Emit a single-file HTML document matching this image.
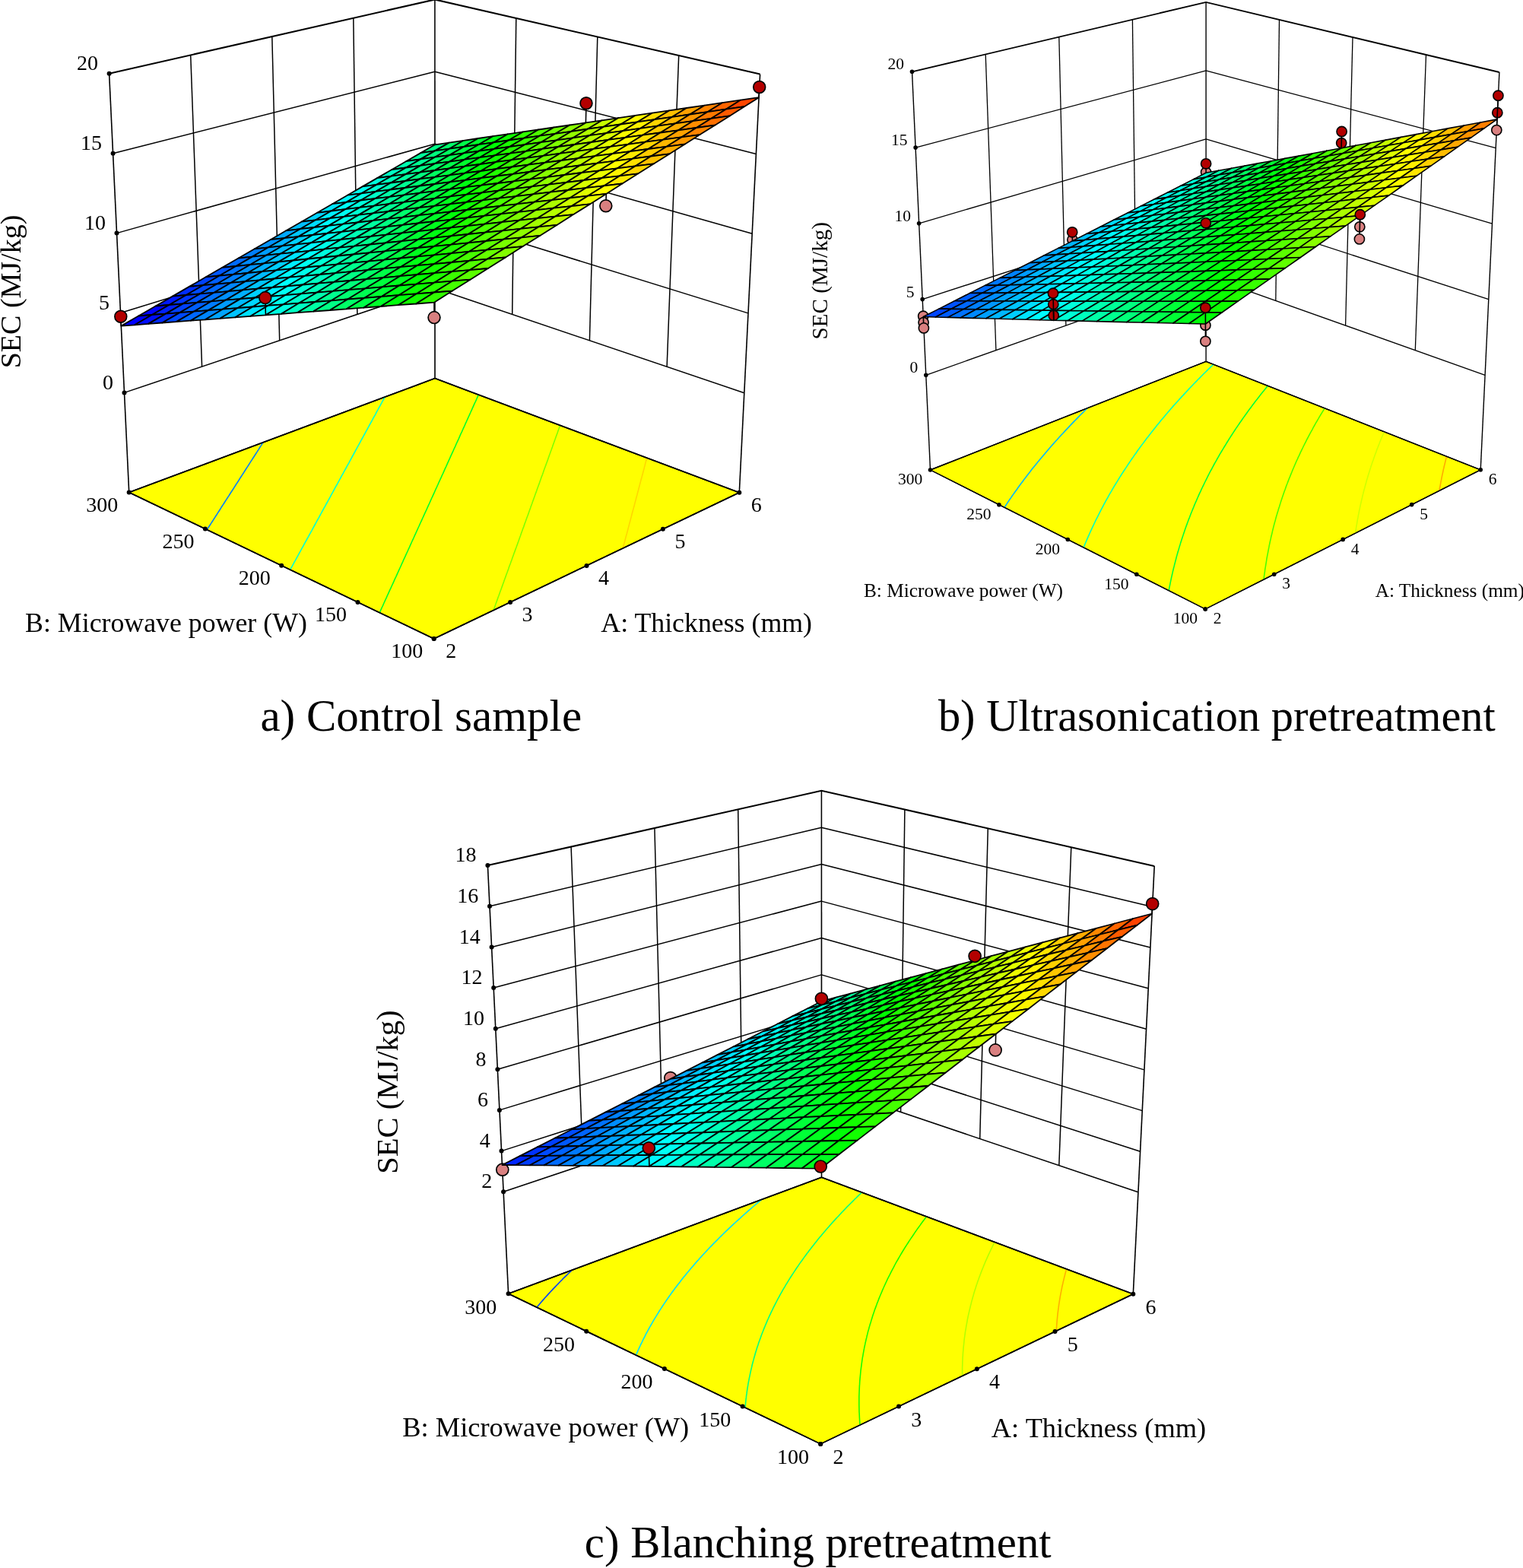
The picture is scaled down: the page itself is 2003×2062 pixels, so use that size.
<!DOCTYPE html>
<html><head><meta charset="utf-8"><style>
html,body{margin:0;padding:0;background:#fff;}
svg{display:block;}
text{font-family:'Liberation Serif','Times New Roman',serif;fill:#000;}
</style></head><body>
<svg width="2003" height="2062" viewBox="0 0 2003 2062">
<rect width="2003" height="2062" fill="#fff"/>
<line x1="163.5" y1="516.4" x2="572" y2="379" stroke="#000" stroke-width="1.5"/>
<line x1="572" y1="379" x2="978.8" y2="516.7" stroke="#000" stroke-width="1.5"/>
<line x1="158.5" y1="411.5" x2="572" y2="284.1" stroke="#000" stroke-width="1.5"/>
<line x1="572" y1="284.1" x2="984" y2="411.9" stroke="#000" stroke-width="1.5"/>
<line x1="153.5" y1="306.6" x2="571.9" y2="189.2" stroke="#000" stroke-width="1.5"/>
<line x1="571.9" y1="189.2" x2="989.2" y2="307.2" stroke="#000" stroke-width="1.5"/>
<line x1="148.6" y1="201.7" x2="571.9" y2="94.3" stroke="#000" stroke-width="1.5"/>
<line x1="571.9" y1="94.3" x2="994.4" y2="202.4" stroke="#000" stroke-width="1.5"/>
<line x1="265.6" y1="482" x2="250.7" y2="72.4" stroke="#000" stroke-width="1.5"/>
<line x1="673.7" y1="413.4" x2="678.8" y2="23.9" stroke="#000" stroke-width="1.5"/>
<line x1="367.7" y1="447.7" x2="357.8" y2="48.1" stroke="#000" stroke-width="1.5"/>
<line x1="775.4" y1="447.9" x2="785.8" y2="48.5" stroke="#000" stroke-width="1.5"/>
<line x1="469.9" y1="413.3" x2="464.8" y2="23.7" stroke="#000" stroke-width="1.5"/>
<line x1="877.1" y1="482.3" x2="892.7" y2="73.1" stroke="#000" stroke-width="1.5"/>
<line x1="169.7" y1="647.5" x2="143.6" y2="96.8" stroke="#000" stroke-width="1.6"/>
<line x1="572" y1="497.6" x2="571.9" y2="-0.6" stroke="#000" stroke-width="1.6"/>
<line x1="972.3" y1="647.7" x2="999.6" y2="97.6" stroke="#000" stroke-width="1.6"/>
<polyline points="143.6,96.8 571.9,-0.6 999.6,97.6" fill="none" stroke="#000" stroke-width="2.1" stroke-linejoin="miter"/>
<polygon points="169.7,647.5 570.7,840 972.3,647.7 572,497.6" fill="#ffff00" stroke="#000" stroke-width="1.6" stroke-linejoin="round"/>
<polyline points="346,581.8 344.2,584.6 342.9,586.6 342.1,587.8 340.1,591.1 339.9,591.4 338,594.4 336.8,596.2 335.8,597.7 333.7,601 333.7,601 331.6,604.3 330.5,605.9 329.4,607.6 327.4,610.8 327.3,611 325.1,614.4 324.2,615.8 322.9,617.8 321,620.8 320.7,621.2 318.5,624.6 317.8,625.8 316.3,628 314.5,630.8 314.1,631.5 311.9,635 311.2,635.9 309.6,638.5 307.9,641.1 307.4,642 305.1,645.5 304.6,646.3 302.8,649 301.3,651.5 300.5,652.6 298.2,656.2 297.9,656.7 295.9,659.8 294.5,662 293.6,663.4 291.2,667 291,667.4 288.9,670.7 287.6,672.7 286.5,674.4 284.2,678.1 284.1,678.1 281.8,681.8 280.6,683.6 279.4,685.5 277.1,689.1 277,689.2 274.5,693 273.5,694.6 272.1,696.8" fill="none" stroke="#007fff" stroke-width="1.6"/>
<polyline points="506.4,521.7 505.2,523.8 504,526 503.6,526.7 502,529.7 501.6,530.4 500.4,532.7 499.2,534.8 498.7,535.7 497.1,538.7 496.8,539.2 495.4,541.7 494.4,543.6 493.8,544.8 492.1,547.8 491.9,548.1 490.4,550.9 489.5,552.6 488.7,554 487,557.1 487,557.2 485.3,560.2 484.5,561.7 483.6,563.3 482,566.3 481.9,566.5 480.2,569.6 479.4,571 478.4,572.8 476.9,575.6 476.7,576 474.9,579.2 474.3,580.3 473.2,582.4 471.7,585.1 471.4,585.7 469.6,588.9 469.1,589.8 467.8,592.2 466.5,594.6 466,595.5 464.2,598.8 463.8,599.5 462.4,602.1 461.2,604.3 460.6,605.4 458.8,608.8 458.5,609.3 456.9,612.1 455.8,614.2 455.1,615.5 453.2,618.9 453,619.2 451.3,622.3 450.3,624.2 449.4,625.7 447.6,629.2 447.5,629.2 445.7,632.6 444.7,634.3 443.8,636.1 441.9,639.5 441.8,639.6 439.9,643.1 439.1,644.6 438,646.7 436.2,649.8 436,650.2 434.1,653.8 433.4,655.1 432.1,657.4 430.5,660.3 430.1,661 428.1,664.6 427.6,665.7 426.1,668.2 424.6,671 424.1,671.9 422.1,675.6 421.6,676.4 420.1,679.3 418.7,681.9 418,683 416,686.7 415.6,687.3 413.9,690.5 412.6,692.9 411.8,694.3 409.8,698.1 409.6,698.4 407.7,701.9 406.5,704 405.6,705.7 403.4,709.5 403.4,709.7 401.3,713.4 400.2,715.4 399.2,717.3 397.1,721.1 397,721.2 394.9,725.2 393.9,726.9 392.7,729.1 390.7,732.8 390.5,733.1 388.3,737.1 387.4,738.6 386.1,741.1 384.2,744.6 383.9,745.1 381.6,749.2" fill="none" stroke="#00ffd6" stroke-width="1.6"/>
<polyline points="629.5,518.9 628.8,520.3 628.1,521.8 626.9,524.6 626.8,524.8 625.5,527.8 624.9,529 624.1,530.7 622.9,533.4 622.8,533.7 621.4,536.7 620.9,537.8 620,539.8 618.9,542.2 618.7,542.8 617.3,545.8 616.9,546.7 615.9,548.9 614.9,551.2 614.5,552 613.1,555.1 612.8,555.7 611.7,558.2 610.8,560.3 610.3,561.3 608.9,564.4 608.7,564.8 607.5,567.6 606.6,569.5 606,570.7 604.6,573.9 604.5,574.1 603.2,577.1 602.4,578.8 601.7,580.3 600.2,583.5 600.2,583.5 598.8,586.8 598.1,588.3 597.3,590 595.9,593.1 595.8,593.3 594.3,596.6 593.7,597.9 592.8,599.9 591.5,602.8 591.3,603.2 589.8,606.6 589.3,607.7 588.3,609.9 587.1,612.6 586.8,613.3 585.2,616.7 584.8,617.6 583.7,620.1 582.6,622.6 582.1,623.5 580.6,626.9 580.3,627.6 579,630.4 578,632.7 577.4,633.8 575.9,637.3 575.6,637.8 574.3,640.8 573.3,642.9 572.7,644.3 571.1,647.9 571,648.1 569.5,651.4 568.6,653.4 567.8,655 566.2,658.6 566.2,658.6 564.6,662.2 563.8,663.9 562.9,665.8 561.3,669.3 561.3,669.5 559.6,673.1 558.9,674.7 557.9,676.8 556.4,680.1 556.2,680.5 554.5,684.3 553.9,685.6 552.8,688 551.4,691.1 551.1,691.8 549.4,695.5 548.9,696.6 547.7,699.3 546.4,702.2 545.9,703.2 544.2,707 543.8,707.9 542.4,710.8 541.2,713.5 540.7,714.7 538.9,718.6 538.6,719.3 537.1,722.5 536,725 535.3,726.5 533.5,730.4 533.3,730.9 531.7,734.4 530.6,736.7 529.9,738.4 528,742.5 528,742.6 526.2,746.5 525.2,748.6 524.3,750.6 522.5,754.6 522.5,754.7 520.6,758.8 519.7,760.6 518.7,762.9 517,766.8 516.8,767.1 514.9,771.2 514.2,772.9 513,775.4 511.3,779.1 511.1,779.7 509.1,783.9 508.5,785.4 507.2,788.2 505.6,791.7 505.2,792.5 503.3,796.8 502.7,798 501.3,801.1 499.8,804.4 499.3,805.5" fill="none" stroke="#00ff2c" stroke-width="1.6"/>
<polyline points="649.1,802.3 650.6,798.3 651.4,795.9 652.1,793.9 653.7,789.6 653.7,789.6 655.2,785.3 656,783.3 656.8,781.1 658.2,777 658.3,776.9 659.8,772.7 660.5,770.9 661.3,768.5 662.7,764.7 662.8,764.3 664.3,760.2 664.9,758.6 665.8,756.1 667.1,752.6 667.3,752 668.8,747.9 669.2,746.6 670.2,743.8 671.4,740.7 671.7,739.8 673.2,735.8 673.5,734.8 674.6,731.8 675.6,728.9 676,727.8 677.5,723.9 677.7,723.1 678.9,720 679.8,717.4 680.3,716.1 681.7,712.2 681.9,711.7 683.1,708.3 683.9,706 684.5,704.5 685.8,700.6 685.9,700.4 687.2,696.8 687.9,694.8 688.6,693.1 689.9,689.3 689.9,689.2 691.3,685.5 691.9,683.8 692.6,681.8 693.9,678.3 694,678.1 695.3,674.4 695.8,672.9 696.6,670.7 697.8,667.5 697.9,667.1 699.2,663.5 699.7,662.2 700.5,659.8 701.6,656.9 701.8,656.3 703.1,652.7 703.5,651.6 704.4,649.1 705.4,646.4 705.7,645.6 706.9,642 707.2,641.2 708.2,638.5 709.1,636.1 709.5,635 710.7,631.6 710.9,631 711.9,628.1 712.7,625.9 713.2,624.7 714.4,621.3 714.5,620.9 715.6,617.8 716.3,615.9 716.8,614.5 718.1,611.1 718.1,611 719.3,607.7 719.9,606.1 720.5,604.4 721.6,601.2 721.7,601.1 722.8,597.8 723.4,596.3 724,594.5 725.1,591.5 725.2,591.2 726.4,587.9 726.8,586.7 727.5,584.7 728.5,582 728.7,581.5 729.8,578.2 730.2,577.3 731,575 731.9,572.6 732.1,571.9 733.3,568.7 733.5,567.9 734.4,565.5 735.2,563.3 735.5,562.4 736.6,559.3" fill="none" stroke="#7eff00" stroke-width="1.6"/>
<polyline points="819.1,721.2 820.1,717.4 820.7,715.4 821.2,713.5 822.2,709.7 822.2,709.7 823.2,705.8 823.7,704.1 824.3,702 825.2,698.5 825.3,698.2 826.3,694.4 826.7,692.9 827.3,690.6 828.1,687.4 828.3,686.9 829.3,683.1 829.6,681.9 830.3,679.4 831,676.5 831.2,675.7 832.2,672 832.5,671.1 833.2,668.4 833.9,665.7 834.2,664.7 835.1,661.1 835.3,660.4 836.1,657.5 836.7,655.1 837,653.9 838,650.4 838.1,649.9 838.9,646.8 839.5,644.7 839.8,643.3 840.8,639.8 840.8,639.5 841.7,636.3 842.2,634.4 842.6,632.8 843.5,629.3 843.6,629.3 844.5,625.9 844.9,624.3 845.4,622.5 846.2,619.2 846.3,619.1 847.2,615.7 847.5,614.3 848.1,612.3 848.8,609.3 848.9,608.9 849.8,605.6 850.1,604.4 850.7,602.2" fill="none" stroke="#ffd600" stroke-width="1.6"/>
<polygon points="169.7,647.5 570.7,840 972.3,647.7 572,497.6" fill="none" stroke="#000" stroke-width="1.6" stroke-linejoin="round"/>
<circle cx="163.5" cy="516.4" r="3" fill="#000"/>
<circle cx="158.5" cy="411.5" r="3" fill="#000"/>
<circle cx="153.5" cy="306.6" r="3" fill="#000"/>
<circle cx="148.6" cy="201.7" r="3" fill="#000"/>
<circle cx="143.6" cy="96.8" r="3" fill="#000"/>
<circle cx="169.7" cy="647.5" r="3" fill="#000"/>
<circle cx="570.7" cy="840" r="3" fill="#000"/>
<circle cx="269.9" cy="695.6" r="3" fill="#000"/>
<circle cx="671.1" cy="791.9" r="3" fill="#000"/>
<circle cx="370.2" cy="743.8" r="3" fill="#000"/>
<circle cx="771.5" cy="743.9" r="3" fill="#000"/>
<circle cx="470.5" cy="791.9" r="3" fill="#000"/>
<circle cx="871.9" cy="695.8" r="3" fill="#000"/>
<circle cx="570.7" cy="840" r="3" fill="#000"/>
<circle cx="972.3" cy="647.7" r="3" fill="#000"/>
<line x1="796.8" y1="270.7" x2="797.3" y2="254.9" stroke="#000" stroke-width="1.6"/>
<circle cx="796.8" cy="270.7" r="7.9" fill="#d98080" stroke="#000" stroke-width="1.7"/>
<line x1="571" y1="417.6" x2="571" y2="397.7" stroke="#000" stroke-width="1.6"/>
<circle cx="571" cy="417.6" r="7.9" fill="#d98080" stroke="#000" stroke-width="1.7"/>
<polygon points="572,198.4 590.7,187.6 572,190.3 553.3,201.1" fill="#00ff87" stroke="#000" stroke-width="1.8" stroke-linejoin="round"/>
<polygon points="553.1,209.4 572,198.4 553.3,201.1 534.4,212" fill="#00ff9c" stroke="#000" stroke-width="1.8" stroke-linejoin="round"/>
<polygon points="590.9,195.7 609.6,184.8 590.7,187.6 572,198.4" fill="#00ff69" stroke="#000" stroke-width="1.8" stroke-linejoin="round"/>
<polygon points="533.9,220.5 553.1,209.4 534.4,212 515.4,223" fill="#00ffb0" stroke="#000" stroke-width="1.8" stroke-linejoin="round"/>
<polygon points="571.9,206.7 590.9,195.7 572,198.4 553.1,209.4" fill="#00ff7d" stroke="#000" stroke-width="1.8" stroke-linejoin="round"/>
<polygon points="610,193 628.8,182 609.6,184.8 590.9,195.7" fill="#00ff4a" stroke="#000" stroke-width="1.8" stroke-linejoin="round"/>
<polygon points="514.7,231.6 533.9,220.5 515.4,223 496.1,234.1" fill="#00ffc5" stroke="#000" stroke-width="1.8" stroke-linejoin="round"/>
<polygon points="552.8,217.9 571.9,206.7 553.1,209.4 533.9,220.5" fill="#00ff92" stroke="#000" stroke-width="1.8" stroke-linejoin="round"/>
<polygon points="591,204.1 610,193 590.9,195.7 571.9,206.7" fill="#00ff5f" stroke="#000" stroke-width="1.8" stroke-linejoin="round"/>
<polygon points="629.4,190.2 648.2,179.2 628.8,182 610,193" fill="#00ff2c" stroke="#000" stroke-width="1.8" stroke-linejoin="round"/>
<polygon points="495.2,242.9 514.7,231.6 496.1,234.1 476.6,245.4" fill="#00ffda" stroke="#000" stroke-width="1.8" stroke-linejoin="round"/>
<polygon points="533.5,229.1 552.8,217.9 533.9,220.5 514.7,231.6" fill="#00ffa7" stroke="#000" stroke-width="1.8" stroke-linejoin="round"/>
<polygon points="571.9,215.2 591,204.1 571.9,206.7 552.8,217.9" fill="#00ff74" stroke="#000" stroke-width="1.8" stroke-linejoin="round"/>
<polygon points="610.4,201.3 629.4,190.2 610,193 591,204.1" fill="#00ff41" stroke="#000" stroke-width="1.8" stroke-linejoin="round"/>
<polygon points="475.5,254.3 495.2,242.9 476.6,245.4 457,256.7" fill="#00ffee" stroke="#000" stroke-width="1.8" stroke-linejoin="round"/>
<polygon points="649.1,187.4 667.9,176.3 648.2,179.2 629.4,190.2" fill="#00ff0e" stroke="#000" stroke-width="1.8" stroke-linejoin="round"/>
<polygon points="513.9,240.5 533.5,229.1 514.7,231.6 495.2,242.9" fill="#00ffbb" stroke="#000" stroke-width="1.8" stroke-linejoin="round"/>
<polygon points="552.5,226.6 571.9,215.2 552.8,217.9 533.5,229.1" fill="#00ff88" stroke="#000" stroke-width="1.8" stroke-linejoin="round"/>
<polygon points="591.2,212.6 610.4,201.3 591,204.1 571.9,215.2" fill="#00ff55" stroke="#000" stroke-width="1.8" stroke-linejoin="round"/>
<polygon points="455.6,265.9 475.5,254.3 457,256.7 437.1,268.2" fill="#00fbff" stroke="#000" stroke-width="1.8" stroke-linejoin="round"/>
<polygon points="630,198.6 649.1,187.4 629.4,190.2 610.4,201.3" fill="#00ff23" stroke="#000" stroke-width="1.8" stroke-linejoin="round"/>
<polygon points="494.2,251.9 513.9,240.5 495.2,242.9 475.5,254.3" fill="#00ffd0" stroke="#000" stroke-width="1.8" stroke-linejoin="round"/>
<polygon points="669,184.5 687.8,173.4 667.9,176.3 649.1,187.4" fill="#10ff00" stroke="#000" stroke-width="1.8" stroke-linejoin="round"/>
<polygon points="533,238 552.5,226.6 533.5,229.1 513.9,240.5" fill="#00ff9d" stroke="#000" stroke-width="1.8" stroke-linejoin="round"/>
<polygon points="571.8,224 591.2,212.6 571.9,215.2 552.5,226.6" fill="#00ff6a" stroke="#000" stroke-width="1.8" stroke-linejoin="round"/>
<polygon points="435.5,277.5 455.6,265.9 437.1,268.2 417.1,279.8" fill="#00e6ff" stroke="#000" stroke-width="1.8" stroke-linejoin="round"/>
<polygon points="610.8,209.9 630,198.6 610.4,201.3 591.2,212.6" fill="#00ff37" stroke="#000" stroke-width="1.8" stroke-linejoin="round"/>
<polygon points="474.3,263.5 494.2,251.9 475.5,254.3 455.6,265.9" fill="#00ffe5" stroke="#000" stroke-width="1.8" stroke-linejoin="round"/>
<polygon points="649.9,195.8 669,184.5 649.1,187.4 630,198.6" fill="#00ff04" stroke="#000" stroke-width="1.8" stroke-linejoin="round"/>
<polygon points="513.2,249.5 533,238 513.9,240.5 494.2,251.9" fill="#00ffb2" stroke="#000" stroke-width="1.8" stroke-linejoin="round"/>
<polygon points="689.2,181.7 708.1,170.5 687.8,173.4 669,184.5" fill="#2fff00" stroke="#000" stroke-width="1.8" stroke-linejoin="round"/>
<polygon points="552.2,235.4 571.8,224 552.5,226.6 533,238" fill="#00ff7f" stroke="#000" stroke-width="1.8" stroke-linejoin="round"/>
<polygon points="415.2,289.3 435.5,277.5 417.1,279.8 396.8,291.5" fill="#00d2ff" stroke="#000" stroke-width="1.8" stroke-linejoin="round"/>
<polygon points="591.4,221.3 610.8,209.9 591.2,212.6 571.8,224" fill="#00ff4c" stroke="#000" stroke-width="1.8" stroke-linejoin="round"/>
<polygon points="454.2,275.2 474.3,263.5 455.6,265.9 435.5,277.5" fill="#00fff9" stroke="#000" stroke-width="1.8" stroke-linejoin="round"/>
<polygon points="630.7,207.2 649.9,195.8 630,198.6 610.8,209.9" fill="#00ff19" stroke="#000" stroke-width="1.8" stroke-linejoin="round"/>
<polygon points="493.2,261.2 513.2,249.5 494.2,251.9 474.3,263.5" fill="#00ffc6" stroke="#000" stroke-width="1.8" stroke-linejoin="round"/>
<polygon points="670.1,193 689.2,181.7 669,184.5 649.9,195.8" fill="#1aff00" stroke="#000" stroke-width="1.8" stroke-linejoin="round"/>
<polygon points="532.5,247 552.2,235.4 533,238 513.2,249.5" fill="#00ff93" stroke="#000" stroke-width="1.8" stroke-linejoin="round"/>
<polygon points="394.7,301.2 415.2,289.3 396.8,291.5 376.3,303.3" fill="#00bdff" stroke="#000" stroke-width="1.8" stroke-linejoin="round"/>
<polygon points="709.7,178.7 728.5,167.5 708.1,170.5 689.2,181.7" fill="#4dff00" stroke="#000" stroke-width="1.8" stroke-linejoin="round"/>
<polygon points="571.8,232.9 591.4,221.3 571.8,224 552.2,235.4" fill="#00ff60" stroke="#000" stroke-width="1.8" stroke-linejoin="round"/>
<polygon points="433.8,287.1 454.2,275.2 435.5,277.5 415.2,289.3" fill="#00f0ff" stroke="#000" stroke-width="1.8" stroke-linejoin="round"/>
<polygon points="611.3,218.7 630.7,207.2 610.8,209.9 591.4,221.3" fill="#00ff2e" stroke="#000" stroke-width="1.8" stroke-linejoin="round"/>
<polygon points="473.1,272.9 493.2,261.2 474.3,263.5 454.2,275.2" fill="#00ffdb" stroke="#000" stroke-width="1.8" stroke-linejoin="round"/>
<polygon points="650.8,204.4 670.1,193 649.9,195.8 630.7,207.2" fill="#05ff00" stroke="#000" stroke-width="1.8" stroke-linejoin="round"/>
<polygon points="512.5,258.8 532.5,247 513.2,249.5 493.2,261.2" fill="#00ffa8" stroke="#000" stroke-width="1.8" stroke-linejoin="round"/>
<polygon points="373.9,313.2 394.7,301.2 376.3,303.3 355.7,315.2" fill="#00a8ff" stroke="#000" stroke-width="1.8" stroke-linejoin="round"/>
<polygon points="690.6,190.1 709.7,178.7 689.2,181.7 670.1,193" fill="#38ff00" stroke="#000" stroke-width="1.8" stroke-linejoin="round"/>
<polygon points="552,244.5 571.8,232.9 552.2,235.4 532.5,247" fill="#00ff75" stroke="#000" stroke-width="1.8" stroke-linejoin="round"/>
<polygon points="413.3,299 433.8,287.1 415.2,289.3 394.7,301.2" fill="#00dbff" stroke="#000" stroke-width="1.8" stroke-linejoin="round"/>
<polygon points="730.4,175.8 749.3,164.5 728.5,167.5 709.7,178.7" fill="#6bff00" stroke="#000" stroke-width="1.8" stroke-linejoin="round"/>
<polygon points="591.6,230.3 611.3,218.7 591.4,221.3 571.8,232.9" fill="#00ff42" stroke="#000" stroke-width="1.8" stroke-linejoin="round"/>
<polygon points="452.7,284.8 473.1,272.9 454.2,275.2 433.8,287.1" fill="#00fff0" stroke="#000" stroke-width="1.8" stroke-linejoin="round"/>
<polygon points="631.4,216 650.8,204.4 630.7,207.2 611.3,218.7" fill="#00ff0f" stroke="#000" stroke-width="1.8" stroke-linejoin="round"/>
<polygon points="492.2,270.6 512.5,258.8 493.2,261.2 473.1,272.9" fill="#00ffbd" stroke="#000" stroke-width="1.8" stroke-linejoin="round"/>
<polygon points="353,325.3 373.9,313.2 355.7,315.2 334.8,327.3" fill="#0094ff" stroke="#000" stroke-width="1.8" stroke-linejoin="round"/>
<polygon points="671.3,201.6 690.6,190.1 670.1,193 650.8,204.4" fill="#24ff00" stroke="#000" stroke-width="1.8" stroke-linejoin="round"/>
<polygon points="531.9,256.3 552,244.5 532.5,247 512.5,258.8" fill="#00ff8a" stroke="#000" stroke-width="1.8" stroke-linejoin="round"/>
<polygon points="392.5,311.1 413.3,299 394.7,301.2 373.9,313.2" fill="#00c7ff" stroke="#000" stroke-width="1.8" stroke-linejoin="round"/>
<polygon points="711.3,187.2 730.4,175.8 709.7,178.7 690.6,190.1" fill="#56ff00" stroke="#000" stroke-width="1.8" stroke-linejoin="round"/>
<polygon points="571.7,242 591.6,230.3 571.8,232.9 552,244.5" fill="#00ff57" stroke="#000" stroke-width="1.8" stroke-linejoin="round"/>
<polygon points="432.1,296.9 452.7,284.8 433.8,287.1 413.3,299" fill="#00faff" stroke="#000" stroke-width="1.8" stroke-linejoin="round"/>
<polygon points="751.4,172.8 770.4,161.4 749.3,164.5 730.4,175.8" fill="#89ff00" stroke="#000" stroke-width="1.8" stroke-linejoin="round"/>
<polygon points="611.7,227.6 631.4,216 611.3,218.7 591.6,230.3" fill="#00ff24" stroke="#000" stroke-width="1.8" stroke-linejoin="round"/>
<polygon points="471.8,282.6 492.2,270.6 473.1,272.9 452.7,284.8" fill="#00ffd1" stroke="#000" stroke-width="1.8" stroke-linejoin="round"/>
<polygon points="331.8,337.6 353,325.3 334.8,327.3 313.6,339.5" fill="#007fff" stroke="#000" stroke-width="1.8" stroke-linejoin="round"/>
<polygon points="651.8,213.2 671.3,201.6 650.8,204.4 631.4,216" fill="#0fff00" stroke="#000" stroke-width="1.8" stroke-linejoin="round"/>
<polygon points="511.7,268.2 531.9,256.3 512.5,258.8 492.2,270.6" fill="#00ff9e" stroke="#000" stroke-width="1.8" stroke-linejoin="round"/>
<polygon points="371.5,323.3 392.5,311.1 373.9,313.2 353,325.3" fill="#00b2ff" stroke="#000" stroke-width="1.8" stroke-linejoin="round"/>
<polygon points="692,198.8 711.3,187.2 690.6,190.1 671.3,201.6" fill="#42ff00" stroke="#000" stroke-width="1.8" stroke-linejoin="round"/>
<polygon points="551.7,253.9 571.7,242 552,244.5 531.9,256.3" fill="#00ff6c" stroke="#000" stroke-width="1.8" stroke-linejoin="round"/>
<polygon points="411.3,309 432.1,296.9 413.3,299 392.5,311.1" fill="#00e5ff" stroke="#000" stroke-width="1.8" stroke-linejoin="round"/>
<polygon points="732.3,184.3 751.4,172.8 730.4,175.8 711.3,187.2" fill="#75ff00" stroke="#000" stroke-width="1.8" stroke-linejoin="round"/>
<polygon points="591.8,239.4 611.7,227.6 591.6,230.3 571.7,242" fill="#00ff39" stroke="#000" stroke-width="1.8" stroke-linejoin="round"/>
<polygon points="451.2,294.7 471.8,282.6 452.7,284.8 432.1,296.9" fill="#00ffe6" stroke="#000" stroke-width="1.8" stroke-linejoin="round"/>
<polygon points="310.4,350 331.8,337.6 313.6,339.5 292.3,351.8" fill="#006aff" stroke="#000" stroke-width="1.8" stroke-linejoin="round"/>
<polygon points="772.8,169.7 791.7,158.3 770.4,161.4 751.4,172.8" fill="#a8ff00" stroke="#000" stroke-width="1.8" stroke-linejoin="round"/>
<polygon points="632.1,225 651.8,213.2 631.4,216 611.7,227.6" fill="#00ff06" stroke="#000" stroke-width="1.8" stroke-linejoin="round"/>
<polygon points="491.2,280.3 511.7,268.2 492.2,270.6 471.8,282.6" fill="#00ffb3" stroke="#000" stroke-width="1.8" stroke-linejoin="round"/>
<polygon points="350.3,335.7 371.5,323.3 353,325.3 331.8,337.6" fill="#009dff" stroke="#000" stroke-width="1.8" stroke-linejoin="round"/>
<polygon points="672.4,210.4 692,198.8 671.3,201.6 651.8,213.2" fill="#2dff00" stroke="#000" stroke-width="1.8" stroke-linejoin="round"/>
<polygon points="531.4,265.8 551.7,253.9 531.9,256.3 511.7,268.2" fill="#00ff80" stroke="#000" stroke-width="1.8" stroke-linejoin="round"/>
<polygon points="390.2,321.3 411.3,309 392.5,311.1 371.5,323.3" fill="#00d0ff" stroke="#000" stroke-width="1.8" stroke-linejoin="round"/>
<polygon points="713,195.9 732.3,184.3 711.3,187.2 692,198.8" fill="#60ff00" stroke="#000" stroke-width="1.8" stroke-linejoin="round"/>
<polygon points="571.7,251.4 591.8,239.4 571.7,242 551.7,253.9" fill="#00ff4d" stroke="#000" stroke-width="1.8" stroke-linejoin="round"/>
<polygon points="430.3,306.9 451.2,294.7 432.1,296.9 411.3,309" fill="#00fffb" stroke="#000" stroke-width="1.8" stroke-linejoin="round"/>
<polygon points="288.8,362.5 310.4,350 292.3,351.8 270.7,364.3" fill="#0056ff" stroke="#000" stroke-width="1.8" stroke-linejoin="round"/>
<polygon points="753.6,181.3 772.8,169.7 751.4,172.8 732.3,184.3" fill="#93ff00" stroke="#000" stroke-width="1.8" stroke-linejoin="round"/>
<polygon points="612.1,236.8 632.1,225 611.7,227.6 591.8,239.4" fill="#00ff1a" stroke="#000" stroke-width="1.8" stroke-linejoin="round"/>
<polygon points="470.5,292.5 491.2,280.3 471.8,282.6 451.2,294.7" fill="#00ffc8" stroke="#000" stroke-width="1.8" stroke-linejoin="round"/>
<polygon points="328.8,348.2 350.3,335.7 331.8,337.6 310.4,350" fill="#0089ff" stroke="#000" stroke-width="1.8" stroke-linejoin="round"/>
<polygon points="794.4,166.6 813.4,155.1 791.7,158.3 772.8,169.7" fill="#c6ff00" stroke="#000" stroke-width="1.8" stroke-linejoin="round"/>
<polygon points="652.7,222.2 672.4,210.4 651.8,213.2 632.1,225" fill="#19ff00" stroke="#000" stroke-width="1.8" stroke-linejoin="round"/>
<polygon points="510.9,278 531.4,265.8 511.7,268.2 491.2,280.3" fill="#00ff95" stroke="#000" stroke-width="1.8" stroke-linejoin="round"/>
<polygon points="369,333.7 390.2,321.3 371.5,323.3 350.3,335.7" fill="#00bcff" stroke="#000" stroke-width="1.8" stroke-linejoin="round"/>
<polygon points="693.4,207.6 713,195.9 692,198.8 672.4,210.4" fill="#4bff00" stroke="#000" stroke-width="1.8" stroke-linejoin="round"/>
<polygon points="551.4,263.4 571.7,251.4 551.7,253.9 531.4,265.8" fill="#00ff62" stroke="#000" stroke-width="1.8" stroke-linejoin="round"/>
<polygon points="409.2,319.3 430.3,306.9 411.3,309 390.2,321.3" fill="#00efff" stroke="#000" stroke-width="1.8" stroke-linejoin="round"/>
<polygon points="266.9,375.2 288.8,362.5 270.7,364.3 248.9,376.9" fill="#0041ff" stroke="#000" stroke-width="1.8" stroke-linejoin="round"/>
<polygon points="734.2,193 753.6,181.3 732.3,184.3 713,195.9" fill="#7eff00" stroke="#000" stroke-width="1.8" stroke-linejoin="round"/>
<polygon points="592,248.8 612.1,236.8 591.8,239.4 571.7,251.4" fill="#00ff2f" stroke="#000" stroke-width="1.8" stroke-linejoin="round"/>
<polygon points="449.6,304.8 470.5,292.5 451.2,294.7 430.3,306.9" fill="#00ffdc" stroke="#000" stroke-width="1.8" stroke-linejoin="round"/>
<polygon points="307.1,360.8 328.8,348.2 310.4,350 288.8,362.5" fill="#0074ff" stroke="#000" stroke-width="1.8" stroke-linejoin="round"/>
<polygon points="775.2,178.2 794.4,166.6 772.8,169.7 753.6,181.3" fill="#b1ff00" stroke="#000" stroke-width="1.8" stroke-linejoin="round"/>
<polygon points="632.8,234.2 652.7,222.2 632.1,225 612.1,236.8" fill="#04ff00" stroke="#000" stroke-width="1.8" stroke-linejoin="round"/>
<polygon points="490.2,290.2 510.9,278 491.2,280.3 470.5,292.5" fill="#00ffa9" stroke="#000" stroke-width="1.8" stroke-linejoin="round"/>
<polygon points="347.5,346.3 369,333.7 350.3,335.7 328.8,348.2" fill="#00a7ff" stroke="#000" stroke-width="1.8" stroke-linejoin="round"/>
<polygon points="816.3,163.5 835.3,151.9 813.4,155.1 794.4,166.6" fill="#e4ff00" stroke="#000" stroke-width="1.8" stroke-linejoin="round"/>
<polygon points="673.6,219.5 693.4,207.6 672.4,210.4 652.7,222.2" fill="#37ff00" stroke="#000" stroke-width="1.8" stroke-linejoin="round"/>
<polygon points="530.8,275.6 551.4,263.4 531.4,265.8 510.9,278" fill="#00ff77" stroke="#000" stroke-width="1.8" stroke-linejoin="round"/>
<polygon points="387.9,331.8 409.2,319.3 390.2,321.3 369,333.7" fill="#00daff" stroke="#000" stroke-width="1.8" stroke-linejoin="round"/>
<polygon points="244.9,388 266.9,375.2 248.9,376.9 226.9,389.6" fill="#002cff" stroke="#000" stroke-width="1.8" stroke-linejoin="round"/>
<polygon points="714.7,204.8 734.2,193 713,195.9 693.4,207.6" fill="#6aff00" stroke="#000" stroke-width="1.8" stroke-linejoin="round"/>
<polygon points="571.7,260.9 592,248.8 571.7,251.4 551.4,263.4" fill="#00ff44" stroke="#000" stroke-width="1.8" stroke-linejoin="round"/>
<polygon points="428.5,317.2 449.6,304.8 430.3,306.9 409.2,319.3" fill="#00fff1" stroke="#000" stroke-width="1.8" stroke-linejoin="round"/>
<polygon points="285.2,373.5 307.1,360.8 288.8,362.5 266.9,375.2" fill="#005fff" stroke="#000" stroke-width="1.8" stroke-linejoin="round"/>
<polygon points="755.8,190 775.2,178.2 753.6,181.3 734.2,193" fill="#9dff00" stroke="#000" stroke-width="1.8" stroke-linejoin="round"/>
<polygon points="612.6,246.2 632.8,234.2 612.1,236.8 592,248.8" fill="#00ff11" stroke="#000" stroke-width="1.8" stroke-linejoin="round"/>
<polygon points="469.2,302.6 490.2,290.2 470.5,292.5 449.6,304.8" fill="#00ffbe" stroke="#000" stroke-width="1.8" stroke-linejoin="round"/>
<polygon points="325.7,359 347.5,346.3 328.8,348.2 307.1,360.8" fill="#0092ff" stroke="#000" stroke-width="1.8" stroke-linejoin="round"/>
<polygon points="797.1,175.2 816.3,163.5 794.4,166.6 775.2,178.2" fill="#cfff00" stroke="#000" stroke-width="1.8" stroke-linejoin="round"/>
<polygon points="653.7,231.5 673.6,219.5 652.7,222.2 632.8,234.2" fill="#22ff00" stroke="#000" stroke-width="1.8" stroke-linejoin="round"/>
<polygon points="510.1,287.9 530.8,275.6 510.9,278 490.2,290.2" fill="#00ff8b" stroke="#000" stroke-width="1.8" stroke-linejoin="round"/>
<polygon points="366.4,344.4 387.9,331.8 369,333.7 347.5,346.3" fill="#00c5ff" stroke="#000" stroke-width="1.8" stroke-linejoin="round"/>
<polygon points="838.6,160.3 857.6,148.7 835.3,151.9 816.3,163.5" fill="#fffc00" stroke="#000" stroke-width="1.8" stroke-linejoin="round"/>
<polygon points="222.5,401 244.9,388 226.9,389.6 204.6,402.5" fill="#0018ff" stroke="#000" stroke-width="1.8" stroke-linejoin="round"/>
<polygon points="694.9,216.7 714.7,204.8 693.4,207.6 673.6,219.5" fill="#55ff00" stroke="#000" stroke-width="1.8" stroke-linejoin="round"/>
<polygon points="551.1,273.2 571.7,260.9 551.4,263.4 530.8,275.6" fill="#00ff58" stroke="#000" stroke-width="1.8" stroke-linejoin="round"/>
<polygon points="407.1,329.8 428.5,317.2 409.2,319.3 387.9,331.8" fill="#00f8ff" stroke="#000" stroke-width="1.8" stroke-linejoin="round"/>
<polygon points="263.1,386.4 285.2,373.5 266.9,375.2 244.9,388" fill="#004bff" stroke="#000" stroke-width="1.8" stroke-linejoin="round"/>
<polygon points="736.2,201.9 755.8,190 734.2,193 714.7,204.8" fill="#88ff00" stroke="#000" stroke-width="1.8" stroke-linejoin="round"/>
<polygon points="592.2,258.4 612.6,246.2 592,248.8 571.7,260.9" fill="#00ff25" stroke="#000" stroke-width="1.8" stroke-linejoin="round"/>
<polygon points="448.1,315.1 469.2,302.6 449.6,304.8 428.5,317.2" fill="#00ffd3" stroke="#000" stroke-width="1.8" stroke-linejoin="round"/>
<polygon points="303.8,371.8 325.7,359 307.1,360.8 285.2,373.5" fill="#007eff" stroke="#000" stroke-width="1.8" stroke-linejoin="round"/>
<polygon points="777.7,187 797.1,175.2 775.2,178.2 755.8,190" fill="#bbff00" stroke="#000" stroke-width="1.8" stroke-linejoin="round"/>
<polygon points="633.5,243.6 653.7,231.5 632.8,234.2 612.6,246.2" fill="#0eff00" stroke="#000" stroke-width="1.8" stroke-linejoin="round"/>
<polygon points="489.1,300.4 510.1,287.9 490.2,290.2 469.2,302.6" fill="#00ffa0" stroke="#000" stroke-width="1.8" stroke-linejoin="round"/>
<polygon points="344.6,357.2 366.4,344.4 347.5,346.3 325.7,359" fill="#00b1ff" stroke="#000" stroke-width="1.8" stroke-linejoin="round"/>
<polygon points="819.4,172.1 838.6,160.3 816.3,163.5 797.1,175.2" fill="#eeff00" stroke="#000" stroke-width="1.8" stroke-linejoin="round"/>
<polygon points="199.9,414 222.5,401 204.6,402.5 182.1,415.5" fill="#0003ff" stroke="#000" stroke-width="1.8" stroke-linejoin="round"/>
<polygon points="674.9,228.8 694.9,216.7 673.6,219.5 653.7,231.5" fill="#40ff00" stroke="#000" stroke-width="1.8" stroke-linejoin="round"/>
<polygon points="530.3,285.6 551.1,273.2 530.8,275.6 510.1,287.9" fill="#00ff6d" stroke="#000" stroke-width="1.8" stroke-linejoin="round"/>
<polygon points="385.5,342.5 407.1,329.8 387.9,331.8 366.4,344.4" fill="#00e4ff" stroke="#000" stroke-width="1.8" stroke-linejoin="round"/>
<polygon points="861.1,157.1 880.1,145.4 857.6,148.7 838.6,160.3" fill="#ffdd00" stroke="#000" stroke-width="1.8" stroke-linejoin="round"/>
<polygon points="240.7,399.4 263.1,386.4 244.9,388 222.5,401" fill="#0036ff" stroke="#000" stroke-width="1.8" stroke-linejoin="round"/>
<polygon points="716.4,213.9 736.2,201.9 714.7,204.8 694.9,216.7" fill="#73ff00" stroke="#000" stroke-width="1.8" stroke-linejoin="round"/>
<polygon points="571.6,270.8 592.2,258.4 571.7,260.9 551.1,273.2" fill="#00ff3a" stroke="#000" stroke-width="1.8" stroke-linejoin="round"/>
<polygon points="426.6,327.7 448.1,315.1 428.5,317.2 407.1,329.8" fill="#00ffe7" stroke="#000" stroke-width="1.8" stroke-linejoin="round"/>
<polygon points="281.6,384.8 303.8,371.8 285.2,373.5 263.1,386.4" fill="#0069ff" stroke="#000" stroke-width="1.8" stroke-linejoin="round"/>
<polygon points="758.1,198.9 777.7,187 755.8,190 736.2,201.9" fill="#a6ff00" stroke="#000" stroke-width="1.8" stroke-linejoin="round"/>
<polygon points="613.1,255.9 633.5,243.6 612.6,246.2 592.2,258.4" fill="#00ff07" stroke="#000" stroke-width="1.8" stroke-linejoin="round"/>
<polygon points="467.9,312.9 489.1,300.4 469.2,302.6 448.1,315.1" fill="#00ffb4" stroke="#000" stroke-width="1.8" stroke-linejoin="round"/>
<polygon points="322.6,370.1 344.6,357.2 325.7,359 303.8,371.8" fill="#009cff" stroke="#000" stroke-width="1.8" stroke-linejoin="round"/>
<polygon points="799.9,183.9 819.4,172.1 797.1,175.2 777.7,187" fill="#d9ff00" stroke="#000" stroke-width="1.8" stroke-linejoin="round"/>
<polygon points="177.1,427.3 199.9,414 182.1,415.5 159.3,428.6" fill="#0000ff" stroke="#000" stroke-width="1.8" stroke-linejoin="round"/>
<polygon points="654.7,241 674.9,228.8 653.7,231.5 633.5,243.6" fill="#2cff00" stroke="#000" stroke-width="1.8" stroke-linejoin="round"/>
<polygon points="509.3,298.1 530.3,285.6 510.1,287.9 489.1,300.4" fill="#00ff82" stroke="#000" stroke-width="1.8" stroke-linejoin="round"/>
<polygon points="363.7,355.3 385.5,342.5 366.4,344.4 344.6,357.2" fill="#00cfff" stroke="#000" stroke-width="1.8" stroke-linejoin="round"/>
<polygon points="841.9,168.9 861.1,157.1 838.6,160.3 819.4,172.1" fill="#fff200" stroke="#000" stroke-width="1.8" stroke-linejoin="round"/>
<polygon points="218,412.6 240.7,399.4 222.5,401 199.9,414" fill="#0021ff" stroke="#000" stroke-width="1.8" stroke-linejoin="round"/>
<polygon points="696.4,226 716.4,213.9 694.9,216.7 674.9,228.8" fill="#5fff00" stroke="#000" stroke-width="1.8" stroke-linejoin="round"/>
<polygon points="550.8,283.2 571.6,270.8 551.1,273.2 530.3,285.6" fill="#00ff4f" stroke="#000" stroke-width="1.8" stroke-linejoin="round"/>
<polygon points="405,340.5 426.6,327.7 407.1,329.8 385.5,342.5" fill="#00fffc" stroke="#000" stroke-width="1.8" stroke-linejoin="round"/>
<polygon points="884,153.8 903,142 880.1,145.4 861.1,157.1" fill="#ffbf00" stroke="#000" stroke-width="1.8" stroke-linejoin="round"/>
<polygon points="259.1,397.9 281.6,384.8 263.1,386.4 240.7,399.4" fill="#0054ff" stroke="#000" stroke-width="1.8" stroke-linejoin="round"/>
<polygon points="738.3,211 758.1,198.9 736.2,201.9 716.4,213.9" fill="#92ff00" stroke="#000" stroke-width="1.8" stroke-linejoin="round"/>
<polygon points="592.4,268.3 613.1,255.9 592.2,258.4 571.6,270.8" fill="#00ff1c" stroke="#000" stroke-width="1.8" stroke-linejoin="round"/>
<polygon points="446.4,325.7 467.9,312.9 448.1,315.1 426.6,327.7" fill="#00ffc9" stroke="#000" stroke-width="1.8" stroke-linejoin="round"/>
<polygon points="300.3,383.1 322.6,370.1 303.8,371.8 281.6,384.8" fill="#0087ff" stroke="#000" stroke-width="1.8" stroke-linejoin="round"/>
<polygon points="780.3,195.9 799.9,183.9 777.7,187 758.1,198.9" fill="#c5ff00" stroke="#000" stroke-width="1.8" stroke-linejoin="round"/>
<polygon points="634.2,253.3 654.7,241 633.5,243.6 613.1,255.9" fill="#17ff00" stroke="#000" stroke-width="1.8" stroke-linejoin="round"/>
<polygon points="488,310.8 509.3,298.1 489.1,300.4 467.9,312.9" fill="#00ff96" stroke="#000" stroke-width="1.8" stroke-linejoin="round"/>
<polygon points="341.6,368.3 363.7,355.3 344.6,357.2 322.6,370.1" fill="#00baff" stroke="#000" stroke-width="1.8" stroke-linejoin="round"/>
<polygon points="822.5,180.8 841.9,168.9 819.4,172.1 799.9,183.9" fill="#f7ff00" stroke="#000" stroke-width="1.8" stroke-linejoin="round"/>
<polygon points="195.1,425.9 218,412.6 199.9,414 177.1,427.3" fill="#000dff" stroke="#000" stroke-width="1.8" stroke-linejoin="round"/>
<polygon points="676.2,238.3 696.4,226 674.9,228.8 654.7,241" fill="#4aff00" stroke="#000" stroke-width="1.8" stroke-linejoin="round"/>
<polygon points="529.7,295.8 550.8,283.2 530.3,285.6 509.3,298.1" fill="#00ff63" stroke="#000" stroke-width="1.8" stroke-linejoin="round"/>
<polygon points="383.1,353.4 405,340.5 385.5,342.5 363.7,355.3" fill="#00edff" stroke="#000" stroke-width="1.8" stroke-linejoin="round"/>
<polygon points="864.8,165.7 884,153.8 861.1,157.1 841.9,168.9" fill="#ffd400" stroke="#000" stroke-width="1.8" stroke-linejoin="round"/>
<polygon points="236.4,411.1 259.1,397.9 240.7,399.4 218,412.6" fill="#0040ff" stroke="#000" stroke-width="1.8" stroke-linejoin="round"/>
<polygon points="718.2,223.2 738.3,211 716.4,213.9 696.4,226" fill="#7dff00" stroke="#000" stroke-width="1.8" stroke-linejoin="round"/>
<polygon points="571.6,280.8 592.4,268.3 571.6,270.8 550.8,283.2" fill="#00ff30" stroke="#000" stroke-width="1.8" stroke-linejoin="round"/>
<polygon points="424.7,338.5 446.4,325.7 426.6,327.7 405,340.5" fill="#00ffde" stroke="#000" stroke-width="1.8" stroke-linejoin="round"/>
<polygon points="907.2,150.5 926.3,138.7 903,142 884,153.8" fill="#ffa100" stroke="#000" stroke-width="1.8" stroke-linejoin="round"/>
<polygon points="277.8,396.3 300.3,383.1 281.6,384.8 259.1,397.9" fill="#0073ff" stroke="#000" stroke-width="1.8" stroke-linejoin="round"/>
<polygon points="760.5,208.1 780.3,195.9 758.1,198.9 738.3,211" fill="#b0ff00" stroke="#000" stroke-width="1.8" stroke-linejoin="round"/>
<polygon points="613.5,265.8 634.2,253.3 613.1,255.9 592.4,268.3" fill="#03ff00" stroke="#000" stroke-width="1.8" stroke-linejoin="round"/>
<polygon points="466.5,323.6 488,310.8 467.9,312.9 446.4,325.7" fill="#00ffab" stroke="#000" stroke-width="1.8" stroke-linejoin="round"/>
<polygon points="319.3,381.4 341.6,368.3 322.6,370.1 300.3,383.1" fill="#00a6ff" stroke="#000" stroke-width="1.8" stroke-linejoin="round"/>
<polygon points="802.8,192.9 822.5,180.8 799.9,183.9 780.3,195.9" fill="#e3ff00" stroke="#000" stroke-width="1.8" stroke-linejoin="round"/>
<polygon points="655.7,250.7 676.2,238.3 654.7,241 634.2,253.3" fill="#35ff00" stroke="#000" stroke-width="1.8" stroke-linejoin="round"/>
<polygon points="508.4,308.6 529.7,295.8 509.3,298.1 488,310.8" fill="#00ff78" stroke="#000" stroke-width="1.8" stroke-linejoin="round"/>
<polygon points="361,366.5 383.1,353.4 363.7,355.3 341.6,368.3" fill="#00d9ff" stroke="#000" stroke-width="1.8" stroke-linejoin="round"/>
<polygon points="845.3,177.7 864.8,165.7 841.9,168.9 822.5,180.8" fill="#ffe800" stroke="#000" stroke-width="1.8" stroke-linejoin="round"/>
<polygon points="213.4,424.5 236.4,411.1 218,412.6 195.1,425.9" fill="#002bff" stroke="#000" stroke-width="1.8" stroke-linejoin="round"/>
<polygon points="698,235.6 718.2,223.2 696.4,226 676.2,238.3" fill="#68ff00" stroke="#000" stroke-width="1.8" stroke-linejoin="round"/>
<polygon points="550.5,293.5 571.6,280.8 550.8,283.2 529.7,295.8" fill="#00ff45" stroke="#000" stroke-width="1.8" stroke-linejoin="round"/>
<polygon points="402.8,351.5 424.7,338.5 405,340.5 383.1,353.4" fill="#00fff2" stroke="#000" stroke-width="1.8" stroke-linejoin="round"/>
<polygon points="888,162.4 907.2,150.5 884,153.8 864.8,165.7" fill="#ffb500" stroke="#000" stroke-width="1.8" stroke-linejoin="round"/>
<polygon points="255,409.7 277.8,396.3 259.1,397.9 236.4,411.1" fill="#005eff" stroke="#000" stroke-width="1.8" stroke-linejoin="round"/>
<polygon points="740.4,220.4 760.5,208.1 738.3,211 718.2,223.2" fill="#9bff00" stroke="#000" stroke-width="1.8" stroke-linejoin="round"/>
<polygon points="592.6,278.4 613.5,265.8 592.4,268.3 571.6,280.8" fill="#00ff12" stroke="#000" stroke-width="1.8" stroke-linejoin="round"/>
<polygon points="444.8,336.5 466.5,323.6 446.4,325.7 424.7,338.5" fill="#00ffbf" stroke="#000" stroke-width="1.8" stroke-linejoin="round"/>
<polygon points="930.8,147.1 949.8,135.2 926.3,138.7 907.2,150.5" fill="#ff8300" stroke="#000" stroke-width="1.8" stroke-linejoin="round"/>
<polygon points="296.7,394.7 319.3,381.4 300.3,383.1 277.8,396.3" fill="#0091ff" stroke="#000" stroke-width="1.8" stroke-linejoin="round"/>
<polygon points="782.9,205.1 802.8,192.9 780.3,195.9 760.5,208.1" fill="#ceff00" stroke="#000" stroke-width="1.8" stroke-linejoin="round"/>
<polygon points="635,263.3 655.7,250.7 634.2,253.3 613.5,265.8" fill="#21ff00" stroke="#000" stroke-width="1.8" stroke-linejoin="round"/>
<polygon points="486.9,321.5 508.4,308.6 488,310.8 466.5,323.6" fill="#00ff8d" stroke="#000" stroke-width="1.8" stroke-linejoin="round"/>
<polygon points="338.6,379.7 361,366.5 341.6,368.3 319.3,381.4" fill="#00c4ff" stroke="#000" stroke-width="1.8" stroke-linejoin="round"/>
<polygon points="825.7,189.9 845.3,177.7 822.5,180.8 802.8,192.9" fill="#fffd00" stroke="#000" stroke-width="1.8" stroke-linejoin="round"/>
<polygon points="677.5,248.1 698,235.6 676.2,238.3 655.7,250.7" fill="#54ff00" stroke="#000" stroke-width="1.8" stroke-linejoin="round"/>
<polygon points="529.1,306.3 550.5,293.5 529.7,295.8 508.4,308.6" fill="#00ff5a" stroke="#000" stroke-width="1.8" stroke-linejoin="round"/>
<polygon points="380.6,364.7 402.8,351.5 383.1,353.4 361,366.5" fill="#00f7ff" stroke="#000" stroke-width="1.8" stroke-linejoin="round"/>
<polygon points="868.5,174.5 888,162.4 864.8,165.7 845.3,177.7" fill="#ffca00" stroke="#000" stroke-width="1.8" stroke-linejoin="round"/>
<polygon points="232,423.1 255,409.7 236.4,411.1 213.4,424.5" fill="#0049ff" stroke="#000" stroke-width="1.8" stroke-linejoin="round"/>
<polygon points="720.1,232.8 740.4,220.4 718.2,223.2 698,235.6" fill="#87ff00" stroke="#000" stroke-width="1.8" stroke-linejoin="round"/>
<polygon points="571.5,291.2 592.6,278.4 571.6,280.8 550.5,293.5" fill="#00ff27" stroke="#000" stroke-width="1.8" stroke-linejoin="round"/>
<polygon points="422.8,349.6 444.8,336.5 424.7,338.5 402.8,351.5" fill="#00ffd4" stroke="#000" stroke-width="1.8" stroke-linejoin="round"/>
<polygon points="911.5,159.1 930.8,147.1 907.2,150.5 888,162.4" fill="#ff9700" stroke="#000" stroke-width="1.8" stroke-linejoin="round"/>
<polygon points="273.9,408.1 296.7,394.7 277.8,396.3 255,409.7" fill="#007cff" stroke="#000" stroke-width="1.8" stroke-linejoin="round"/>
<polygon points="762.9,217.5 782.9,205.1 760.5,208.1 740.4,220.4" fill="#baff00" stroke="#000" stroke-width="1.8" stroke-linejoin="round"/>
<polygon points="614,276 635,263.3 613.5,265.8 592.6,278.4" fill="#0cff00" stroke="#000" stroke-width="1.8" stroke-linejoin="round"/>
<polygon points="465.1,334.5 486.9,321.5 466.5,323.6 444.8,336.5" fill="#00ffa1" stroke="#000" stroke-width="1.8" stroke-linejoin="round"/>
<polygon points="954.7,143.7 973.7,131.7 949.8,135.2 930.8,147.1" fill="#ff6400" stroke="#000" stroke-width="1.8" stroke-linejoin="round"/>
<polygon points="316,393.1 338.6,379.7 319.3,381.4 296.7,394.7" fill="#00afff" stroke="#000" stroke-width="1.8" stroke-linejoin="round"/>
<polygon points="805.8,202.1 825.7,189.9 802.8,192.9 782.9,205.1" fill="#ecff00" stroke="#000" stroke-width="1.8" stroke-linejoin="round"/>
<polygon points="656.7,260.7 677.5,248.1 655.7,250.7 635,263.3" fill="#3fff00" stroke="#000" stroke-width="1.8" stroke-linejoin="round"/>
<polygon points="507.5,319.3 529.1,306.3 508.4,308.6 486.9,321.5" fill="#00ff6e" stroke="#000" stroke-width="1.8" stroke-linejoin="round"/>
<polygon points="358.2,378 380.6,364.7 361,366.5 338.6,379.7" fill="#00e2ff" stroke="#000" stroke-width="1.8" stroke-linejoin="round"/>
<polygon points="848.8,186.7 868.5,174.5 845.3,177.7 825.7,189.9" fill="#ffdf00" stroke="#000" stroke-width="1.8" stroke-linejoin="round"/>
<polygon points="699.6,245.4 720.1,232.8 698,235.6 677.5,248.1" fill="#72ff00" stroke="#000" stroke-width="1.8" stroke-linejoin="round"/>
<polygon points="550.1,304.1 571.5,291.2 550.5,293.5 529.1,306.3" fill="#00ff3b" stroke="#000" stroke-width="1.8" stroke-linejoin="round"/>
<polygon points="400.6,362.9 422.8,349.6 402.8,351.5 380.6,364.7" fill="#00ffe9" stroke="#000" stroke-width="1.8" stroke-linejoin="round"/>
<polygon points="892.1,171.3 911.5,159.1 888,162.4 868.5,174.5" fill="#ffac00" stroke="#000" stroke-width="1.8" stroke-linejoin="round"/>
<polygon points="250.8,421.7 273.9,408.1 255,409.7 232,423.1" fill="#0068ff" stroke="#000" stroke-width="1.8" stroke-linejoin="round"/>
<polygon points="742.5,230 762.9,217.5 740.4,220.4 720.1,232.8" fill="#a5ff00" stroke="#000" stroke-width="1.8" stroke-linejoin="round"/>
<polygon points="592.9,288.8 614,276 592.6,278.4 571.5,291.2" fill="#00ff08" stroke="#000" stroke-width="1.8" stroke-linejoin="round"/>
<polygon points="443.1,347.7 465.1,334.5 444.8,336.5 422.8,349.6" fill="#00ffb6" stroke="#000" stroke-width="1.8" stroke-linejoin="round"/>
<polygon points="935.4,155.8 954.7,143.7 930.8,147.1 911.5,159.1" fill="#ff7900" stroke="#000" stroke-width="1.8" stroke-linejoin="round"/>
<polygon points="293.1,406.6 316,393.1 296.7,394.7 273.9,408.1" fill="#009bff" stroke="#000" stroke-width="1.8" stroke-linejoin="round"/>
<polygon points="785.7,214.6 805.8,202.1 782.9,205.1 762.9,217.5" fill="#d8ff00" stroke="#000" stroke-width="1.8" stroke-linejoin="round"/>
<polygon points="635.8,273.5 656.7,260.7 635,263.3 614,276" fill="#2bff00" stroke="#000" stroke-width="1.8" stroke-linejoin="round"/>
<polygon points="485.7,332.4 507.5,319.3 486.9,321.5 465.1,334.5" fill="#00ff83" stroke="#000" stroke-width="1.8" stroke-linejoin="round"/>
<polygon points="978.9,140.2 998,128.2 973.7,131.7 954.7,143.7" fill="#ff4600" stroke="#000" stroke-width="1.8" stroke-linejoin="round"/>
<polygon points="335.5,391.5 358.2,378 338.6,379.7 316,393.1" fill="#00ceff" stroke="#000" stroke-width="1.8" stroke-linejoin="round"/>
<polygon points="828.9,199.1 848.8,186.7 825.7,189.9 805.8,202.1" fill="#fff300" stroke="#000" stroke-width="1.8" stroke-linejoin="round"/>
<polygon points="678.8,258.1 699.6,245.4 677.5,248.1 656.7,260.7" fill="#5dff00" stroke="#000" stroke-width="1.8" stroke-linejoin="round"/>
<polygon points="528.5,317.1 550.1,304.1 529.1,306.3 507.5,319.3" fill="#00ff50" stroke="#000" stroke-width="1.8" stroke-linejoin="round"/>
<polygon points="378.1,376.3 400.6,362.9 380.6,364.7 358.2,378" fill="#00fffd" stroke="#000" stroke-width="1.8" stroke-linejoin="round"/>
<polygon points="872.4,183.6 892.1,171.3 868.5,174.5 848.8,186.7" fill="#ffc000" stroke="#000" stroke-width="1.8" stroke-linejoin="round"/>
<polygon points="722,242.6 742.5,230 720.1,232.8 699.6,245.4" fill="#90ff00" stroke="#000" stroke-width="1.8" stroke-linejoin="round"/>
<polygon points="571.5,301.8 592.9,288.8 571.5,291.2 550.1,304.1" fill="#00ff1d" stroke="#000" stroke-width="1.8" stroke-linejoin="round"/>
<polygon points="420.8,361 443.1,347.7 422.8,349.6 400.6,362.9" fill="#00ffca" stroke="#000" stroke-width="1.8" stroke-linejoin="round"/>
<polygon points="915.9,168 935.4,155.8 911.5,159.1 892.1,171.3" fill="#ff8e00" stroke="#000" stroke-width="1.8" stroke-linejoin="round"/>
<polygon points="270,420.3 293.1,406.6 273.9,408.1 250.8,421.7" fill="#0086ff" stroke="#000" stroke-width="1.8" stroke-linejoin="round"/>
<polygon points="765.3,227.1 785.7,214.6 762.9,217.5 742.5,230" fill="#c3ff00" stroke="#000" stroke-width="1.8" stroke-linejoin="round"/>
<polygon points="614.5,286.4 635.8,273.5 614,276 592.9,288.8" fill="#16ff00" stroke="#000" stroke-width="1.8" stroke-linejoin="round"/>
<polygon points="463.6,345.7 485.7,332.4 465.1,334.5 443.1,347.7" fill="#00ff97" stroke="#000" stroke-width="1.8" stroke-linejoin="round"/>
<polygon points="959.7,152.4 978.9,140.2 954.7,143.7 935.4,155.8" fill="#ff5b00" stroke="#000" stroke-width="1.8" stroke-linejoin="round"/>
<polygon points="312.6,405.1 335.5,391.5 316,393.1 293.1,406.6" fill="#00b9ff" stroke="#000" stroke-width="1.8" stroke-linejoin="round"/>
<polygon points="808.8,211.6 828.9,199.1 805.8,202.1 785.7,214.6" fill="#f6ff00" stroke="#000" stroke-width="1.8" stroke-linejoin="round"/>
<polygon points="657.8,270.9 678.8,258.1 656.7,260.7 635.8,273.5" fill="#49ff00" stroke="#000" stroke-width="1.8" stroke-linejoin="round"/>
<polygon points="506.6,330.3 528.5,317.1 507.5,319.3 485.7,332.4" fill="#00ff65" stroke="#000" stroke-width="1.8" stroke-linejoin="round"/>
<polygon points="355.3,389.8 378.1,376.3 358.2,378 335.5,391.5" fill="#00ecff" stroke="#000" stroke-width="1.8" stroke-linejoin="round"/>
<polygon points="852.4,196 872.4,183.6 848.8,186.7 828.9,199.1" fill="#ffd500" stroke="#000" stroke-width="1.8" stroke-linejoin="round"/>
<polygon points="701.2,255.4 722,242.6 699.6,245.4 678.8,258.1" fill="#7cff00" stroke="#000" stroke-width="1.8" stroke-linejoin="round"/>
<polygon points="549.8,314.9 571.5,301.8 550.1,304.1 528.5,317.1" fill="#00ff32" stroke="#000" stroke-width="1.8" stroke-linejoin="round"/>
<polygon points="398.2,374.5 420.8,361 400.6,362.9 378.1,376.3" fill="#00ffdf" stroke="#000" stroke-width="1.8" stroke-linejoin="round"/>
<polygon points="896.2,180.4 915.9,168 892.1,171.3 872.4,183.6" fill="#ffa200" stroke="#000" stroke-width="1.8" stroke-linejoin="round"/>
<polygon points="744.7,239.9 765.3,227.1 742.5,230 722,242.6" fill="#afff00" stroke="#000" stroke-width="1.8" stroke-linejoin="round"/>
<polygon points="593.1,299.4 614.5,286.4 592.9,288.8 571.5,301.8" fill="#01ff00" stroke="#000" stroke-width="1.8" stroke-linejoin="round"/>
<polygon points="441.3,359.1 463.6,345.7 443.1,347.7 420.8,361" fill="#00ffac" stroke="#000" stroke-width="1.8" stroke-linejoin="round"/>
<polygon points="940.2,164.7 959.7,152.4 935.4,155.8 915.9,168" fill="#ff6f00" stroke="#000" stroke-width="1.8" stroke-linejoin="round"/>
<polygon points="289.4,418.8 312.6,405.1 293.1,406.6 270,420.3" fill="#00a4ff" stroke="#000" stroke-width="1.8" stroke-linejoin="round"/>
<polygon points="788.4,224.3 808.8,211.6 785.7,214.6 765.3,227.1" fill="#e1ff00" stroke="#000" stroke-width="1.8" stroke-linejoin="round"/>
<polygon points="636.6,283.9 657.8,270.9 635.8,273.5 614.5,286.4" fill="#34ff00" stroke="#000" stroke-width="1.8" stroke-linejoin="round"/>
<polygon points="484.5,343.7 506.6,330.3 485.7,332.4 463.6,345.7" fill="#00ff79" stroke="#000" stroke-width="1.8" stroke-linejoin="round"/>
<polygon points="332.3,403.5 355.3,389.8 335.5,391.5 312.6,405.1" fill="#00d7ff" stroke="#000" stroke-width="1.8" stroke-linejoin="round"/>
<polygon points="832.3,208.6 852.4,196 828.9,199.1 808.8,211.6" fill="#ffea00" stroke="#000" stroke-width="1.8" stroke-linejoin="round"/>
<polygon points="680.2,268.3 701.2,255.4 678.8,258.1 657.8,270.9" fill="#67ff00" stroke="#000" stroke-width="1.8" stroke-linejoin="round"/>
<polygon points="527.9,328.2 549.8,314.9 528.5,317.1 506.6,330.3" fill="#00ff46" stroke="#000" stroke-width="1.8" stroke-linejoin="round"/>
<polygon points="375.4,388.1 398.2,374.5 378.1,376.3 355.3,389.8" fill="#00fff4" stroke="#000" stroke-width="1.8" stroke-linejoin="round"/>
<polygon points="876.3,192.9 896.2,180.4 872.4,183.6 852.4,196" fill="#ffb700" stroke="#000" stroke-width="1.8" stroke-linejoin="round"/>
<polygon points="723.9,252.7 744.7,239.9 722,242.6 701.2,255.4" fill="#9aff00" stroke="#000" stroke-width="1.8" stroke-linejoin="round"/>
<polygon points="571.4,312.7 593.1,299.4 571.5,301.8 549.8,314.9" fill="#00ff13" stroke="#000" stroke-width="1.8" stroke-linejoin="round"/>
<polygon points="418.7,372.7 441.3,359.1 420.8,361 398.2,374.5" fill="#00ffc1" stroke="#000" stroke-width="1.8" stroke-linejoin="round"/>
<polygon points="920.5,177.1 940.2,164.7 915.9,168 896.2,180.4" fill="#ff8400" stroke="#000" stroke-width="1.8" stroke-linejoin="round"/>
<polygon points="767.8,237 788.4,224.3 765.3,227.1 744.7,239.9" fill="#cdff00" stroke="#000" stroke-width="1.8" stroke-linejoin="round"/>
<polygon points="615.1,297.1 636.6,283.9 614.5,286.4 593.1,299.4" fill="#20ff00" stroke="#000" stroke-width="1.8" stroke-linejoin="round"/>
<polygon points="462.1,357.2 484.5,343.7 463.6,345.7 441.3,359.1" fill="#00ff8e" stroke="#000" stroke-width="1.8" stroke-linejoin="round"/>
<polygon points="309.1,417.4 332.3,403.5 312.6,405.1 289.4,418.8" fill="#00c3ff" stroke="#000" stroke-width="1.8" stroke-linejoin="round"/>
<polygon points="811.9,221.3 832.3,208.6 808.8,211.6 788.4,224.3" fill="#fffe00" stroke="#000" stroke-width="1.8" stroke-linejoin="round"/>
<polygon points="658.9,281.4 680.2,268.3 657.8,270.9 636.6,283.9" fill="#52ff00" stroke="#000" stroke-width="1.8" stroke-linejoin="round"/>
<polygon points="505.7,341.6 527.9,328.2 506.6,330.3 484.5,343.7" fill="#00ff5b" stroke="#000" stroke-width="1.8" stroke-linejoin="round"/>
<polygon points="352.4,401.9 375.4,388.1 355.3,389.8 332.3,403.5" fill="#00f6ff" stroke="#000" stroke-width="1.8" stroke-linejoin="round"/>
<polygon points="856.1,205.5 876.3,192.9 852.4,196 832.3,208.6" fill="#ffcb00" stroke="#000" stroke-width="1.8" stroke-linejoin="round"/>
<polygon points="702.9,265.7 723.9,252.7 701.2,255.4 680.2,268.3" fill="#85ff00" stroke="#000" stroke-width="1.8" stroke-linejoin="round"/>
<polygon points="549.4,326 571.4,312.7 549.8,314.9 527.9,328.2" fill="#00ff28" stroke="#000" stroke-width="1.8" stroke-linejoin="round"/>
<polygon points="395.9,386.4 418.7,372.7 398.2,374.5 375.4,388.1" fill="#00ffd5" stroke="#000" stroke-width="1.8" stroke-linejoin="round"/>
<polygon points="900.5,189.7 920.5,177.1 896.2,180.4 876.3,192.9" fill="#ff9900" stroke="#000" stroke-width="1.8" stroke-linejoin="round"/>
<polygon points="747,250 767.8,237 744.7,239.9 723.9,252.7" fill="#b8ff00" stroke="#000" stroke-width="1.8" stroke-linejoin="round"/>
<polygon points="593.3,310.4 615.1,297.1 593.1,299.4 571.4,312.7" fill="#0bff00" stroke="#000" stroke-width="1.8" stroke-linejoin="round"/>
<polygon points="439.5,370.8 462.1,357.2 441.3,359.1 418.7,372.7" fill="#00ffa2" stroke="#000" stroke-width="1.8" stroke-linejoin="round"/>
<polygon points="791.3,234.2 811.9,221.3 788.4,224.3 767.8,237" fill="#ebff00" stroke="#000" stroke-width="1.8" stroke-linejoin="round"/>
<polygon points="637.4,294.7 658.9,281.4 636.6,283.9 615.1,297.1" fill="#3eff00" stroke="#000" stroke-width="1.8" stroke-linejoin="round"/>
<polygon points="483.3,355.2 505.7,341.6 484.5,343.7 462.1,357.2" fill="#00ff70" stroke="#000" stroke-width="1.8" stroke-linejoin="round"/>
<polygon points="329.1,415.9 352.4,401.9 332.3,403.5 309.1,417.4" fill="#00e1ff" stroke="#000" stroke-width="1.8" stroke-linejoin="round"/>
<polygon points="835.8,218.3 856.1,205.5 832.3,208.6 811.9,221.3" fill="#ffe000" stroke="#000" stroke-width="1.8" stroke-linejoin="round"/>
<polygon points="681.6,278.9 702.9,265.7 680.2,268.3 658.9,281.4" fill="#71ff00" stroke="#000" stroke-width="1.8" stroke-linejoin="round"/>
<polygon points="527.2,339.5 549.4,326 527.9,328.2 505.7,341.6" fill="#00ff3d" stroke="#000" stroke-width="1.8" stroke-linejoin="round"/>
<polygon points="372.8,400.3 395.9,386.4 375.4,388.1 352.4,401.9" fill="#00ffea" stroke="#000" stroke-width="1.8" stroke-linejoin="round"/>
<polygon points="880.4,202.4 900.5,189.7 876.3,192.9 856.1,205.5" fill="#ffad00" stroke="#000" stroke-width="1.8" stroke-linejoin="round"/>
<polygon points="725.9,263.1 747,250 723.9,252.7 702.9,265.7" fill="#a4ff00" stroke="#000" stroke-width="1.8" stroke-linejoin="round"/>
<polygon points="571.3,323.8 593.3,310.4 571.4,312.7 549.4,326" fill="#00ff0a" stroke="#000" stroke-width="1.8" stroke-linejoin="round"/>
<polygon points="416.6,384.7 439.5,370.8 418.7,372.7 395.9,386.4" fill="#00ffb7" stroke="#000" stroke-width="1.8" stroke-linejoin="round"/>
<polygon points="770.4,247.2 791.3,234.2 767.8,237 747,250" fill="#d7ff00" stroke="#000" stroke-width="1.8" stroke-linejoin="round"/>
<polygon points="615.6,308 637.4,294.7 615.1,297.1 593.3,310.4" fill="#29ff00" stroke="#000" stroke-width="1.8" stroke-linejoin="round"/>
<polygon points="460.6,369 483.3,355.2 462.1,357.2 439.5,370.8" fill="#00ff84" stroke="#000" stroke-width="1.8" stroke-linejoin="round"/>
<polygon points="815.1,231.3 835.8,218.3 811.9,221.3 791.3,234.2" fill="#fff500" stroke="#000" stroke-width="1.8" stroke-linejoin="round"/>
<polygon points="660,292.2 681.6,278.9 658.9,281.4 637.4,294.7" fill="#5cff00" stroke="#000" stroke-width="1.8" stroke-linejoin="round"/>
<polygon points="504.8,353.2 527.2,339.5 505.7,341.6 483.3,355.2" fill="#00ff51" stroke="#000" stroke-width="1.8" stroke-linejoin="round"/>
<polygon points="349.4,414.3 372.8,400.3 352.4,401.9 329.1,415.9" fill="#00ffff" stroke="#000" stroke-width="1.8" stroke-linejoin="round"/>
<polygon points="860,215.3 880.4,202.4 856.1,205.5 835.8,218.3" fill="#ffc200" stroke="#000" stroke-width="1.8" stroke-linejoin="round"/>
<polygon points="704.6,276.3 725.9,263.1 702.9,265.7 681.6,278.9" fill="#8fff00" stroke="#000" stroke-width="1.8" stroke-linejoin="round"/>
<polygon points="549.1,337.4 571.3,323.8 549.4,326 527.2,339.5" fill="#00ff1e" stroke="#000" stroke-width="1.8" stroke-linejoin="round"/>
<polygon points="393.4,398.6 416.6,384.7 395.9,386.4 372.8,400.3" fill="#00ffcc" stroke="#000" stroke-width="1.8" stroke-linejoin="round"/>
<polygon points="749.3,260.4 770.4,247.2 747,250 725.9,263.1" fill="#c2ff00" stroke="#000" stroke-width="1.8" stroke-linejoin="round"/>
<polygon points="593.6,321.6 615.6,308 593.3,310.4 571.3,323.8" fill="#15ff00" stroke="#000" stroke-width="1.8" stroke-linejoin="round"/>
<polygon points="437.7,382.9 460.6,369 439.5,370.8 416.6,384.7" fill="#00ff99" stroke="#000" stroke-width="1.8" stroke-linejoin="round"/>
<polygon points="794.2,244.4 815.1,231.3 791.3,234.2 770.4,247.2" fill="#f5ff00" stroke="#000" stroke-width="1.8" stroke-linejoin="round"/>
<polygon points="638.2,305.7 660,292.2 637.4,294.7 615.6,308" fill="#48ff00" stroke="#000" stroke-width="1.8" stroke-linejoin="round"/>
<polygon points="482,367.1 504.8,353.2 483.3,355.2 460.6,369" fill="#00ff66" stroke="#000" stroke-width="1.8" stroke-linejoin="round"/>
<polygon points="839.3,228.3 860,215.3 835.8,218.3 815.1,231.3" fill="#ffd600" stroke="#000" stroke-width="1.8" stroke-linejoin="round"/>
<polygon points="683,289.7 704.6,276.3 681.6,278.9 660,292.2" fill="#7aff00" stroke="#000" stroke-width="1.8" stroke-linejoin="round"/>
<polygon points="526.6,351.2 549.1,337.4 527.2,339.5 504.8,353.2" fill="#00ff33" stroke="#000" stroke-width="1.8" stroke-linejoin="round"/>
<polygon points="370,412.8 393.4,398.6 372.8,400.3 349.4,414.3" fill="#00ffe0" stroke="#000" stroke-width="1.8" stroke-linejoin="round"/>
<polygon points="728,273.7 749.3,260.4 725.9,263.1 704.6,276.3" fill="#adff00" stroke="#000" stroke-width="1.8" stroke-linejoin="round"/>
<polygon points="571.3,335.3 593.6,321.6 571.3,323.8 549.1,337.4" fill="#00ff00" stroke="#000" stroke-width="1.8" stroke-linejoin="round"/>
<polygon points="414.4,397 437.7,382.9 416.6,384.7 393.4,398.6" fill="#00ffad" stroke="#000" stroke-width="1.8" stroke-linejoin="round"/>
<polygon points="773.1,257.7 794.2,244.4 770.4,247.2 749.3,260.4" fill="#e0ff00" stroke="#000" stroke-width="1.8" stroke-linejoin="round"/>
<polygon points="616.2,319.3 638.2,305.7 615.6,308 593.6,321.6" fill="#33ff00" stroke="#000" stroke-width="1.8" stroke-linejoin="round"/>
<polygon points="459,381.1 482,367.1 460.6,369 437.7,382.9" fill="#00ff7a" stroke="#000" stroke-width="1.8" stroke-linejoin="round"/>
<polygon points="818.4,241.5 839.3,228.3 815.1,231.3 794.2,244.4" fill="#ffeb00" stroke="#000" stroke-width="1.8" stroke-linejoin="round"/>
<polygon points="661.2,303.3 683,289.7 660,292.2 638.2,305.7" fill="#66ff00" stroke="#000" stroke-width="1.8" stroke-linejoin="round"/>
<polygon points="503.8,365.2 526.6,351.2 504.8,353.2 482,367.1" fill="#00ff48" stroke="#000" stroke-width="1.8" stroke-linejoin="round"/>
<polygon points="706.4,287.2 728,273.7 704.6,276.3 683,289.7" fill="#99ff00" stroke="#000" stroke-width="1.8" stroke-linejoin="round"/>
<polygon points="548.7,349.2 571.3,335.3 549.1,337.4 526.6,351.2" fill="#00ff15" stroke="#000" stroke-width="1.8" stroke-linejoin="round"/>
<polygon points="390.9,411.2 414.4,397 393.4,398.6 370,412.8" fill="#00ffc2" stroke="#000" stroke-width="1.8" stroke-linejoin="round"/>
<polygon points="751.7,271.1 773.1,257.7 749.3,260.4 728,273.7" fill="#ccff00" stroke="#000" stroke-width="1.8" stroke-linejoin="round"/>
<polygon points="593.8,333.1 616.2,319.3 593.6,321.6 571.3,335.3" fill="#1eff00" stroke="#000" stroke-width="1.8" stroke-linejoin="round"/>
<polygon points="435.8,395.3 459,381.1 437.7,382.9 414.4,397" fill="#00ff8f" stroke="#000" stroke-width="1.8" stroke-linejoin="round"/>
<polygon points="797.3,254.9 818.4,241.5 794.2,244.4 773.1,257.7" fill="#ffff00" stroke="#000" stroke-width="1.8" stroke-linejoin="round"/>
<polygon points="639.1,317 661.2,303.3 638.2,305.7 616.2,319.3" fill="#51ff00" stroke="#000" stroke-width="1.8" stroke-linejoin="round"/>
<polygon points="480.7,379.3 503.8,365.2 482,367.1 459,381.1" fill="#00ff5c" stroke="#000" stroke-width="1.8" stroke-linejoin="round"/>
<polygon points="684.5,300.9 706.4,287.2 683,289.7 661.2,303.3" fill="#84ff00" stroke="#000" stroke-width="1.8" stroke-linejoin="round"/>
<polygon points="525.9,363.2 548.7,349.2 526.6,351.2 503.8,365.2" fill="#00ff29" stroke="#000" stroke-width="1.8" stroke-linejoin="round"/>
<polygon points="730.1,284.7 751.7,271.1 728,273.7 706.4,287.2" fill="#b7ff00" stroke="#000" stroke-width="1.8" stroke-linejoin="round"/>
<polygon points="571.2,347.1 593.8,333.1 571.3,335.3 548.7,349.2" fill="#0aff00" stroke="#000" stroke-width="1.8" stroke-linejoin="round"/>
<polygon points="412.2,409.6 435.8,395.3 414.4,397 390.9,411.2" fill="#00ffa4" stroke="#000" stroke-width="1.8" stroke-linejoin="round"/>
<polygon points="775.9,268.4 797.3,254.9 773.1,257.7 751.7,271.1" fill="#eaff00" stroke="#000" stroke-width="1.8" stroke-linejoin="round"/>
<polygon points="616.7,330.9 639.1,317 616.2,319.3 593.8,333.1" fill="#3dff00" stroke="#000" stroke-width="1.8" stroke-linejoin="round"/>
<polygon points="457.4,393.5 480.7,379.3 459,381.1 435.8,395.3" fill="#00ff71" stroke="#000" stroke-width="1.8" stroke-linejoin="round"/>
<polygon points="662.4,314.7 684.5,300.9 661.2,303.3 639.1,317" fill="#70ff00" stroke="#000" stroke-width="1.8" stroke-linejoin="round"/>
<polygon points="502.8,377.4 525.9,363.2 503.8,365.2 480.7,379.3" fill="#00ff3e" stroke="#000" stroke-width="1.8" stroke-linejoin="round"/>
<polygon points="708.2,298.4 730.1,284.7 706.4,287.2 684.5,300.9" fill="#a2ff00" stroke="#000" stroke-width="1.8" stroke-linejoin="round"/>
<polygon points="548.4,361.2 571.2,347.1 548.7,349.2 525.9,363.2" fill="#00ff0b" stroke="#000" stroke-width="1.8" stroke-linejoin="round"/>
<polygon points="754.2,282.1 775.9,268.4 751.7,271.1 730.1,284.7" fill="#d5ff00" stroke="#000" stroke-width="1.8" stroke-linejoin="round"/>
<polygon points="594.1,345 616.7,330.9 593.8,333.1 571.2,347.1" fill="#28ff00" stroke="#000" stroke-width="1.8" stroke-linejoin="round"/>
<polygon points="433.8,408 457.4,393.5 435.8,395.3 412.2,409.6" fill="#00ff85" stroke="#000" stroke-width="1.8" stroke-linejoin="round"/>
<polygon points="640,328.7 662.4,314.7 639.1,317 616.7,330.9" fill="#5bff00" stroke="#000" stroke-width="1.8" stroke-linejoin="round"/>
<polygon points="479.4,391.8 502.8,377.4 480.7,379.3 457.4,393.5" fill="#00ff52" stroke="#000" stroke-width="1.8" stroke-linejoin="round"/>
<polygon points="686,312.3 708.2,298.4 684.5,300.9 662.4,314.7" fill="#8eff00" stroke="#000" stroke-width="1.8" stroke-linejoin="round"/>
<polygon points="525.2,375.5 548.4,361.2 525.9,363.2 502.8,377.4" fill="#00ff20" stroke="#000" stroke-width="1.8" stroke-linejoin="round"/>
<polygon points="732.3,295.9 754.2,282.1 730.1,284.7 708.2,298.4" fill="#c1ff00" stroke="#000" stroke-width="1.8" stroke-linejoin="round"/>
<polygon points="571.2,359.2 594.1,345 571.2,347.1 548.4,361.2" fill="#13ff00" stroke="#000" stroke-width="1.8" stroke-linejoin="round"/>
<polygon points="617.3,342.8 640,328.7 616.7,330.9 594.1,345" fill="#46ff00" stroke="#000" stroke-width="1.8" stroke-linejoin="round"/>
<polygon points="455.8,406.3 479.4,391.8 457.4,393.5 433.8,408" fill="#00ff67" stroke="#000" stroke-width="1.8" stroke-linejoin="round"/>
<polygon points="663.6,326.4 686,312.3 662.4,314.7 640,328.7" fill="#79ff00" stroke="#000" stroke-width="1.8" stroke-linejoin="round"/>
<polygon points="501.8,390 525.2,375.5 502.8,377.4 479.4,391.8" fill="#00ff34" stroke="#000" stroke-width="1.8" stroke-linejoin="round"/>
<polygon points="710.1,309.9 732.3,295.9 708.2,298.4 686,312.3" fill="#acff00" stroke="#000" stroke-width="1.8" stroke-linejoin="round"/>
<polygon points="548,373.6 571.2,359.2 548.4,361.2 525.2,375.5" fill="#00ff01" stroke="#000" stroke-width="1.8" stroke-linejoin="round"/>
<polygon points="594.3,357.2 617.3,342.8 594.1,345 571.2,359.2" fill="#32ff00" stroke="#000" stroke-width="1.8" stroke-linejoin="round"/>
<polygon points="640.9,340.7 663.6,326.4 640,328.7 617.3,342.8" fill="#65ff00" stroke="#000" stroke-width="1.8" stroke-linejoin="round"/>
<polygon points="478.1,404.7 501.8,390 479.4,391.8 455.8,406.3" fill="#00ff49" stroke="#000" stroke-width="1.8" stroke-linejoin="round"/>
<polygon points="687.6,324.1 710.1,309.9 686,312.3 663.6,326.4" fill="#98ff00" stroke="#000" stroke-width="1.8" stroke-linejoin="round"/>
<polygon points="524.5,388.2 548,373.6 525.2,375.5 501.8,390" fill="#00ff16" stroke="#000" stroke-width="1.8" stroke-linejoin="round"/>
<polygon points="571.1,371.7 594.3,357.2 571.2,359.2 548,373.6" fill="#1dff00" stroke="#000" stroke-width="1.8" stroke-linejoin="round"/>
<polygon points="617.9,355.1 640.9,340.7 617.3,342.8 594.3,357.2" fill="#50ff00" stroke="#000" stroke-width="1.8" stroke-linejoin="round"/>
<polygon points="664.9,338.4 687.6,324.1 663.6,326.4 640.9,340.7" fill="#83ff00" stroke="#000" stroke-width="1.8" stroke-linejoin="round"/>
<polygon points="500.7,403 524.5,388.2 501.8,390 478.1,404.7" fill="#00ff2a" stroke="#000" stroke-width="1.8" stroke-linejoin="round"/>
<polygon points="547.6,386.4 571.1,371.7 548,373.6 524.5,388.2" fill="#09ff00" stroke="#000" stroke-width="1.8" stroke-linejoin="round"/>
<polygon points="594.6,369.7 617.9,355.1 594.3,357.2 571.1,371.7" fill="#3bff00" stroke="#000" stroke-width="1.8" stroke-linejoin="round"/>
<polygon points="641.8,353 664.9,338.4 640.9,340.7 617.9,355.1" fill="#6eff00" stroke="#000" stroke-width="1.8" stroke-linejoin="round"/>
<polygon points="523.8,401.2 547.6,386.4 524.5,388.2 500.7,403" fill="#00ff0c" stroke="#000" stroke-width="1.8" stroke-linejoin="round"/>
<polygon points="571,384.5 594.6,369.7 571.1,371.7 547.6,386.4" fill="#27ff00" stroke="#000" stroke-width="1.8" stroke-linejoin="round"/>
<polygon points="618.5,367.7 641.8,353 617.9,355.1 594.6,369.7" fill="#5aff00" stroke="#000" stroke-width="1.8" stroke-linejoin="round"/>
<polygon points="547.2,399.5 571,384.5 547.6,386.4 523.8,401.2" fill="#12ff00" stroke="#000" stroke-width="1.8" stroke-linejoin="round"/>
<polygon points="594.9,382.6 618.5,367.7 594.6,369.7 571,384.5" fill="#45ff00" stroke="#000" stroke-width="1.8" stroke-linejoin="round"/>
<polygon points="571,397.7 594.9,382.6 571,384.5 547.2,399.5" fill="#31ff00" stroke="#000" stroke-width="1.8" stroke-linejoin="round"/>
<line x1="158.8" y1="416.3" x2="159.3" y2="428.6" stroke="#000" stroke-width="1.6"/>
<circle cx="158.8" cy="416.3" r="7.9" fill="#b30000" stroke="#000" stroke-width="1.7"/>
<line x1="348.8" y1="391.6" x2="349.4" y2="414.3" stroke="#000" stroke-width="1.6"/>
<circle cx="348.8" cy="391.6" r="7.9" fill="#b30000" stroke="#000" stroke-width="1.7"/>
<line x1="771" y1="135.7" x2="770.4" y2="161.4" stroke="#000" stroke-width="1.6"/>
<circle cx="771" cy="135.7" r="7.9" fill="#b30000" stroke="#000" stroke-width="1.7"/>
<line x1="998.7" y1="114.5" x2="998" y2="128.2" stroke="#000" stroke-width="1.6"/>
<circle cx="998.7" cy="114.5" r="7.9" fill="#b30000" stroke="#000" stroke-width="1.7"/>
<text x="148.9" y="511.6" font-size="28" text-anchor="end">0</text>
<text x="143.9" y="406.7" font-size="28" text-anchor="end">5</text>
<text x="138.9" y="301.8" font-size="28" text-anchor="end">10</text>
<text x="134" y="196.9" font-size="28" text-anchor="end">15</text>
<text x="129" y="92" font-size="28" text-anchor="end">20</text>
<text x="155.2" y="672.8" font-size="28" text-anchor="end">300</text>
<text x="586.2" y="865" font-size="28" text-anchor="start">2</text>
<text x="255.4" y="720.9" font-size="28" text-anchor="end">250</text>
<text x="686.6" y="816.9" font-size="28" text-anchor="start">3</text>
<text x="355.7" y="769" font-size="28" text-anchor="end">200</text>
<text x="787" y="768.9" font-size="28" text-anchor="start">4</text>
<text x="456" y="817.2" font-size="28" text-anchor="end">150</text>
<text x="887.4" y="720.8" font-size="28" text-anchor="start">5</text>
<text x="556.2" y="865.3" font-size="28" text-anchor="end">100</text>
<text x="987.8" y="672.7" font-size="28" text-anchor="start">6</text>
<text x="33.1" y="830.5" font-size="35.8" text-anchor="start">B: Microwave power (W)</text>
<text x="790.3" y="830.6" font-size="35.8" text-anchor="start">A: Thickness (mm)</text>
<text x="0" y="0" font-size="38" text-anchor="middle" transform="translate(26.7 383.5) rotate(-90)">SEC (MJ/kg)</text>
<line x1="1217.8" y1="493.3" x2="1586.1" y2="362.8" stroke="#000" stroke-width="1.3"/>
<line x1="1586.1" y1="362.8" x2="1953.1" y2="493.3" stroke="#000" stroke-width="1.3"/>
<line x1="1213.2" y1="393.6" x2="1586.1" y2="272.8" stroke="#000" stroke-width="1.3"/>
<line x1="1586.1" y1="272.8" x2="1957.8" y2="393.7" stroke="#000" stroke-width="1.3"/>
<line x1="1208.6" y1="293.8" x2="1586.1" y2="182.9" stroke="#000" stroke-width="1.3"/>
<line x1="1586.1" y1="182.9" x2="1962.5" y2="294.2" stroke="#000" stroke-width="1.3"/>
<line x1="1204.1" y1="194.1" x2="1586.1" y2="92.9" stroke="#000" stroke-width="1.3"/>
<line x1="1586.1" y1="92.9" x2="1967.2" y2="194.6" stroke="#000" stroke-width="1.3"/>
<line x1="1309.9" y1="460.7" x2="1296.2" y2="71.4" stroke="#000" stroke-width="1.3"/>
<line x1="1677.8" y1="395.4" x2="1682.5" y2="25.9" stroke="#000" stroke-width="1.3"/>
<line x1="1401.9" y1="428.1" x2="1392.8" y2="48.6" stroke="#000" stroke-width="1.3"/>
<line x1="1769.6" y1="428.1" x2="1779" y2="48.9" stroke="#000" stroke-width="1.3"/>
<line x1="1494" y1="395.4" x2="1489.4" y2="25.7" stroke="#000" stroke-width="1.3"/>
<line x1="1861.3" y1="460.7" x2="1875.5" y2="72" stroke="#000" stroke-width="1.3"/>
<line x1="1223.5" y1="618" x2="1199.5" y2="94.3" stroke="#000" stroke-width="1.4"/>
<line x1="1586.1" y1="475.3" x2="1586.1" y2="2.9" stroke="#000" stroke-width="1.4"/>
<line x1="1947.2" y1="617.8" x2="1971.9" y2="95" stroke="#000" stroke-width="1.4"/>
<polyline points="1199.5,94.3 1586.1,2.9 1971.9,95" fill="none" stroke="#000" stroke-width="1.9" stroke-linejoin="miter"/>
<polygon points="1223.5,618 1585.2,801 1947.2,617.8 1586.1,475.3" fill="#ffff00" stroke="#000" stroke-width="1.4" stroke-linejoin="round"/>
<polyline points="1430.2,536.6 1429.3,537.4 1426.7,540 1424.5,542.2 1424.1,542.6 1421.4,545.3 1418.9,547.8 1418.8,547.9 1416.2,550.6 1413.6,553.2 1413.4,553.4 1411,555.9 1408.4,558.6 1408,559 1405.8,561.4 1403.2,564.1 1402.7,564.6 1400.6,566.9 1398,569.7 1397.5,570.2 1395.4,572.5 1392.8,575.3 1392.4,575.7 1390.2,578.2 1387.6,581 1387.4,581.3 1385.1,583.9 1382.5,586.8 1382.5,586.8 1380,589.8 1377.7,592.4 1377.4,592.7 1374.9,595.7 1373,597.9 1372.3,598.7 1369.8,601.7 1368.3,603.5 1367.3,604.7 1364.7,607.8 1363.8,609 1362.2,610.9 1359.7,614 1359.3,614.5 1357.2,617.1 1355,620 1354.8,620.3 1352.3,623.5 1350.7,625.5 1349.8,626.7 1347.3,629.9 1346.5,631 1344.9,633.2 1342.4,636.5 1342.4,636.5 1340,639.8 1338.4,642 1337.6,643.2 1335.2,646.5 1334.5,647.5 1332.8,649.9 1330.6,653 1330.4,653.4 1328,656.8 1326.8,658.5 1325.6,660.3 1323.3,663.8 1323.2,664 1320.9,667.4" fill="none" stroke="#00b8ff" stroke-width="1.6"/>
<polyline points="1596,479 1593.6,481.3 1593,481.9 1591.3,483.6 1588.9,485.9 1587.4,487.4 1586.6,488.2 1584.2,490.5 1581.9,492.8 1581.9,492.8 1579.5,495.2 1577.2,497.6 1576.4,498.3 1574.8,500 1572.5,502.4 1571.1,503.8 1570.1,504.8 1567.8,507.2 1565.8,509.2 1565.5,509.6 1563.1,512.1 1560.8,514.6 1560.7,514.7 1558.5,517.1 1556.2,519.6 1555.7,520.1 1553.8,522.1 1551.5,524.6 1550.7,525.5 1549.2,527.2 1546.9,529.7 1545.8,531 1544.6,532.3 1542.3,534.9 1541,536.4 1540,537.5 1537.7,540.2 1536.3,541.8 1535.5,542.8 1533.2,545.5 1531.7,547.2 1530.9,548.2 1528.6,550.9 1527.2,552.6 1526.4,553.6 1524.1,556.4 1522.8,558 1521.9,559.1 1519.6,561.9 1518.4,563.4 1517.4,564.7 1515.2,567.5 1514.2,568.8 1512.9,570.4 1510.7,573.2 1510,574.2 1508.5,576.1 1506.3,579 1505.9,579.6 1504.1,581.9 1501.9,584.9 1501.9,584.9 1499.7,587.8 1497.9,590.3 1497.5,590.8 1495.4,593.8 1494.1,595.7 1493.2,596.9 1491.1,599.9 1490.3,601.1 1488.9,603 1486.8,606.1 1486.6,606.4 1484.7,609.2 1482.9,611.8 1482.6,612.4 1480.5,615.6 1479.4,617.2 1478.4,618.7 1476.3,622 1475.9,622.5 1474.2,625.2 1472.5,627.9 1472.1,628.5 1470.1,631.8 1469.2,633.3 1468.1,635.1 1466,638.5 1465.9,638.6 1464,641.8 1462.7,644 1462,645.3 1460,648.7 1459.6,649.4 1458,652.2 1456.6,654.8 1456.1,655.7 1454.1,659.2 1453.6,660.1 1452.2,662.7 1450.7,665.5 1450.3,666.3 1448.4,669.9 1447.9,670.9 1446.5,673.6 1445.1,676.3 1444.6,677.3 1442.8,681 1442.4,681.6 1440.9,684.7 1439.8,687 1439.1,688.5 1437.3,692.3 1437.2,692.4 1435.5,696.1 1434.7,697.8 1433.7,700 1432.3,703.2 1432,703.9 1430.2,707.9 1429.9,708.6 1428.5,711.9 1427.6,714 1426.8,715.9 1425.4,719.4 1425.2,720" fill="none" stroke="#00ffc1" stroke-width="1.6"/>
<polyline points="1667.4,507.3 1666,509 1665.4,509.8 1663.4,512.3 1661.8,514.3 1661.3,514.8 1659.3,517.3 1657.6,519.5 1657.3,519.8 1655.3,522.4 1653.5,524.8 1653.3,525 1651.3,527.6 1649.4,530 1649.3,530.2 1647.3,532.8 1645.5,535.3 1645.4,535.5 1643.4,538.1 1641.6,540.5 1641.4,540.8 1639.5,543.5 1637.8,545.8 1637.5,546.2 1635.6,548.9 1634.1,551 1633.6,551.7 1631.7,554.5 1630.4,556.3 1629.8,557.3 1627.8,560.1 1626.9,561.5 1625.9,562.9 1624,565.7 1623.4,566.8 1622.1,568.6 1620.3,571.5 1619.9,572 1618.4,574.4 1616.6,577.2 1616.5,577.3 1614.7,580.3 1613.3,582.5 1612.8,583.3 1611,586.3 1610.1,587.7 1609.1,589.3 1607.3,592.3 1606.9,593 1605.5,595.4 1603.8,598.2 1603.7,598.5 1601.9,601.6 1600.8,603.5 1600.2,604.7 1598.4,607.8 1597.9,608.7 1596.6,611 1595,614 1594.9,614.2 1593.2,617.5 1592.2,619.2 1591.4,620.7 1589.7,624 1589.5,624.5 1588,627.3 1586.8,629.8 1586.4,630.6 1584.7,634 1584.2,635 1583.1,637.4 1581.6,640.3 1581.4,640.8 1579.8,644.2 1579.2,645.6 1578.2,647.7 1576.7,650.8 1576.6,651.2 1575,654.7 1574.4,656.1 1573.5,658.2 1572.1,661.4 1571.9,661.8 1570.4,665.4 1569.9,666.7 1568.9,669.1 1567.7,672 1567.4,672.8 1565.9,676.5 1565.6,677.3 1564.5,680.2 1563.5,682.6 1563,684 1561.6,687.8 1561.6,687.9 1560.2,691.6 1559.6,693.2 1558.8,695.5 1557.8,698.5 1557.5,699.4 1556.1,703.4 1556,703.9 1554.8,707.4 1554.2,709.2 1553.5,711.4 1552.5,714.5 1552.3,715.4 1551,719.5 1550.9,719.9 1549.8,723.7 1549.3,725.2 1548.6,727.8 1547.8,730.6 1547.4,732 1546.4,736 1546.3,736.3 1545.2,740.6 1545,741.3 1544.1,744.9 1543.6,746.7 1543,749.3 1542.3,752.1 1542,753.7 1541.1,757.5 1540.9,758.2 1540,762.7 1539.9,762.9 1539,767.3 1538.8,768.4 1538.1,771.9 1537.7,773.8 1537.2,776.6" fill="none" stroke="#00ff3c" stroke-width="1.6"/>
<polyline points="1662.1,762 1662.4,758.8 1662.7,756.6 1663,754.4 1663.5,751.3 1663.6,749.9 1664.2,745.9 1664.3,745.5 1665,741.1 1665.1,740.6 1665.7,736.8 1665.9,735.2 1666.4,732.5 1666.9,729.9 1667.2,728.3 1667.9,724.6 1668,724.1 1668.8,719.9 1668.9,719.3 1669.6,715.8 1670,714 1670.5,711.7 1671.2,708.7 1671.4,707.6 1672.3,703.6 1672.4,703.4 1673.3,699.6 1673.6,698.1 1674.2,695.7 1674.9,692.9 1675.2,691.8 1676.2,687.9 1676.3,687.6 1677.3,684.1 1677.7,682.4 1678.3,680.3 1679.2,677.1 1679.4,676.5 1680.5,672.8 1680.8,671.9 1681.6,669.1 1682.4,666.7 1682.8,665.4 1683.9,661.7 1684,661.5 1685.1,658.1 1685.7,656.2 1686.3,654.5 1687.5,651 1687.5,651 1688.7,647.5 1689.3,645.8 1690,644 1691.2,640.6 1691.2,640.5 1692.5,637 1693.1,635.5 1693.8,633.6 1695.1,630.3 1695.1,630.2 1696.5,626.9 1697.2,625.1 1697.8,623.6 1699.2,620.2 1699.3,619.9 1700.5,617 1701.5,614.8 1701.9,613.7 1703.3,610.5 1703.7,609.6 1704.7,607.3 1706,604.4 1706.2,604.1 1707.6,600.9 1708.4,599.3 1709.1,597.8 1710.5,594.7 1710.8,594.1 1712,591.6 1713.3,589 1713.5,588.5 1715,585.5 1715.8,583.9 1716.5,582.5 1718.1,579.5 1718.4,578.7 1719.6,576.5 1721.1,573.6 1721.1,573.5 1722.7,570.6 1723.8,568.5 1724.3,567.7 1725.9,564.8 1726.6,563.3 1727.4,561.9 1729,559 1729.5,558.2 1730.6,556.2 1732.3,553.4 1732.4,553.1 1733.9,550.6 1735.4,547.9 1735.5,547.8 1737.2,545 1738.5,542.8 1738.8,542.3 1740.5,539.6 1741.6,537.7 1742.2,536.9" fill="none" stroke="#4aff00" stroke-width="1.6"/>
<polyline points="1782.5,701.2 1783.1,697.3 1783.3,696 1783.7,693.3 1784.1,690.8 1784.4,689.4 1785,685.6 1785,685.5 1785.7,681.7 1786,680.4 1786.4,677.9 1787,675.2 1787.2,674.1 1787.9,670.3 1788,670 1788.7,666.6 1789.1,664.8 1789.5,662.9 1790.3,659.7 1790.3,659.3 1791.2,655.7 1791.5,654.5 1792,652.1 1792.7,649.4 1792.9,648.5 1793.8,645 1794,644.3 1794.8,641.5 1795.4,639.1 1795.7,638 1796.7,634.5 1796.8,634 1797.6,631.1 1798.3,628.9 1798.6,627.7 1799.6,624.4 1799.8,623.8 1800.7,621 1801.4,618.7 1801.7,617.7 1802.8,614.4 1803,613.6 1803.9,611.1 1804.7,608.5 1804.9,607.9 1806.1,604.7 1806.5,603.4 1807.2,601.5 1808.3,598.4 1808.3,598.3 1809.5,595.2 1810.2,593.3 1810.6,592 1811.8,588.9 1812.1,588.3 1813,585.9 1814.1,583.2 1814.2,582.8 1815.4,579.8 1816.1,578.1 1816.7,576.8 1817.9,573.8 1818.2,573.1 1819.2,570.8 1820.3,568.1 1820.4,567.9" fill="none" stroke="#cfff00" stroke-width="1.6"/>
<polyline points="1892.9,645.5 1893.1,644.1 1893.7,640.6 1893.8,640.4 1894.4,637.1 1894.7,635.3 1895,633.6 1895.7,630.3 1895.7,630.2 1896.4,626.7 1896.7,625.2 1897.1,623.4 1897.8,620.2 1897.8,620 1898.5,616.7 1898.9,615.2 1899.3,613.3 1900.1,610.2 1900.1,610.1 1900.9,606.8 1901.3,605.1 1901.7,603.6 1902.5,600.4" fill="none" stroke="#ffaa00" stroke-width="1.6"/>
<polygon points="1223.5,618 1585.2,801 1947.2,617.8 1586.1,475.3" fill="none" stroke="#000" stroke-width="1.4" stroke-linejoin="round"/>
<circle cx="1217.8" cy="493.3" r="2.8" fill="#000"/>
<circle cx="1213.2" cy="393.6" r="2.8" fill="#000"/>
<circle cx="1208.6" cy="293.8" r="2.8" fill="#000"/>
<circle cx="1204.1" cy="194.1" r="2.8" fill="#000"/>
<circle cx="1199.5" cy="94.3" r="2.8" fill="#000"/>
<circle cx="1223.5" cy="618" r="2.8" fill="#000"/>
<circle cx="1585.2" cy="801" r="2.8" fill="#000"/>
<circle cx="1313.9" cy="663.8" r="2.8" fill="#000"/>
<circle cx="1675.7" cy="755.2" r="2.8" fill="#000"/>
<circle cx="1404.3" cy="709.5" r="2.8" fill="#000"/>
<circle cx="1766.2" cy="709.4" r="2.8" fill="#000"/>
<circle cx="1494.8" cy="755.2" r="2.8" fill="#000"/>
<circle cx="1856.7" cy="663.6" r="2.8" fill="#000"/>
<circle cx="1585.2" cy="801" r="2.8" fill="#000"/>
<circle cx="1947.2" cy="617.8" r="2.8" fill="#000"/>
<line x1="1968.3" y1="171.1" x2="1968.9" y2="156.9" stroke="#000" stroke-width="1.6"/>
<circle cx="1968.3" cy="171.1" r="6.6" fill="#d98080" stroke="#000" stroke-width="1.6"/>
<line x1="1788.3" y1="298.3" x2="1788.7" y2="283.6" stroke="#000" stroke-width="1.6"/>
<circle cx="1788.3" cy="298.3" r="6.6" fill="#d98080" stroke="#000" stroke-width="1.6"/>
<line x1="1787.9" y1="314.4" x2="1788.7" y2="283.6" stroke="#000" stroke-width="1.6"/>
<circle cx="1787.9" cy="314.4" r="6.6" fill="#d98080" stroke="#000" stroke-width="1.6"/>
<line x1="1585.4" y1="427.7" x2="1585.4" y2="426" stroke="#000" stroke-width="1.6"/>
<circle cx="1585.4" cy="427.7" r="6.6" fill="#d98080" stroke="#000" stroke-width="1.6"/>
<line x1="1585.4" y1="448.8" x2="1585.4" y2="426" stroke="#000" stroke-width="1.6"/>
<circle cx="1585.4" cy="448.8" r="6.6" fill="#d98080" stroke="#000" stroke-width="1.6"/>
<line x1="1586.1" y1="226.5" x2="1586.1" y2="227.3" stroke="#000" stroke-width="1.6"/>
<circle cx="1586.1" cy="226.5" r="6.6" fill="#d98080" stroke="#000" stroke-width="1.6"/>
<line x1="1410.4" y1="315.2" x2="1410.4" y2="316.9" stroke="#000" stroke-width="1.6"/>
<circle cx="1410.4" cy="315.2" r="6.6" fill="#d98080" stroke="#000" stroke-width="1.6"/>
<line x1="1214.2" y1="415.7" x2="1214.3" y2="416.5" stroke="#000" stroke-width="1.6"/>
<circle cx="1214.2" cy="415.7" r="6.6" fill="#d98080" stroke="#000" stroke-width="1.6"/>
<line x1="1214.6" y1="424.1" x2="1214.3" y2="416.5" stroke="#000" stroke-width="1.6"/>
<circle cx="1214.6" cy="424.1" r="6.6" fill="#d98080" stroke="#000" stroke-width="1.6"/>
<line x1="1214.9" y1="431.4" x2="1214.3" y2="416.5" stroke="#000" stroke-width="1.6"/>
<circle cx="1214.9" cy="431.4" r="6.6" fill="#d98080" stroke="#000" stroke-width="1.6"/>
<polygon points="1586.1,233 1602.9,224.3 1586.1,227.3 1569.4,235.9" fill="#00ffcb" stroke="#000" stroke-width="1.6" stroke-linejoin="round"/>
<polygon points="1569.2,241.8 1586.1,233 1569.4,235.9 1552.5,244.5" fill="#00ffd7" stroke="#000" stroke-width="1.6" stroke-linejoin="round"/>
<polygon points="1603,230 1619.8,221.2 1602.9,224.3 1586.1,233" fill="#00ffac" stroke="#000" stroke-width="1.6" stroke-linejoin="round"/>
<polygon points="1552,250.7 1569.2,241.8 1552.5,244.5 1535.4,253.2" fill="#00ffe4" stroke="#000" stroke-width="1.6" stroke-linejoin="round"/>
<polygon points="1586.1,239 1603,230 1586.1,233 1569.2,241.8" fill="#00ffb9" stroke="#000" stroke-width="1.6" stroke-linejoin="round"/>
<polygon points="1620.2,227.1 1637,218.1 1619.8,221.2 1603,230" fill="#00ff8d" stroke="#000" stroke-width="1.6" stroke-linejoin="round"/>
<polygon points="1534.7,259.6 1552,250.7 1535.4,253.2 1518.1,262" fill="#00fff1" stroke="#000" stroke-width="1.6" stroke-linejoin="round"/>
<polygon points="1568.9,248 1586.1,239 1569.2,241.8 1552,250.7" fill="#00ffc6" stroke="#000" stroke-width="1.6" stroke-linejoin="round"/>
<polygon points="1603.2,236.2 1620.2,227.1 1603,230 1586.1,239" fill="#00ff9b" stroke="#000" stroke-width="1.6" stroke-linejoin="round"/>
<polygon points="1637.6,224.1 1654.4,214.9 1637,218.1 1620.2,227.1" fill="#00ff6e" stroke="#000" stroke-width="1.6" stroke-linejoin="round"/>
<polygon points="1517.2,268.7 1534.7,259.6 1518.1,262 1500.6,270.9" fill="#00fffd" stroke="#000" stroke-width="1.6" stroke-linejoin="round"/>
<polygon points="1551.6,257.2 1568.9,248 1552,250.7 1534.7,259.6" fill="#00ffd3" stroke="#000" stroke-width="1.6" stroke-linejoin="round"/>
<polygon points="1586,245.4 1603.2,236.2 1586.1,239 1568.9,248" fill="#00ffa8" stroke="#000" stroke-width="1.6" stroke-linejoin="round"/>
<polygon points="1620.6,233.3 1637.6,224.1 1620.2,227.1 1603.2,236.2" fill="#00ff7c" stroke="#000" stroke-width="1.6" stroke-linejoin="round"/>
<polygon points="1499.6,277.9 1517.2,268.7 1500.6,270.9 1483,280" fill="#00f4ff" stroke="#000" stroke-width="1.6" stroke-linejoin="round"/>
<polygon points="1655.2,221 1672.1,211.7 1654.4,214.9 1637.6,224.1" fill="#00ff50" stroke="#000" stroke-width="1.6" stroke-linejoin="round"/>
<polygon points="1534.1,266.4 1551.6,257.2 1534.7,259.6 1517.2,268.7" fill="#00ffe0" stroke="#000" stroke-width="1.6" stroke-linejoin="round"/>
<polygon points="1568.7,254.7 1586,245.4 1568.9,248 1551.6,257.2" fill="#00ffb6" stroke="#000" stroke-width="1.6" stroke-linejoin="round"/>
<polygon points="1603.4,242.7 1620.6,233.3 1603.2,236.2 1586,245.4" fill="#00ff8a" stroke="#000" stroke-width="1.6" stroke-linejoin="round"/>
<polygon points="1481.7,287.1 1499.6,277.9 1483,280 1465.1,289" fill="#00e8ff" stroke="#000" stroke-width="1.6" stroke-linejoin="round"/>
<polygon points="1638.2,230.4 1655.2,221 1637.6,224.1 1620.6,233.3" fill="#00ff5e" stroke="#000" stroke-width="1.6" stroke-linejoin="round"/>
<polygon points="1516.4,275.7 1534.1,266.4 1517.2,268.7 1499.6,277.9" fill="#00ffed" stroke="#000" stroke-width="1.6" stroke-linejoin="round"/>
<polygon points="1673.1,217.9 1690,208.4 1672.1,211.7 1655.2,221" fill="#00ff31" stroke="#000" stroke-width="1.6" stroke-linejoin="round"/>
<polygon points="1551.1,264.1 1568.7,254.7 1551.6,257.2 1534.1,266.4" fill="#00ffc3" stroke="#000" stroke-width="1.6" stroke-linejoin="round"/>
<polygon points="1586,252.2 1603.4,242.7 1586,245.4 1568.7,254.7" fill="#00ff98" stroke="#000" stroke-width="1.6" stroke-linejoin="round"/>
<polygon points="1463.6,296.5 1481.7,287.1 1465.1,289 1447.1,298.2" fill="#00dbff" stroke="#000" stroke-width="1.6" stroke-linejoin="round"/>
<polygon points="1621,240 1638.2,230.4 1620.6,233.3 1603.4,242.7" fill="#00ff6c" stroke="#000" stroke-width="1.6" stroke-linejoin="round"/>
<polygon points="1498.5,285.2 1516.4,275.7 1499.6,277.9 1481.7,287.1" fill="#00fffa" stroke="#000" stroke-width="1.6" stroke-linejoin="round"/>
<polygon points="1656,227.5 1673.1,217.9 1655.2,221 1638.2,230.4" fill="#00ff40" stroke="#000" stroke-width="1.6" stroke-linejoin="round"/>
<polygon points="1533.4,273.6 1551.1,264.1 1534.1,266.4 1516.4,275.7" fill="#00ffd1" stroke="#000" stroke-width="1.6" stroke-linejoin="round"/>
<polygon points="1691.2,214.7 1708.1,205.1 1690,208.4 1673.1,217.9" fill="#00ff12" stroke="#000" stroke-width="1.6" stroke-linejoin="round"/>
<polygon points="1568.4,261.7 1586,252.2 1568.7,254.7 1551.1,264.1" fill="#00ffa6" stroke="#000" stroke-width="1.6" stroke-linejoin="round"/>
<polygon points="1445.4,305.9 1463.6,296.5 1447.1,298.2 1428.9,307.5" fill="#00ceff" stroke="#000" stroke-width="1.6" stroke-linejoin="round"/>
<polygon points="1603.6,249.6 1621,240 1603.4,242.7 1586,252.2" fill="#00ff7b" stroke="#000" stroke-width="1.6" stroke-linejoin="round"/>
<polygon points="1480.4,294.7 1498.5,285.2 1481.7,287.1 1463.6,296.5" fill="#00f7ff" stroke="#000" stroke-width="1.6" stroke-linejoin="round"/>
<polygon points="1638.8,237.2 1656,227.5 1638.2,230.4 1621,240" fill="#00ff4e" stroke="#000" stroke-width="1.6" stroke-linejoin="round"/>
<polygon points="1515.5,283.2 1533.4,273.6 1516.4,275.7 1498.5,285.2" fill="#00ffde" stroke="#000" stroke-width="1.6" stroke-linejoin="round"/>
<polygon points="1674.1,224.5 1691.2,214.7 1673.1,217.9 1656,227.5" fill="#00ff21" stroke="#000" stroke-width="1.6" stroke-linejoin="round"/>
<polygon points="1550.7,271.4 1568.4,261.7 1551.1,264.1 1533.4,273.6" fill="#00ffb4" stroke="#000" stroke-width="1.6" stroke-linejoin="round"/>
<polygon points="1709.6,211.5 1726.5,201.7 1708.1,205.1 1691.2,214.7" fill="#0dff00" stroke="#000" stroke-width="1.6" stroke-linejoin="round"/>
<polygon points="1586,259.3 1603.6,249.6 1586,252.2 1568.4,261.7" fill="#00ff89" stroke="#000" stroke-width="1.6" stroke-linejoin="round"/>
<polygon points="1426.9,315.5 1445.4,305.9 1428.9,307.5 1410.4,316.9" fill="#00c2ff" stroke="#000" stroke-width="1.6" stroke-linejoin="round"/>
<polygon points="1462.1,304.3 1480.4,294.7 1463.6,296.5 1445.4,305.9" fill="#00eaff" stroke="#000" stroke-width="1.6" stroke-linejoin="round"/>
<polygon points="1621.4,247 1638.8,237.2 1621,240 1603.6,249.6" fill="#00ff5d" stroke="#000" stroke-width="1.6" stroke-linejoin="round"/>
<polygon points="1497.4,292.9 1515.5,283.2 1498.5,285.2 1480.4,294.7" fill="#00ffec" stroke="#000" stroke-width="1.6" stroke-linejoin="round"/>
<polygon points="1656.9,234.4 1674.1,224.5 1656,227.5 1638.8,237.2" fill="#00ff30" stroke="#000" stroke-width="1.6" stroke-linejoin="round"/>
<polygon points="1532.7,281.2 1550.7,271.4 1533.4,273.6 1515.5,283.2" fill="#00ffc2" stroke="#000" stroke-width="1.6" stroke-linejoin="round"/>
<polygon points="1692.5,221.5 1709.6,211.5 1691.2,214.7 1674.1,224.5" fill="#00ff03" stroke="#000" stroke-width="1.6" stroke-linejoin="round"/>
<polygon points="1568.2,269.2 1586,259.3 1568.4,261.7 1550.7,271.4" fill="#00ff97" stroke="#000" stroke-width="1.6" stroke-linejoin="round"/>
<polygon points="1408.2,325.2 1426.9,315.5 1410.4,316.9 1391.8,326.4" fill="#00b5ff" stroke="#000" stroke-width="1.6" stroke-linejoin="round"/>
<polygon points="1728.2,208.3 1745.2,198.3 1726.5,201.7 1709.6,211.5" fill="#2bff00" stroke="#000" stroke-width="1.6" stroke-linejoin="round"/>
<polygon points="1443.6,314.1 1462.1,304.3 1445.4,305.9 1426.9,315.5" fill="#00ddff" stroke="#000" stroke-width="1.6" stroke-linejoin="round"/>
<polygon points="1603.8,256.9 1621.4,247 1603.6,249.6 1586,259.3" fill="#00ff6c" stroke="#000" stroke-width="1.6" stroke-linejoin="round"/>
<polygon points="1479,302.7 1497.4,292.9 1480.4,294.7 1462.1,304.3" fill="#00fff9" stroke="#000" stroke-width="1.6" stroke-linejoin="round"/>
<polygon points="1639.4,244.4 1656.9,234.4 1638.8,237.2 1621.4,247" fill="#00ff40" stroke="#000" stroke-width="1.6" stroke-linejoin="round"/>
<polygon points="1514.6,291.1 1532.7,281.2 1515.5,283.2 1497.4,292.9" fill="#00ffd0" stroke="#000" stroke-width="1.6" stroke-linejoin="round"/>
<polygon points="1675.2,231.5 1692.5,221.5 1674.1,224.5 1656.9,234.4" fill="#00ff13" stroke="#000" stroke-width="1.6" stroke-linejoin="round"/>
<polygon points="1550.2,279.1 1568.2,269.2 1550.7,271.4 1532.7,281.2" fill="#00ffa6" stroke="#000" stroke-width="1.6" stroke-linejoin="round"/>
<polygon points="1389.3,334.9 1408.2,325.2 1391.8,326.4 1372.9,336" fill="#00a9ff" stroke="#000" stroke-width="1.6" stroke-linejoin="round"/>
<polygon points="1711.1,218.4 1728.2,208.3 1709.6,211.5 1692.5,221.5" fill="#1bff00" stroke="#000" stroke-width="1.6" stroke-linejoin="round"/>
<polygon points="1585.9,266.9 1603.8,256.9 1586,259.3 1568.2,269.2" fill="#00ff7b" stroke="#000" stroke-width="1.6" stroke-linejoin="round"/>
<polygon points="1424.9,323.9 1443.6,314.1 1426.9,315.5 1408.2,325.2" fill="#00d0ff" stroke="#000" stroke-width="1.6" stroke-linejoin="round"/>
<polygon points="1747.1,205 1764.1,194.8 1745.2,198.3 1728.2,208.3" fill="#4aff00" stroke="#000" stroke-width="1.6" stroke-linejoin="round"/>
<polygon points="1460.5,312.6 1479,302.7 1462.1,304.3 1443.6,314.1" fill="#00f8ff" stroke="#000" stroke-width="1.6" stroke-linejoin="round"/>
<polygon points="1621.8,254.5 1639.4,244.4 1621.4,247 1603.8,256.9" fill="#00ff4f" stroke="#000" stroke-width="1.6" stroke-linejoin="round"/>
<polygon points="1496.2,301 1514.6,291.1 1497.4,292.9 1479,302.7" fill="#00ffde" stroke="#000" stroke-width="1.6" stroke-linejoin="round"/>
<polygon points="1657.7,241.7 1675.2,231.5 1656.9,234.4 1639.4,244.4" fill="#00ff22" stroke="#000" stroke-width="1.6" stroke-linejoin="round"/>
<polygon points="1532,289.2 1550.2,279.1 1532.7,281.2 1514.6,291.1" fill="#00ffb4" stroke="#000" stroke-width="1.6" stroke-linejoin="round"/>
<polygon points="1370.2,344.8 1389.3,334.9 1372.9,336 1353.9,345.7" fill="#009cff" stroke="#000" stroke-width="1.6" stroke-linejoin="round"/>
<polygon points="1693.8,228.6 1711.1,218.4 1692.5,221.5 1675.2,231.5" fill="#0bff00" stroke="#000" stroke-width="1.6" stroke-linejoin="round"/>
<polygon points="1567.9,277.1 1585.9,266.9 1568.2,269.2 1550.2,279.1" fill="#00ff89" stroke="#000" stroke-width="1.6" stroke-linejoin="round"/>
<polygon points="1406,333.8 1424.9,323.9 1408.2,325.2 1389.3,334.9" fill="#00c3ff" stroke="#000" stroke-width="1.6" stroke-linejoin="round"/>
<polygon points="1730,215.3 1747.1,205 1728.2,208.3 1711.1,218.4" fill="#3aff00" stroke="#000" stroke-width="1.6" stroke-linejoin="round"/>
<polygon points="1441.8,322.6 1460.5,312.6 1443.6,314.1 1424.9,323.9" fill="#00eaff" stroke="#000" stroke-width="1.6" stroke-linejoin="round"/>
<polygon points="1604,264.6 1621.8,254.5 1603.8,256.9 1585.9,266.9" fill="#00ff5e" stroke="#000" stroke-width="1.6" stroke-linejoin="round"/>
<polygon points="1766.3,201.6 1783.3,191.3 1764.1,194.8 1747.1,205" fill="#69ff00" stroke="#000" stroke-width="1.6" stroke-linejoin="round"/>
<polygon points="1477.6,311.1 1496.2,301 1479,302.7 1460.5,312.6" fill="#00ffeb" stroke="#000" stroke-width="1.6" stroke-linejoin="round"/>
<polygon points="1640.1,251.9 1657.7,241.7 1639.4,244.4 1621.8,254.5" fill="#00ff32" stroke="#000" stroke-width="1.6" stroke-linejoin="round"/>
<polygon points="1513.6,299.4 1532,289.2 1514.6,291.1 1496.2,301" fill="#00ffc2" stroke="#000" stroke-width="1.6" stroke-linejoin="round"/>
<polygon points="1350.9,354.8 1370.2,344.8 1353.9,345.7 1334.6,355.5" fill="#0090ff" stroke="#000" stroke-width="1.6" stroke-linejoin="round"/>
<polygon points="1676.3,239 1693.8,228.6 1675.2,231.5 1657.7,241.7" fill="#00ff05" stroke="#000" stroke-width="1.6" stroke-linejoin="round"/>
<polygon points="1549.7,287.3 1567.9,277.1 1550.2,279.1 1532,289.2" fill="#00ff98" stroke="#000" stroke-width="1.6" stroke-linejoin="round"/>
<polygon points="1386.8,343.9 1406,333.8 1389.3,334.9 1370.2,344.8" fill="#00b6ff" stroke="#000" stroke-width="1.6" stroke-linejoin="round"/>
<polygon points="1712.7,225.7 1730,215.3 1711.1,218.4 1693.8,228.6" fill="#29ff00" stroke="#000" stroke-width="1.6" stroke-linejoin="round"/>
<polygon points="1585.9,274.9 1604,264.6 1585.9,266.9 1567.9,277.1" fill="#00ff6d" stroke="#000" stroke-width="1.6" stroke-linejoin="round"/>
<polygon points="1422.8,332.8 1441.8,322.6 1424.9,323.9 1406,333.8" fill="#00ddff" stroke="#000" stroke-width="1.6" stroke-linejoin="round"/>
<polygon points="1749.1,212.1 1766.3,201.6 1747.1,205 1730,215.3" fill="#58ff00" stroke="#000" stroke-width="1.6" stroke-linejoin="round"/>
<polygon points="1458.9,321.3 1477.6,311.1 1460.5,312.6 1441.8,322.6" fill="#00fff9" stroke="#000" stroke-width="1.6" stroke-linejoin="round"/>
<polygon points="1622.2,262.3 1640.1,251.9 1621.8,254.5 1604,264.6" fill="#00ff41" stroke="#000" stroke-width="1.6" stroke-linejoin="round"/>
<polygon points="1785.7,198.2 1802.7,187.7 1783.3,191.3 1766.3,201.6" fill="#88ff00" stroke="#000" stroke-width="1.6" stroke-linejoin="round"/>
<polygon points="1495,309.6 1513.6,299.4 1496.2,301 1477.6,311.1" fill="#00ffd0" stroke="#000" stroke-width="1.6" stroke-linejoin="round"/>
<polygon points="1658.6,249.4 1676.3,239 1657.7,241.7 1640.1,251.9" fill="#00ff15" stroke="#000" stroke-width="1.6" stroke-linejoin="round"/>
<polygon points="1331.4,364.9 1350.9,354.8 1334.6,355.5 1315.1,365.4" fill="#0083ff" stroke="#000" stroke-width="1.6" stroke-linejoin="round"/>
<polygon points="1531.3,297.6 1549.7,287.3 1532,289.2 1513.6,299.4" fill="#00ffa7" stroke="#000" stroke-width="1.6" stroke-linejoin="round"/>
<polygon points="1367.5,354.1 1386.8,343.9 1370.2,344.8 1350.9,354.8" fill="#00a9ff" stroke="#000" stroke-width="1.6" stroke-linejoin="round"/>
<polygon points="1695.1,236.2 1712.7,225.7 1693.8,228.6 1676.3,239" fill="#19ff00" stroke="#000" stroke-width="1.6" stroke-linejoin="round"/>
<polygon points="1567.7,285.4 1585.9,274.9 1567.9,277.1 1549.7,287.3" fill="#00ff7c" stroke="#000" stroke-width="1.6" stroke-linejoin="round"/>
<polygon points="1403.6,343 1422.8,332.8 1406,333.8 1386.8,343.9" fill="#00cfff" stroke="#000" stroke-width="1.6" stroke-linejoin="round"/>
<polygon points="1731.8,222.7 1749.1,212.1 1730,215.3 1712.7,225.7" fill="#47ff00" stroke="#000" stroke-width="1.6" stroke-linejoin="round"/>
<polygon points="1439.9,331.6 1458.9,321.3 1441.8,322.6 1422.8,332.8" fill="#00f7ff" stroke="#000" stroke-width="1.6" stroke-linejoin="round"/>
<polygon points="1604.2,272.8 1622.2,262.3 1604,264.6 1585.9,274.9" fill="#00ff51" stroke="#000" stroke-width="1.6" stroke-linejoin="round"/>
<polygon points="1768.5,208.9 1785.7,198.2 1766.3,201.6 1749.1,212.1" fill="#77ff00" stroke="#000" stroke-width="1.6" stroke-linejoin="round"/>
<polygon points="1476.2,320 1495,309.6 1477.6,311.1 1458.9,321.3" fill="#00ffdf" stroke="#000" stroke-width="1.6" stroke-linejoin="round"/>
<polygon points="1640.7,259.9 1658.6,249.4 1640.1,251.9 1622.2,262.3" fill="#00ff25" stroke="#000" stroke-width="1.6" stroke-linejoin="round"/>
<polygon points="1311.6,375.1 1331.4,364.9 1315.1,365.4 1295.4,375.4" fill="#0077ff" stroke="#000" stroke-width="1.6" stroke-linejoin="round"/>
<polygon points="1805.4,194.8 1822.4,184.1 1802.7,187.7 1785.7,198.2" fill="#a7ff00" stroke="#000" stroke-width="1.6" stroke-linejoin="round"/>
<polygon points="1512.7,308.1 1531.3,297.6 1513.6,299.4 1495,309.6" fill="#00ffb5" stroke="#000" stroke-width="1.6" stroke-linejoin="round"/>
<polygon points="1347.9,364.3 1367.5,354.1 1350.9,354.8 1331.4,364.9" fill="#009cff" stroke="#000" stroke-width="1.6" stroke-linejoin="round"/>
<polygon points="1677.4,246.8 1695.1,236.2 1676.3,239 1658.6,249.4" fill="#09ff00" stroke="#000" stroke-width="1.6" stroke-linejoin="round"/>
<polygon points="1549.2,295.9 1567.7,285.4 1549.7,287.3 1531.3,297.6" fill="#00ff8b" stroke="#000" stroke-width="1.6" stroke-linejoin="round"/>
<polygon points="1384.3,353.3 1403.6,343 1386.8,343.9 1367.5,354.1" fill="#00c2ff" stroke="#000" stroke-width="1.6" stroke-linejoin="round"/>
<polygon points="1714.2,233.4 1731.8,222.7 1712.7,225.7 1695.1,236.2" fill="#37ff00" stroke="#000" stroke-width="1.6" stroke-linejoin="round"/>
<polygon points="1420.7,342.1 1439.9,331.6 1422.8,332.8 1403.6,343" fill="#00e9ff" stroke="#000" stroke-width="1.6" stroke-linejoin="round"/>
<polygon points="1585.9,283.4 1604.2,272.8 1585.9,274.9 1567.7,285.4" fill="#00ff60" stroke="#000" stroke-width="1.6" stroke-linejoin="round"/>
<polygon points="1751.2,219.6 1768.5,208.9 1749.1,212.1 1731.8,222.7" fill="#65ff00" stroke="#000" stroke-width="1.6" stroke-linejoin="round"/>
<polygon points="1457.2,330.5 1476.2,320 1458.9,321.3 1439.9,331.6" fill="#00ffed" stroke="#000" stroke-width="1.6" stroke-linejoin="round"/>
<polygon points="1622.6,270.6 1640.7,259.9 1622.2,262.3 1604.2,272.8" fill="#00ff35" stroke="#000" stroke-width="1.6" stroke-linejoin="round"/>
<polygon points="1291.7,385.4 1311.6,375.1 1295.4,375.4 1275.5,385.5" fill="#006aff" stroke="#000" stroke-width="1.6" stroke-linejoin="round"/>
<polygon points="1788.2,205.6 1805.4,194.8 1785.7,198.2 1768.5,208.9" fill="#95ff00" stroke="#000" stroke-width="1.6" stroke-linejoin="round"/>
<polygon points="1493.9,318.7 1512.7,308.1 1495,309.6 1476.2,320" fill="#00ffc4" stroke="#000" stroke-width="1.6" stroke-linejoin="round"/>
<polygon points="1659.5,257.5 1677.4,246.8 1658.6,249.4 1640.7,259.9" fill="#00ff08" stroke="#000" stroke-width="1.6" stroke-linejoin="round"/>
<polygon points="1328.1,374.7 1347.9,364.3 1331.4,364.9 1311.6,375.1" fill="#008fff" stroke="#000" stroke-width="1.6" stroke-linejoin="round"/>
<polygon points="1825.4,191.3 1842.5,180.4 1822.4,184.1 1805.4,194.8" fill="#c6ff00" stroke="#000" stroke-width="1.6" stroke-linejoin="round"/>
<polygon points="1530.6,306.5 1549.2,295.9 1531.3,297.6 1512.7,308.1" fill="#00ff9a" stroke="#000" stroke-width="1.6" stroke-linejoin="round"/>
<polygon points="1364.7,363.8 1384.3,353.3 1367.5,354.1 1347.9,364.3" fill="#00b5ff" stroke="#000" stroke-width="1.6" stroke-linejoin="round"/>
<polygon points="1696.5,244.2 1714.2,233.4 1695.1,236.2 1677.4,246.8" fill="#26ff00" stroke="#000" stroke-width="1.6" stroke-linejoin="round"/>
<polygon points="1567.4,294.1 1585.9,283.4 1567.7,285.4 1549.2,295.9" fill="#00ff70" stroke="#000" stroke-width="1.6" stroke-linejoin="round"/>
<polygon points="1401.3,352.6 1420.7,342.1 1403.6,343 1384.3,353.3" fill="#00dbff" stroke="#000" stroke-width="1.6" stroke-linejoin="round"/>
<polygon points="1733.6,230.5 1751.2,219.6 1731.8,222.7 1714.2,233.4" fill="#54ff00" stroke="#000" stroke-width="1.6" stroke-linejoin="round"/>
<polygon points="1438,341.1 1457.2,330.5 1439.9,331.6 1420.7,342.1" fill="#00fffb" stroke="#000" stroke-width="1.6" stroke-linejoin="round"/>
<polygon points="1604.4,281.4 1622.6,270.6 1604.2,272.8 1585.9,283.4" fill="#00ff45" stroke="#000" stroke-width="1.6" stroke-linejoin="round"/>
<polygon points="1271.5,395.8 1291.7,385.4 1275.5,385.5 1255.3,395.7" fill="#005eff" stroke="#000" stroke-width="1.6" stroke-linejoin="round"/>
<polygon points="1770.9,216.5 1788.2,205.6 1768.5,208.9 1751.2,219.6" fill="#83ff00" stroke="#000" stroke-width="1.6" stroke-linejoin="round"/>
<polygon points="1474.8,329.3 1493.9,318.7 1476.2,320 1457.2,330.5" fill="#00ffd3" stroke="#000" stroke-width="1.6" stroke-linejoin="round"/>
<polygon points="1641.4,268.4 1659.5,257.5 1640.7,259.9 1622.6,270.6" fill="#00ff18" stroke="#000" stroke-width="1.6" stroke-linejoin="round"/>
<polygon points="1308.1,385.2 1328.1,374.7 1311.6,375.1 1291.7,385.4" fill="#0082ff" stroke="#000" stroke-width="1.6" stroke-linejoin="round"/>
<polygon points="1808.2,202.3 1825.4,191.3 1805.4,194.8 1788.2,205.6" fill="#b4ff00" stroke="#000" stroke-width="1.6" stroke-linejoin="round"/>
<polygon points="1511.7,317.3 1530.6,306.5 1512.7,308.1 1493.9,318.7" fill="#00ffaa" stroke="#000" stroke-width="1.6" stroke-linejoin="round"/>
<polygon points="1344.8,374.4 1364.7,363.8 1347.9,364.3 1328.1,374.7" fill="#00a7ff" stroke="#000" stroke-width="1.6" stroke-linejoin="round"/>
<polygon points="1678.6,255.1 1696.5,244.2 1677.4,246.8 1659.5,257.5" fill="#15ff00" stroke="#000" stroke-width="1.6" stroke-linejoin="round"/>
<polygon points="1845.7,187.7 1862.8,176.6 1842.5,180.4 1825.4,191.3" fill="#e5ff00" stroke="#000" stroke-width="1.6" stroke-linejoin="round"/>
<polygon points="1548.7,304.9 1567.4,294.1 1549.2,295.9 1530.6,306.5" fill="#00ff7f" stroke="#000" stroke-width="1.6" stroke-linejoin="round"/>
<polygon points="1381.6,363.3 1401.3,352.6 1384.3,353.3 1364.7,363.8" fill="#00ceff" stroke="#000" stroke-width="1.6" stroke-linejoin="round"/>
<polygon points="1715.9,241.5 1733.6,230.5 1714.2,233.4 1696.5,244.2" fill="#43ff00" stroke="#000" stroke-width="1.6" stroke-linejoin="round"/>
<polygon points="1418.5,351.8 1438,341.1 1420.7,342.1 1401.3,352.6" fill="#00f5ff" stroke="#000" stroke-width="1.6" stroke-linejoin="round"/>
<polygon points="1585.9,292.3 1604.4,281.4 1585.9,283.4 1567.4,294.1" fill="#00ff54" stroke="#000" stroke-width="1.6" stroke-linejoin="round"/>
<polygon points="1251,406.3 1271.5,395.8 1255.3,395.7 1234.9,406.1" fill="#0051ff" stroke="#000" stroke-width="1.6" stroke-linejoin="round"/>
<polygon points="1753.3,227.6 1770.9,216.5 1751.2,219.6 1733.6,230.5" fill="#72ff00" stroke="#000" stroke-width="1.6" stroke-linejoin="round"/>
<polygon points="1455.5,340.2 1474.8,329.3 1457.2,330.5 1438,341.1" fill="#00ffe1" stroke="#000" stroke-width="1.6" stroke-linejoin="round"/>
<polygon points="1623.1,279.4 1641.4,268.4 1622.6,270.6 1604.4,281.4" fill="#00ff29" stroke="#000" stroke-width="1.6" stroke-linejoin="round"/>
<polygon points="1287.8,395.8 1308.1,385.2 1291.7,385.4 1271.5,395.8" fill="#0075ff" stroke="#000" stroke-width="1.6" stroke-linejoin="round"/>
<polygon points="1790.8,213.4 1808.2,202.3 1788.2,205.6 1770.9,216.5" fill="#a2ff00" stroke="#000" stroke-width="1.6" stroke-linejoin="round"/>
<polygon points="1492.6,328.2 1511.7,317.3 1493.9,318.7 1474.8,329.3" fill="#00ffb9" stroke="#000" stroke-width="1.6" stroke-linejoin="round"/>
<polygon points="1660.4,266.1 1678.6,255.1 1659.5,257.5 1641.4,268.4" fill="#04ff00" stroke="#000" stroke-width="1.6" stroke-linejoin="round"/>
<polygon points="1324.8,385.1 1344.8,374.4 1328.1,374.7 1308.1,385.2" fill="#009aff" stroke="#000" stroke-width="1.6" stroke-linejoin="round"/>
<polygon points="1828.5,198.9 1845.7,187.7 1825.4,191.3 1808.2,202.3" fill="#d2ff00" stroke="#000" stroke-width="1.6" stroke-linejoin="round"/>
<polygon points="1529.8,315.9 1548.7,304.9 1530.6,306.5 1511.7,317.3" fill="#00ff8f" stroke="#000" stroke-width="1.6" stroke-linejoin="round"/>
<polygon points="1361.8,374 1381.6,363.3 1364.7,363.8 1344.8,374.4" fill="#00c0ff" stroke="#000" stroke-width="1.6" stroke-linejoin="round"/>
<polygon points="1697.9,252.6 1715.9,241.5 1696.5,244.2 1678.6,255.1" fill="#32ff00" stroke="#000" stroke-width="1.6" stroke-linejoin="round"/>
<polygon points="1567.1,303.3 1585.9,292.3 1567.4,294.1 1548.7,304.9" fill="#00ff64" stroke="#000" stroke-width="1.6" stroke-linejoin="round"/>
<polygon points="1866.3,184.1 1883.4,172.8 1862.8,176.6 1845.7,187.7" fill="#fffa00" stroke="#000" stroke-width="1.6" stroke-linejoin="round"/>
<polygon points="1398.9,362.7 1418.5,351.8 1401.3,352.6 1381.6,363.3" fill="#00e7ff" stroke="#000" stroke-width="1.6" stroke-linejoin="round"/>
<polygon points="1735.5,238.8 1753.3,227.6 1733.6,230.5 1715.9,241.5" fill="#60ff00" stroke="#000" stroke-width="1.6" stroke-linejoin="round"/>
<polygon points="1230.3,417 1251,406.3 1234.9,406.1 1214.3,416.5" fill="#0045ff" stroke="#000" stroke-width="1.6" stroke-linejoin="round"/>
<polygon points="1436,351.1 1455.5,340.2 1438,341.1 1418.5,351.8" fill="#00fff0" stroke="#000" stroke-width="1.6" stroke-linejoin="round"/>
<polygon points="1604.6,290.5 1623.1,279.4 1604.4,281.4 1585.9,292.3" fill="#00ff39" stroke="#000" stroke-width="1.6" stroke-linejoin="round"/>
<polygon points="1267.4,406.6 1287.8,395.8 1271.5,395.8 1251,406.3" fill="#0068ff" stroke="#000" stroke-width="1.6" stroke-linejoin="round"/>
<polygon points="1773.2,224.6 1790.8,213.4 1770.9,216.5 1753.3,227.6" fill="#8fff00" stroke="#000" stroke-width="1.6" stroke-linejoin="round"/>
<polygon points="1473.3,339.2 1492.6,328.2 1474.8,329.3 1455.5,340.2" fill="#00ffc8" stroke="#000" stroke-width="1.6" stroke-linejoin="round"/>
<polygon points="1642.1,277.3 1660.4,266.1 1641.4,268.4 1623.1,279.4" fill="#00ff0d" stroke="#000" stroke-width="1.6" stroke-linejoin="round"/>
<polygon points="1304.5,395.9 1324.8,385.1 1308.1,385.2 1287.8,395.8" fill="#008dff" stroke="#000" stroke-width="1.6" stroke-linejoin="round"/>
<polygon points="1811.1,210.2 1828.5,198.9 1808.2,202.3 1790.8,213.4" fill="#c0ff00" stroke="#000" stroke-width="1.6" stroke-linejoin="round"/>
<polygon points="1510.7,327 1529.8,315.9 1511.7,317.3 1492.6,328.2" fill="#00ff9e" stroke="#000" stroke-width="1.6" stroke-linejoin="round"/>
<polygon points="1341.7,384.9 1361.8,374 1344.8,374.4 1324.8,385.1" fill="#00b2ff" stroke="#000" stroke-width="1.6" stroke-linejoin="round"/>
<polygon points="1679.7,263.8 1697.9,252.6 1678.6,255.1 1660.4,266.1" fill="#20ff00" stroke="#000" stroke-width="1.6" stroke-linejoin="round"/>
<polygon points="1849.1,195.4 1866.3,184.1 1845.7,187.7 1828.5,198.9" fill="#f1ff00" stroke="#000" stroke-width="1.6" stroke-linejoin="round"/>
<polygon points="1548.2,314.5 1567.1,303.3 1548.7,304.9 1529.8,315.9" fill="#00ff74" stroke="#000" stroke-width="1.6" stroke-linejoin="round"/>
<polygon points="1378.9,373.7 1398.9,362.7 1381.6,363.3 1361.8,374" fill="#00d8ff" stroke="#000" stroke-width="1.6" stroke-linejoin="round"/>
<polygon points="1717.5,250.1 1735.5,238.8 1715.9,241.5 1697.9,252.6" fill="#4eff00" stroke="#000" stroke-width="1.6" stroke-linejoin="round"/>
<polygon points="1416.3,362.1 1436,351.1 1418.5,351.8 1398.9,362.7" fill="#00ffff" stroke="#000" stroke-width="1.6" stroke-linejoin="round"/>
<polygon points="1585.8,301.7 1604.6,290.5 1585.9,292.3 1567.1,303.3" fill="#00ff49" stroke="#000" stroke-width="1.6" stroke-linejoin="round"/>
<polygon points="1887.2,180.4 1904.3,168.9 1883.4,172.8 1866.3,184.1" fill="#ffdb00" stroke="#000" stroke-width="1.6" stroke-linejoin="round"/>
<polygon points="1246.6,417.4 1267.4,406.6 1251,406.3 1230.3,417" fill="#005cff" stroke="#000" stroke-width="1.6" stroke-linejoin="round"/>
<polygon points="1755.4,236 1773.2,224.6 1753.3,227.6 1735.5,238.8" fill="#7dff00" stroke="#000" stroke-width="1.6" stroke-linejoin="round"/>
<polygon points="1453.8,350.3 1473.3,339.2 1455.5,340.2 1436,351.1" fill="#00ffd7" stroke="#000" stroke-width="1.6" stroke-linejoin="round"/>
<polygon points="1623.5,288.6 1642.1,277.3 1623.1,279.4 1604.6,290.5" fill="#00ff1d" stroke="#000" stroke-width="1.6" stroke-linejoin="round"/>
<polygon points="1283.9,406.8 1304.5,395.9 1287.8,395.8 1267.4,406.6" fill="#0080ff" stroke="#000" stroke-width="1.6" stroke-linejoin="round"/>
<polygon points="1793.5,221.6 1811.1,210.2 1790.8,213.4 1773.2,224.6" fill="#adff00" stroke="#000" stroke-width="1.6" stroke-linejoin="round"/>
<polygon points="1491.4,338.2 1510.7,327 1492.6,328.2 1473.3,339.2" fill="#00ffae" stroke="#000" stroke-width="1.6" stroke-linejoin="round"/>
<polygon points="1661.4,275.2 1679.7,263.8 1660.4,266.1 1642.1,277.3" fill="#0fff00" stroke="#000" stroke-width="1.6" stroke-linejoin="round"/>
<polygon points="1321.3,395.9 1341.7,384.9 1324.8,385.1 1304.5,395.9" fill="#00a4ff" stroke="#000" stroke-width="1.6" stroke-linejoin="round"/>
<polygon points="1831.7,206.9 1849.1,195.4 1828.5,198.9 1811.1,210.2" fill="#deff00" stroke="#000" stroke-width="1.6" stroke-linejoin="round"/>
<polygon points="1529.1,325.7 1548.2,314.5 1529.8,315.9 1510.7,327" fill="#00ff84" stroke="#000" stroke-width="1.6" stroke-linejoin="round"/>
<polygon points="1358.8,384.8 1378.9,373.7 1361.8,374 1341.7,384.9" fill="#00caff" stroke="#000" stroke-width="1.6" stroke-linejoin="round"/>
<polygon points="1699.3,261.5 1717.5,250.1 1697.9,252.6 1679.7,263.8" fill="#3dff00" stroke="#000" stroke-width="1.6" stroke-linejoin="round"/>
<polygon points="1566.9,313 1585.8,301.7 1567.1,303.3 1548.2,314.5" fill="#00ff5a" stroke="#000" stroke-width="1.6" stroke-linejoin="round"/>
<polygon points="1396.4,373.3 1416.3,362.1 1398.9,362.7 1378.9,373.7" fill="#00f1ff" stroke="#000" stroke-width="1.6" stroke-linejoin="round"/>
<polygon points="1870,191.9 1887.2,180.4 1866.3,184.1 1849.1,195.4" fill="#ffef00" stroke="#000" stroke-width="1.6" stroke-linejoin="round"/>
<polygon points="1737.4,247.5 1755.4,236 1735.5,238.8 1717.5,250.1" fill="#6bff00" stroke="#000" stroke-width="1.6" stroke-linejoin="round"/>
<polygon points="1434,361.5 1453.8,350.3 1436,351.1 1416.3,362.1" fill="#00ffe6" stroke="#000" stroke-width="1.6" stroke-linejoin="round"/>
<polygon points="1604.8,300 1623.5,288.6 1604.6,290.5 1585.8,301.7" fill="#00ff2e" stroke="#000" stroke-width="1.6" stroke-linejoin="round"/>
<polygon points="1908.4,176.6 1925.5,165 1904.3,168.9 1887.2,180.4" fill="#ffbd00" stroke="#000" stroke-width="1.6" stroke-linejoin="round"/>
<polygon points="1263.2,417.9 1283.9,406.8 1267.4,406.6 1246.6,417.4" fill="#0072ff" stroke="#000" stroke-width="1.6" stroke-linejoin="round"/>
<polygon points="1775.7,233.2 1793.5,221.6 1773.2,224.6 1755.4,236" fill="#9bff00" stroke="#000" stroke-width="1.6" stroke-linejoin="round"/>
<polygon points="1471.8,349.5 1491.4,338.2 1473.3,339.2 1453.8,350.3" fill="#00ffbd" stroke="#000" stroke-width="1.6" stroke-linejoin="round"/>
<polygon points="1642.8,286.7 1661.4,275.2 1642.1,277.3 1623.5,288.6" fill="#00ff02" stroke="#000" stroke-width="1.6" stroke-linejoin="round"/>
<polygon points="1300.7,407.1 1321.3,395.9 1304.5,395.9 1283.9,406.8" fill="#0097ff" stroke="#000" stroke-width="1.6" stroke-linejoin="round"/>
<polygon points="1814,218.6 1831.7,206.9 1811.1,210.2 1793.5,221.6" fill="#cbff00" stroke="#000" stroke-width="1.6" stroke-linejoin="round"/>
<polygon points="1509.7,337.1 1529.1,325.7 1510.7,327 1491.4,338.2" fill="#00ff94" stroke="#000" stroke-width="1.6" stroke-linejoin="round"/>
<polygon points="1338.4,396 1358.8,384.8 1341.7,384.9 1321.3,395.9" fill="#00bcff" stroke="#000" stroke-width="1.6" stroke-linejoin="round"/>
<polygon points="1680.9,273.1 1699.3,261.5 1679.7,263.8 1661.4,275.2" fill="#2bff00" stroke="#000" stroke-width="1.6" stroke-linejoin="round"/>
<polygon points="1852.5,203.6 1870,191.9 1849.1,195.4 1831.7,206.9" fill="#fcff00" stroke="#000" stroke-width="1.6" stroke-linejoin="round"/>
<polygon points="1547.7,324.5 1566.9,313 1548.2,314.5 1529.1,325.7" fill="#00ff6a" stroke="#000" stroke-width="1.6" stroke-linejoin="round"/>
<polygon points="1376.2,384.6 1396.4,373.3 1378.9,373.7 1358.8,384.8" fill="#00e2ff" stroke="#000" stroke-width="1.6" stroke-linejoin="round"/>
<polygon points="1719.2,259.1 1737.4,247.5 1717.5,250.1 1699.3,261.5" fill="#59ff00" stroke="#000" stroke-width="1.6" stroke-linejoin="round"/>
<polygon points="1414.1,372.9 1434,361.5 1416.3,362.1 1396.4,373.3" fill="#00fff5" stroke="#000" stroke-width="1.6" stroke-linejoin="round"/>
<polygon points="1585.8,311.6 1604.8,300 1585.8,301.7 1566.9,313" fill="#00ff3f" stroke="#000" stroke-width="1.6" stroke-linejoin="round"/>
<polygon points="1891.2,188.4 1908.4,176.6 1887.2,180.4 1870,191.9" fill="#ffd000" stroke="#000" stroke-width="1.6" stroke-linejoin="round"/>
<polygon points="1757.6,244.9 1775.7,233.2 1755.4,236 1737.4,247.5" fill="#88ff00" stroke="#000" stroke-width="1.6" stroke-linejoin="round"/>
<polygon points="1452,360.9 1471.8,349.5 1453.8,350.3 1434,361.5" fill="#00ffcd" stroke="#000" stroke-width="1.6" stroke-linejoin="round"/>
<polygon points="1624,298.3 1642.8,286.7 1623.5,288.6 1604.8,300" fill="#00ff13" stroke="#000" stroke-width="1.6" stroke-linejoin="round"/>
<polygon points="1279.9,418.4 1300.7,407.1 1283.9,406.8 1263.2,417.9" fill="#0089ff" stroke="#000" stroke-width="1.6" stroke-linejoin="round"/>
<polygon points="1930,172.8 1947.1,161 1925.5,165 1908.4,176.6" fill="#ff9e00" stroke="#000" stroke-width="1.6" stroke-linejoin="round"/>
<polygon points="1796.2,230.4 1814,218.6 1793.5,221.6 1775.7,233.2" fill="#b8ff00" stroke="#000" stroke-width="1.6" stroke-linejoin="round"/>
<polygon points="1490.1,348.7 1509.7,337.1 1491.4,338.2 1471.8,349.5" fill="#00ffa4" stroke="#000" stroke-width="1.6" stroke-linejoin="round"/>
<polygon points="1317.8,407.3 1338.4,396 1321.3,395.9 1300.7,407.1" fill="#00aeff" stroke="#000" stroke-width="1.6" stroke-linejoin="round"/>
<polygon points="1662.3,284.8 1680.9,273.1 1661.4,275.2 1642.8,286.7" fill="#1aff00" stroke="#000" stroke-width="1.6" stroke-linejoin="round"/>
<polygon points="1834.9,215.5 1852.5,203.6 1831.7,206.9 1814,218.6" fill="#e8ff00" stroke="#000" stroke-width="1.6" stroke-linejoin="round"/>
<polygon points="1528.3,336.1 1547.7,324.5 1529.1,325.7 1509.7,337.1" fill="#00ff7a" stroke="#000" stroke-width="1.6" stroke-linejoin="round"/>
<polygon points="1355.8,396 1376.2,384.6 1358.8,384.8 1338.4,396" fill="#00d4ff" stroke="#000" stroke-width="1.6" stroke-linejoin="round"/>
<polygon points="1700.8,270.9 1719.2,259.1 1699.3,261.5 1680.9,273.1" fill="#47ff00" stroke="#000" stroke-width="1.6" stroke-linejoin="round"/>
<polygon points="1566.6,323.2 1585.8,311.6 1566.9,313 1547.7,324.5" fill="#00ff50" stroke="#000" stroke-width="1.6" stroke-linejoin="round"/>
<polygon points="1393.8,384.4 1414.1,372.9 1396.4,373.3 1376.2,384.6" fill="#00faff" stroke="#000" stroke-width="1.6" stroke-linejoin="round"/>
<polygon points="1873.7,200.3 1891.2,188.4 1870,191.9 1852.5,203.6" fill="#ffe400" stroke="#000" stroke-width="1.6" stroke-linejoin="round"/>
<polygon points="1739.4,256.7 1757.6,244.9 1737.4,247.5 1719.2,259.1" fill="#76ff00" stroke="#000" stroke-width="1.6" stroke-linejoin="round"/>
<polygon points="1432,372.5 1452,360.9 1434,361.5 1414.1,372.9" fill="#00ffdc" stroke="#000" stroke-width="1.6" stroke-linejoin="round"/>
<polygon points="1605,310.1 1624,298.3 1604.8,300 1585.8,311.6" fill="#00ff24" stroke="#000" stroke-width="1.6" stroke-linejoin="round"/>
<polygon points="1912.7,184.8 1930,172.8 1908.4,176.6 1891.2,188.4" fill="#ffb200" stroke="#000" stroke-width="1.6" stroke-linejoin="round"/>
<polygon points="1778.1,242.3 1796.2,230.4 1775.7,233.2 1757.6,244.9" fill="#a5ff00" stroke="#000" stroke-width="1.6" stroke-linejoin="round"/>
<polygon points="1470.3,360.3 1490.1,348.7 1471.8,349.5 1452,360.9" fill="#00ffb4" stroke="#000" stroke-width="1.6" stroke-linejoin="round"/>
<polygon points="1643.5,296.6 1662.3,284.8 1642.8,286.7 1624,298.3" fill="#08ff00" stroke="#000" stroke-width="1.6" stroke-linejoin="round"/>
<polygon points="1296.9,418.8 1317.8,407.3 1300.7,407.1 1279.9,418.4" fill="#00a0ff" stroke="#000" stroke-width="1.6" stroke-linejoin="round"/>
<polygon points="1951.8,168.9 1968.9,156.9 1947.1,161 1930,172.8" fill="#ff7f00" stroke="#000" stroke-width="1.6" stroke-linejoin="round"/>
<polygon points="1817,227.4 1834.9,215.5 1814,218.6 1796.2,230.4" fill="#d5ff00" stroke="#000" stroke-width="1.6" stroke-linejoin="round"/>
<polygon points="1508.6,347.8 1528.3,336.1 1509.7,337.1 1490.1,348.7" fill="#00ff8b" stroke="#000" stroke-width="1.6" stroke-linejoin="round"/>
<polygon points="1335.1,407.6 1355.8,396 1338.4,396 1317.8,407.3" fill="#00c5ff" stroke="#000" stroke-width="1.6" stroke-linejoin="round"/>
<polygon points="1682.2,282.8 1700.8,270.9 1680.9,273.1 1662.3,284.8" fill="#35ff00" stroke="#000" stroke-width="1.6" stroke-linejoin="round"/>
<polygon points="1856,212.3 1873.7,200.3 1852.5,203.6 1834.9,215.5" fill="#fff800" stroke="#000" stroke-width="1.6" stroke-linejoin="round"/>
<polygon points="1547.1,335 1566.6,323.2 1547.7,324.5 1528.3,336.1" fill="#00ff60" stroke="#000" stroke-width="1.6" stroke-linejoin="round"/>
<polygon points="1373.4,396.1 1393.8,384.4 1376.2,384.6 1355.8,396" fill="#00ebff" stroke="#000" stroke-width="1.6" stroke-linejoin="round"/>
<polygon points="1721,268.7 1739.4,256.7 1719.2,259.1 1700.8,270.9" fill="#63ff00" stroke="#000" stroke-width="1.6" stroke-linejoin="round"/>
<polygon points="1411.7,384.2 1432,372.5 1414.1,372.9 1393.8,384.4" fill="#00ffec" stroke="#000" stroke-width="1.6" stroke-linejoin="round"/>
<polygon points="1585.7,321.9 1605,310.1 1585.8,311.6 1566.6,323.2" fill="#00ff36" stroke="#000" stroke-width="1.6" stroke-linejoin="round"/>
<polygon points="1895.2,196.9 1912.7,184.8 1891.2,188.4 1873.7,200.3" fill="#ffc600" stroke="#000" stroke-width="1.6" stroke-linejoin="round"/>
<polygon points="1759.9,254.3 1778.1,242.3 1757.6,244.9 1739.4,256.7" fill="#92ff00" stroke="#000" stroke-width="1.6" stroke-linejoin="round"/>
<polygon points="1450.2,372.1 1470.3,360.3 1452,360.9 1432,372.5" fill="#00ffc4" stroke="#000" stroke-width="1.6" stroke-linejoin="round"/>
<polygon points="1624.5,308.5 1643.5,296.6 1624,298.3 1605,310.1" fill="#00ff0a" stroke="#000" stroke-width="1.6" stroke-linejoin="round"/>
<polygon points="1934.5,181.1 1951.8,168.9 1930,172.8 1912.7,184.8" fill="#ff9300" stroke="#000" stroke-width="1.6" stroke-linejoin="round"/>
<polygon points="1799,239.6 1817,227.4 1796.2,230.4 1778.1,242.3" fill="#c2ff00" stroke="#000" stroke-width="1.6" stroke-linejoin="round"/>
<polygon points="1488.8,359.7 1508.6,347.8 1490.1,348.7 1470.3,360.3" fill="#00ff9b" stroke="#000" stroke-width="1.6" stroke-linejoin="round"/>
<polygon points="1314.2,419.3 1335.1,407.6 1317.8,407.3 1296.9,418.8" fill="#00b7ff" stroke="#000" stroke-width="1.6" stroke-linejoin="round"/>
<polygon points="1663.3,294.8 1682.2,282.8 1662.3,284.8 1643.5,296.6" fill="#23ff00" stroke="#000" stroke-width="1.6" stroke-linejoin="round"/>
<polygon points="1838.2,224.5 1856,212.3 1834.9,215.5 1817,227.4" fill="#f2ff00" stroke="#000" stroke-width="1.6" stroke-linejoin="round"/>
<polygon points="1527.5,347 1547.1,335 1528.3,336.1 1508.6,347.8" fill="#00ff71" stroke="#000" stroke-width="1.6" stroke-linejoin="round"/>
<polygon points="1352.7,407.8 1373.4,396.1 1355.8,396 1335.1,407.6" fill="#00dcff" stroke="#000" stroke-width="1.6" stroke-linejoin="round"/>
<polygon points="1702.3,280.8 1721,268.7 1700.8,270.9 1682.2,282.8" fill="#51ff00" stroke="#000" stroke-width="1.6" stroke-linejoin="round"/>
<polygon points="1566.3,334 1585.7,321.9 1566.6,323.2 1547.1,335" fill="#00ff47" stroke="#000" stroke-width="1.6" stroke-linejoin="round"/>
<polygon points="1391.2,396.1 1411.7,384.2 1393.8,384.4 1373.4,396.1" fill="#00fffb" stroke="#000" stroke-width="1.6" stroke-linejoin="round"/>
<polygon points="1877.5,209.1 1895.2,196.9 1873.7,200.3 1856,212.3" fill="#ffda00" stroke="#000" stroke-width="1.6" stroke-linejoin="round"/>
<polygon points="1741.4,266.5 1759.9,254.3 1739.4,256.7 1721,268.7" fill="#7fff00" stroke="#000" stroke-width="1.6" stroke-linejoin="round"/>
<polygon points="1429.9,384.1 1450.2,372.1 1432,372.5 1411.7,384.2" fill="#00ffd4" stroke="#000" stroke-width="1.6" stroke-linejoin="round"/>
<polygon points="1605.2,320.6 1624.5,308.5 1605,310.1 1585.7,321.9" fill="#00ff1b" stroke="#000" stroke-width="1.6" stroke-linejoin="round"/>
<polygon points="1917,193.4 1934.5,181.1 1912.7,184.8 1895.2,196.9" fill="#ffa800" stroke="#000" stroke-width="1.6" stroke-linejoin="round"/>
<polygon points="1780.7,251.8 1799,239.6 1778.1,242.3 1759.9,254.3" fill="#aeff00" stroke="#000" stroke-width="1.6" stroke-linejoin="round"/>
<polygon points="1468.7,371.7 1488.8,359.7 1470.3,360.3 1450.2,372.1" fill="#00ffab" stroke="#000" stroke-width="1.6" stroke-linejoin="round"/>
<polygon points="1644.3,307 1663.3,294.8 1643.5,296.6 1624.5,308.5" fill="#11ff00" stroke="#000" stroke-width="1.6" stroke-linejoin="round"/>
<polygon points="1820.1,236.8 1838.2,224.5 1817,227.4 1799,239.6" fill="#dfff00" stroke="#000" stroke-width="1.6" stroke-linejoin="round"/>
<polygon points="1507.6,359.1 1527.5,347 1508.6,347.8 1488.8,359.7" fill="#00ff82" stroke="#000" stroke-width="1.6" stroke-linejoin="round"/>
<polygon points="1331.7,419.8 1352.7,407.8 1335.1,407.6 1314.2,419.3" fill="#00cdff" stroke="#000" stroke-width="1.6" stroke-linejoin="round"/>
<polygon points="1683.4,293 1702.3,280.8 1682.2,282.8 1663.3,294.8" fill="#3eff00" stroke="#000" stroke-width="1.6" stroke-linejoin="round"/>
<polygon points="1546.6,346.1 1566.3,334 1547.1,335 1527.5,347" fill="#00ff58" stroke="#000" stroke-width="1.6" stroke-linejoin="round"/>
<polygon points="1859.6,221.5 1877.5,209.1 1856,212.3 1838.2,224.5" fill="#ffee00" stroke="#000" stroke-width="1.6" stroke-linejoin="round"/>
<polygon points="1370.5,408.1 1391.2,396.1 1373.4,396.1 1352.7,407.8" fill="#00f4ff" stroke="#000" stroke-width="1.6" stroke-linejoin="round"/>
<polygon points="1722.8,278.8 1741.4,266.5 1721,268.7 1702.3,280.8" fill="#6cff00" stroke="#000" stroke-width="1.6" stroke-linejoin="round"/>
<polygon points="1409.4,396.1 1429.9,384.1 1411.7,384.2 1391.2,396.1" fill="#00ffe3" stroke="#000" stroke-width="1.6" stroke-linejoin="round"/>
<polygon points="1585.7,332.9 1605.2,320.6 1585.7,321.9 1566.3,334" fill="#00ff2d" stroke="#000" stroke-width="1.6" stroke-linejoin="round"/>
<polygon points="1899.4,205.9 1917,193.4 1895.2,196.9 1877.5,209.1" fill="#ffbc00" stroke="#000" stroke-width="1.6" stroke-linejoin="round"/>
<polygon points="1762.2,264.2 1780.7,251.8 1759.9,254.3 1741.4,266.5" fill="#9bff00" stroke="#000" stroke-width="1.6" stroke-linejoin="round"/>
<polygon points="1448.3,383.9 1468.7,371.7 1450.2,372.1 1429.9,384.1" fill="#00ffbb" stroke="#000" stroke-width="1.6" stroke-linejoin="round"/>
<polygon points="1625,319.3 1644.3,307 1624.5,308.5 1605.2,320.6" fill="#00ff01" stroke="#000" stroke-width="1.6" stroke-linejoin="round"/>
<polygon points="1801.8,249.3 1820.1,236.8 1799,239.6 1780.7,251.8" fill="#cbff00" stroke="#000" stroke-width="1.6" stroke-linejoin="round"/>
<polygon points="1487.4,371.3 1507.6,359.1 1488.8,359.7 1468.7,371.7" fill="#00ff93" stroke="#000" stroke-width="1.6" stroke-linejoin="round"/>
<polygon points="1664.3,305.4 1683.4,293 1663.3,294.8 1644.3,307" fill="#2cff00" stroke="#000" stroke-width="1.6" stroke-linejoin="round"/>
<polygon points="1841.6,234 1859.6,221.5 1838.2,224.5 1820.1,236.8" fill="#fbff00" stroke="#000" stroke-width="1.6" stroke-linejoin="round"/>
<polygon points="1526.6,358.4 1546.6,346.1 1527.5,347 1507.6,359.1" fill="#00ff69" stroke="#000" stroke-width="1.6" stroke-linejoin="round"/>
<polygon points="1349.5,420.2 1370.5,408.1 1352.7,407.8 1331.7,419.8" fill="#00e4ff" stroke="#000" stroke-width="1.6" stroke-linejoin="round"/>
<polygon points="1703.9,291.2 1722.8,278.8 1702.3,280.8 1683.4,293" fill="#59ff00" stroke="#000" stroke-width="1.6" stroke-linejoin="round"/>
<polygon points="1388.6,408.3 1409.4,396.1 1391.2,396.1 1370.5,408.1" fill="#00fff3" stroke="#000" stroke-width="1.6" stroke-linejoin="round"/>
<polygon points="1566,345.2 1585.7,332.9 1566.3,334 1546.6,346.1" fill="#00ff3e" stroke="#000" stroke-width="1.6" stroke-linejoin="round"/>
<polygon points="1881.5,218.4 1899.4,205.9 1877.5,209.1 1859.6,221.5" fill="#ffd100" stroke="#000" stroke-width="1.6" stroke-linejoin="round"/>
<polygon points="1743.5,276.7 1762.2,264.2 1741.4,266.5 1722.8,278.8" fill="#88ff00" stroke="#000" stroke-width="1.6" stroke-linejoin="round"/>
<polygon points="1427.8,396.1 1448.3,383.9 1429.9,384.1 1409.4,396.1" fill="#00ffcc" stroke="#000" stroke-width="1.6" stroke-linejoin="round"/>
<polygon points="1605.4,331.7 1625,319.3 1605.2,320.6 1585.7,332.9" fill="#00ff13" stroke="#000" stroke-width="1.6" stroke-linejoin="round"/>
<polygon points="1783.3,261.8 1801.8,249.3 1780.7,251.8 1762.2,264.2" fill="#b7ff00" stroke="#000" stroke-width="1.6" stroke-linejoin="round"/>
<polygon points="1467.1,383.7 1487.4,371.3 1468.7,371.7 1448.3,383.9" fill="#00ffa3" stroke="#000" stroke-width="1.6" stroke-linejoin="round"/>
<polygon points="1645,317.9 1664.3,305.4 1644.3,307 1625,319.3" fill="#19ff00" stroke="#000" stroke-width="1.6" stroke-linejoin="round"/>
<polygon points="1823.2,246.7 1841.6,234 1820.1,236.8 1801.8,249.3" fill="#e7ff00" stroke="#000" stroke-width="1.6" stroke-linejoin="round"/>
<polygon points="1506.5,370.9 1526.6,358.4 1507.6,359.1 1487.4,371.3" fill="#00ff7a" stroke="#000" stroke-width="1.6" stroke-linejoin="round"/>
<polygon points="1684.7,303.8 1703.9,291.2 1683.4,293 1664.3,305.4" fill="#46ff00" stroke="#000" stroke-width="1.6" stroke-linejoin="round"/>
<polygon points="1546,357.7 1566,345.2 1546.6,346.1 1526.6,358.4" fill="#00ff50" stroke="#000" stroke-width="1.6" stroke-linejoin="round"/>
<polygon points="1367.5,420.7 1388.6,408.3 1370.5,408.1 1349.5,420.2" fill="#00fbff" stroke="#000" stroke-width="1.6" stroke-linejoin="round"/>
<polygon points="1863.3,231.2 1881.5,218.4 1859.6,221.5 1841.6,234" fill="#ffe600" stroke="#000" stroke-width="1.6" stroke-linejoin="round"/>
<polygon points="1724.6,289.3 1743.5,276.7 1722.8,278.8 1703.9,291.2" fill="#74ff00" stroke="#000" stroke-width="1.6" stroke-linejoin="round"/>
<polygon points="1406.9,408.6 1427.8,396.1 1409.4,396.1 1388.6,408.3" fill="#00ffdc" stroke="#000" stroke-width="1.6" stroke-linejoin="round"/>
<polygon points="1585.7,344.3 1605.4,331.7 1585.7,332.9 1566,345.2" fill="#00ff25" stroke="#000" stroke-width="1.6" stroke-linejoin="round"/>
<polygon points="1764.6,274.6 1783.3,261.8 1762.2,264.2 1743.5,276.7" fill="#a3ff00" stroke="#000" stroke-width="1.6" stroke-linejoin="round"/>
<polygon points="1446.4,396.2 1467.1,383.7 1448.3,383.9 1427.8,396.1" fill="#00ffb4" stroke="#000" stroke-width="1.6" stroke-linejoin="round"/>
<polygon points="1625.5,330.6 1645,317.9 1625,319.3 1605.4,331.7" fill="#07ff00" stroke="#000" stroke-width="1.6" stroke-linejoin="round"/>
<polygon points="1804.7,259.5 1823.2,246.7 1801.8,249.3 1783.3,261.8" fill="#d3ff00" stroke="#000" stroke-width="1.6" stroke-linejoin="round"/>
<polygon points="1486.1,383.4 1506.5,370.9 1487.4,371.3 1467.1,383.7" fill="#00ff8b" stroke="#000" stroke-width="1.6" stroke-linejoin="round"/>
<polygon points="1665.4,316.5 1684.7,303.8 1664.3,305.4 1645,317.9" fill="#34ff00" stroke="#000" stroke-width="1.6" stroke-linejoin="round"/>
<polygon points="1845,244 1863.3,231.2 1841.6,234 1823.2,246.7" fill="#fffa00" stroke="#000" stroke-width="1.6" stroke-linejoin="round"/>
<polygon points="1525.8,370.4 1546,357.7 1526.6,358.4 1506.5,370.9" fill="#00ff61" stroke="#000" stroke-width="1.6" stroke-linejoin="round"/>
<polygon points="1705.4,302.2 1724.6,289.3 1703.9,291.2 1684.7,303.8" fill="#61ff00" stroke="#000" stroke-width="1.6" stroke-linejoin="round"/>
<polygon points="1385.8,421.2 1406.9,408.6 1388.6,408.3 1367.5,420.7" fill="#00ffec" stroke="#000" stroke-width="1.6" stroke-linejoin="round"/>
<polygon points="1565.7,357.1 1585.7,344.3 1566,345.2 1546,357.7" fill="#00ff37" stroke="#000" stroke-width="1.6" stroke-linejoin="round"/>
<polygon points="1745.6,287.5 1764.6,274.6 1743.5,276.7 1724.6,289.3" fill="#90ff00" stroke="#000" stroke-width="1.6" stroke-linejoin="round"/>
<polygon points="1425.6,408.8 1446.4,396.2 1427.8,396.1 1406.9,408.6" fill="#00ffc5" stroke="#000" stroke-width="1.6" stroke-linejoin="round"/>
<polygon points="1605.7,343.4 1625.5,330.6 1605.4,331.7 1585.7,344.3" fill="#00ff0b" stroke="#000" stroke-width="1.6" stroke-linejoin="round"/>
<polygon points="1786,272.4 1804.7,259.5 1783.3,261.8 1764.6,274.6" fill="#bfff00" stroke="#000" stroke-width="1.6" stroke-linejoin="round"/>
<polygon points="1465.4,396.2 1486.1,383.4 1467.1,383.7 1446.4,396.2" fill="#00ff9c" stroke="#000" stroke-width="1.6" stroke-linejoin="round"/>
<polygon points="1645.8,329.4 1665.4,316.5 1645,317.9 1625.5,330.6" fill="#21ff00" stroke="#000" stroke-width="1.6" stroke-linejoin="round"/>
<polygon points="1826.5,257.1 1845,244 1823.2,246.7 1804.7,259.5" fill="#efff00" stroke="#000" stroke-width="1.6" stroke-linejoin="round"/>
<polygon points="1505.3,383.2 1525.8,370.4 1506.5,370.9 1486.1,383.4" fill="#00ff73" stroke="#000" stroke-width="1.6" stroke-linejoin="round"/>
<polygon points="1686,315.1 1705.4,302.2 1684.7,303.8 1665.4,316.5" fill="#4eff00" stroke="#000" stroke-width="1.6" stroke-linejoin="round"/>
<polygon points="1545.4,370 1565.7,357.1 1546,357.7 1525.8,370.4" fill="#00ff49" stroke="#000" stroke-width="1.6" stroke-linejoin="round"/>
<polygon points="1726.5,300.5 1745.6,287.5 1724.6,289.3 1705.4,302.2" fill="#7cff00" stroke="#000" stroke-width="1.6" stroke-linejoin="round"/>
<polygon points="1404.4,421.6 1425.6,408.8 1406.9,408.6 1385.8,421.2" fill="#00ffd5" stroke="#000" stroke-width="1.6" stroke-linejoin="round"/>
<polygon points="1585.6,356.4 1605.7,343.4 1585.7,344.3 1565.7,357.1" fill="#00ff1e" stroke="#000" stroke-width="1.6" stroke-linejoin="round"/>
<polygon points="1767,285.5 1786,272.4 1764.6,274.6 1745.6,287.5" fill="#abff00" stroke="#000" stroke-width="1.6" stroke-linejoin="round"/>
<polygon points="1444.5,409.1 1465.4,396.2 1446.4,396.2 1425.6,408.8" fill="#00ffad" stroke="#000" stroke-width="1.6" stroke-linejoin="round"/>
<polygon points="1626,342.5 1645.8,329.4 1625.5,330.6 1605.7,343.4" fill="#0eff00" stroke="#000" stroke-width="1.6" stroke-linejoin="round"/>
<polygon points="1807.7,270.2 1826.5,257.1 1804.7,259.5 1786,272.4" fill="#dbff00" stroke="#000" stroke-width="1.6" stroke-linejoin="round"/>
<polygon points="1484.6,396.2 1505.3,383.2 1486.1,383.4 1465.4,396.2" fill="#00ff84" stroke="#000" stroke-width="1.6" stroke-linejoin="round"/>
<polygon points="1666.4,328.2 1686,315.1 1665.4,316.5 1645.8,329.4" fill="#3bff00" stroke="#000" stroke-width="1.6" stroke-linejoin="round"/>
<polygon points="1524.9,383 1545.4,370 1525.8,370.4 1505.3,383.2" fill="#00ff5b" stroke="#000" stroke-width="1.6" stroke-linejoin="round"/>
<polygon points="1707,313.7 1726.5,300.5 1705.4,302.2 1686,315.1" fill="#68ff00" stroke="#000" stroke-width="1.6" stroke-linejoin="round"/>
<polygon points="1565.3,369.5 1585.6,356.4 1565.7,357.1 1545.4,370" fill="#00ff30" stroke="#000" stroke-width="1.6" stroke-linejoin="round"/>
<polygon points="1747.8,298.8 1767,285.5 1745.6,287.5 1726.5,300.5" fill="#97ff00" stroke="#000" stroke-width="1.6" stroke-linejoin="round"/>
<polygon points="1423.3,422.1 1444.5,409.1 1425.6,408.8 1404.4,421.6" fill="#00ffbe" stroke="#000" stroke-width="1.6" stroke-linejoin="round"/>
<polygon points="1605.9,355.7 1626,342.5 1605.7,343.4 1585.6,356.4" fill="#00ff05" stroke="#000" stroke-width="1.6" stroke-linejoin="round"/>
<polygon points="1788.7,283.6 1807.7,270.2 1786,272.4 1767,285.5" fill="#c6ff00" stroke="#000" stroke-width="1.6" stroke-linejoin="round"/>
<polygon points="1463.7,409.3 1484.6,396.2 1465.4,396.2 1444.5,409.1" fill="#00ff96" stroke="#000" stroke-width="1.6" stroke-linejoin="round"/>
<polygon points="1646.6,341.5 1666.4,328.2 1645.8,329.4 1626,342.5" fill="#27ff00" stroke="#000" stroke-width="1.6" stroke-linejoin="round"/>
<polygon points="1504.2,396.2 1524.9,383 1505.3,383.2 1484.6,396.2" fill="#00ff6d" stroke="#000" stroke-width="1.6" stroke-linejoin="round"/>
<polygon points="1687.4,327 1707,313.7 1686,315.1 1666.4,328.2" fill="#55ff00" stroke="#000" stroke-width="1.6" stroke-linejoin="round"/>
<polygon points="1544.8,382.8 1565.3,369.5 1545.4,370 1524.9,383" fill="#00ff43" stroke="#000" stroke-width="1.6" stroke-linejoin="round"/>
<polygon points="1728.4,312.2 1747.8,298.8 1726.5,300.5 1707,313.7" fill="#83ff00" stroke="#000" stroke-width="1.6" stroke-linejoin="round"/>
<polygon points="1585.6,369 1605.9,355.7 1585.6,356.4 1565.3,369.5" fill="#00ff18" stroke="#000" stroke-width="1.6" stroke-linejoin="round"/>
<polygon points="1769.5,297.1 1788.7,283.6 1767,285.5 1747.8,298.8" fill="#b2ff00" stroke="#000" stroke-width="1.6" stroke-linejoin="round"/>
<polygon points="1442.5,422.6 1463.7,409.3 1444.5,409.1 1423.3,422.1" fill="#00ffa7" stroke="#000" stroke-width="1.6" stroke-linejoin="round"/>
<polygon points="1626.5,354.9 1646.6,341.5 1626,342.5 1605.9,355.7" fill="#14ff00" stroke="#000" stroke-width="1.6" stroke-linejoin="round"/>
<polygon points="1483.2,409.6 1504.2,396.2 1484.6,396.2 1463.7,409.3" fill="#00ff7f" stroke="#000" stroke-width="1.6" stroke-linejoin="round"/>
<polygon points="1667.5,340.5 1687.4,327 1666.4,328.2 1646.6,341.5" fill="#41ff00" stroke="#000" stroke-width="1.6" stroke-linejoin="round"/>
<polygon points="1524,396.2 1544.8,382.8 1524.9,383 1504.2,396.2" fill="#00ff55" stroke="#000" stroke-width="1.6" stroke-linejoin="round"/>
<polygon points="1708.7,325.8 1728.4,312.2 1707,313.7 1687.4,327" fill="#6fff00" stroke="#000" stroke-width="1.6" stroke-linejoin="round"/>
<polygon points="1565,382.5 1585.6,369 1565.3,369.5 1544.8,382.8" fill="#00ff2a" stroke="#000" stroke-width="1.6" stroke-linejoin="round"/>
<polygon points="1750,310.7 1769.5,297.1 1747.8,298.8 1728.4,312.2" fill="#9dff00" stroke="#000" stroke-width="1.6" stroke-linejoin="round"/>
<polygon points="1606.1,368.5 1626.5,354.9 1605.9,355.7 1585.6,369" fill="#01ff00" stroke="#000" stroke-width="1.6" stroke-linejoin="round"/>
<polygon points="1461.9,423.1 1483.2,409.6 1463.7,409.3 1442.5,422.6" fill="#00ff90" stroke="#000" stroke-width="1.6" stroke-linejoin="round"/>
<polygon points="1647.4,354.2 1667.5,340.5 1646.6,341.5 1626.5,354.9" fill="#2dff00" stroke="#000" stroke-width="1.6" stroke-linejoin="round"/>
<polygon points="1503,409.8 1524,396.2 1504.2,396.2 1483.2,409.6" fill="#00ff67" stroke="#000" stroke-width="1.6" stroke-linejoin="round"/>
<polygon points="1688.8,339.5 1708.7,325.8 1687.4,327 1667.5,340.5" fill="#5bff00" stroke="#000" stroke-width="1.6" stroke-linejoin="round"/>
<polygon points="1544.2,396.2 1565,382.5 1544.8,382.8 1524,396.2" fill="#00ff3d" stroke="#000" stroke-width="1.6" stroke-linejoin="round"/>
<polygon points="1730.3,324.5 1750,310.7 1728.4,312.2 1708.7,325.8" fill="#89ff00" stroke="#000" stroke-width="1.6" stroke-linejoin="round"/>
<polygon points="1585.5,382.3 1606.1,368.5 1585.6,369 1565,382.5" fill="#00ff12" stroke="#000" stroke-width="1.6" stroke-linejoin="round"/>
<polygon points="1627,368 1647.4,354.2 1626.5,354.9 1606.1,368.5" fill="#1aff00" stroke="#000" stroke-width="1.6" stroke-linejoin="round"/>
<polygon points="1481.7,423.6 1503,409.8 1483.2,409.6 1461.9,423.1" fill="#00ff7a" stroke="#000" stroke-width="1.6" stroke-linejoin="round"/>
<polygon points="1668.6,353.4 1688.8,339.5 1667.5,340.5 1647.4,354.2" fill="#46ff00" stroke="#000" stroke-width="1.6" stroke-linejoin="round"/>
<polygon points="1523.1,410 1544.2,396.2 1524,396.2 1503,409.8" fill="#00ff50" stroke="#000" stroke-width="1.6" stroke-linejoin="round"/>
<polygon points="1710.4,338.5 1730.3,324.5 1708.7,325.8 1688.8,339.5" fill="#74ff00" stroke="#000" stroke-width="1.6" stroke-linejoin="round"/>
<polygon points="1564.7,396.2 1585.5,382.3 1565,382.5 1544.2,396.2" fill="#00ff25" stroke="#000" stroke-width="1.6" stroke-linejoin="round"/>
<polygon points="1606.4,382 1627,368 1606.1,368.5 1585.5,382.3" fill="#06ff00" stroke="#000" stroke-width="1.6" stroke-linejoin="round"/>
<polygon points="1648.2,367.5 1668.6,353.4 1647.4,354.2 1627,368" fill="#32ff00" stroke="#000" stroke-width="1.6" stroke-linejoin="round"/>
<polygon points="1501.8,424 1523.1,410 1503,409.8 1481.7,423.6" fill="#00ff63" stroke="#000" stroke-width="1.6" stroke-linejoin="round"/>
<polygon points="1690.2,352.6 1710.4,338.5 1688.8,339.5 1668.6,353.4" fill="#60ff00" stroke="#000" stroke-width="1.6" stroke-linejoin="round"/>
<polygon points="1543.6,410.3 1564.7,396.2 1544.2,396.2 1523.1,410" fill="#00ff38" stroke="#000" stroke-width="1.6" stroke-linejoin="round"/>
<polygon points="1585.5,396.2 1606.4,382 1585.5,382.3 1564.7,396.2" fill="#00ff0d" stroke="#000" stroke-width="1.6" stroke-linejoin="round"/>
<polygon points="1627.6,381.7 1648.2,367.5 1627,368 1606.4,382" fill="#1eff00" stroke="#000" stroke-width="1.6" stroke-linejoin="round"/>
<polygon points="1669.8,366.9 1690.2,352.6 1668.6,353.4 1648.2,367.5" fill="#4bff00" stroke="#000" stroke-width="1.6" stroke-linejoin="round"/>
<polygon points="1522.2,424.5 1543.6,410.3 1523.1,410 1501.8,424" fill="#00ff4c" stroke="#000" stroke-width="1.6" stroke-linejoin="round"/>
<polygon points="1564.3,410.5 1585.5,396.2 1564.7,396.2 1543.6,410.3" fill="#00ff21" stroke="#000" stroke-width="1.6" stroke-linejoin="round"/>
<polygon points="1606.6,396.1 1627.6,381.7 1606.4,382 1585.5,396.2" fill="#0aff00" stroke="#000" stroke-width="1.6" stroke-linejoin="round"/>
<polygon points="1649.1,381.4 1669.8,366.9 1648.2,367.5 1627.6,381.7" fill="#37ff00" stroke="#000" stroke-width="1.6" stroke-linejoin="round"/>
<polygon points="1542.9,425 1564.3,410.5 1543.6,410.3 1522.2,424.5" fill="#00ff35" stroke="#000" stroke-width="1.6" stroke-linejoin="round"/>
<polygon points="1585.5,410.7 1606.6,396.1 1585.5,396.2 1564.3,410.5" fill="#00ff0a" stroke="#000" stroke-width="1.6" stroke-linejoin="round"/>
<polygon points="1628.1,396.1 1649.1,381.4 1627.6,381.7 1606.6,396.1" fill="#22ff00" stroke="#000" stroke-width="1.6" stroke-linejoin="round"/>
<polygon points="1564,425.5 1585.5,410.7 1564.3,410.5 1542.9,425" fill="#00ff1e" stroke="#000" stroke-width="1.6" stroke-linejoin="round"/>
<polygon points="1606.9,411 1628.1,396.1 1606.6,396.1 1585.5,410.7" fill="#0eff00" stroke="#000" stroke-width="1.6" stroke-linejoin="round"/>
<polygon points="1585.4,426 1606.9,411 1585.5,410.7 1564,425.5" fill="#00ff07" stroke="#000" stroke-width="1.6" stroke-linejoin="round"/>
<line x1="1410.2" y1="305.3" x2="1410.4" y2="316.9" stroke="#000" stroke-width="1.6"/>
<circle cx="1410.2" cy="305.3" r="6.6" fill="#b30000" stroke="#000" stroke-width="1.6"/>
<line x1="1385.7" y1="414.8" x2="1385.8" y2="421.2" stroke="#000" stroke-width="1.6"/>
<circle cx="1385.7" cy="414.8" r="6.6" fill="#b30000" stroke="#000" stroke-width="1.6"/>
<line x1="1586.1" y1="215.3" x2="1586.1" y2="227.3" stroke="#000" stroke-width="1.6"/>
<circle cx="1586.1" cy="215.3" r="6.6" fill="#b30000" stroke="#000" stroke-width="1.6"/>
<line x1="1385.3" y1="400.2" x2="1385.8" y2="421.2" stroke="#000" stroke-width="1.6"/>
<circle cx="1385.3" cy="400.2" r="6.6" fill="#b30000" stroke="#000" stroke-width="1.6"/>
<line x1="1385" y1="385.7" x2="1385.8" y2="421.2" stroke="#000" stroke-width="1.6"/>
<circle cx="1385" cy="385.7" r="6.6" fill="#b30000" stroke="#000" stroke-width="1.6"/>
<line x1="1585.8" y1="293.3" x2="1585.8" y2="301.7" stroke="#000" stroke-width="1.6"/>
<circle cx="1585.8" cy="293.3" r="6.6" fill="#b30000" stroke="#000" stroke-width="1.6"/>
<line x1="1585.4" y1="404.7" x2="1585.4" y2="426" stroke="#000" stroke-width="1.6"/>
<circle cx="1585.4" cy="404.7" r="6.6" fill="#b30000" stroke="#000" stroke-width="1.6"/>
<line x1="1764.2" y1="188.1" x2="1764.1" y2="194.8" stroke="#000" stroke-width="1.6"/>
<circle cx="1764.2" cy="188.1" r="6.6" fill="#b30000" stroke="#000" stroke-width="1.6"/>
<line x1="1764.6" y1="173" x2="1764.1" y2="194.8" stroke="#000" stroke-width="1.6"/>
<circle cx="1764.6" cy="173" r="6.6" fill="#b30000" stroke="#000" stroke-width="1.6"/>
<line x1="1788.8" y1="282.2" x2="1788.7" y2="283.6" stroke="#000" stroke-width="1.6"/>
<circle cx="1788.8" cy="282.2" r="6.6" fill="#b30000" stroke="#000" stroke-width="1.6"/>
<line x1="1969.3" y1="148.2" x2="1968.9" y2="156.9" stroke="#000" stroke-width="1.6"/>
<circle cx="1969.3" cy="148.2" r="6.6" fill="#b30000" stroke="#000" stroke-width="1.6"/>
<line x1="1970.4" y1="125.7" x2="1968.9" y2="156.9" stroke="#000" stroke-width="1.6"/>
<circle cx="1970.4" cy="125.7" r="6.6" fill="#b30000" stroke="#000" stroke-width="1.6"/>
<text x="1207.2" y="490.3" font-size="21.5" text-anchor="end">0</text>
<text x="1202.6" y="390.6" font-size="21.5" text-anchor="end">5</text>
<text x="1198" y="290.8" font-size="21.5" text-anchor="end">10</text>
<text x="1193.5" y="191.1" font-size="21.5" text-anchor="end">15</text>
<text x="1188.9" y="91.3" font-size="21.5" text-anchor="end">20</text>
<text x="1213.2" y="637.3" font-size="21.5" text-anchor="end">300</text>
<text x="1595.8" y="820.1" font-size="21.5" text-anchor="start">2</text>
<text x="1303.6" y="683" font-size="21.5" text-anchor="end">250</text>
<text x="1686.3" y="774.3" font-size="21.5" text-anchor="start">3</text>
<text x="1394" y="728.8" font-size="21.5" text-anchor="end">200</text>
<text x="1776.8" y="728.5" font-size="21.5" text-anchor="start">4</text>
<text x="1484.5" y="774.5" font-size="21.5" text-anchor="end">150</text>
<text x="1867.3" y="682.7" font-size="21.5" text-anchor="start">5</text>
<text x="1574.9" y="820.3" font-size="21.5" text-anchor="end">100</text>
<text x="1957.8" y="636.9" font-size="21.5" text-anchor="start">6</text>
<text x="1136" y="784.8" font-size="25.3" text-anchor="start">B: Microwave power (W)</text>
<text x="1808.7" y="784.9" font-size="25.3" text-anchor="start">A: Thickness (mm)</text>
<text x="0" y="0" font-size="29.1" text-anchor="middle" transform="translate(1087.8 369.2) rotate(-90)">SEC (MJ/kg)</text>
<line x1="662.1" y1="1567.2" x2="1080.5" y2="1427.2" stroke="#000" stroke-width="1.5"/>
<line x1="1080.5" y1="1427.2" x2="1496.9" y2="1567.8" stroke="#000" stroke-width="1.5"/>
<line x1="659.5" y1="1513.6" x2="1080.5" y2="1378.7" stroke="#000" stroke-width="1.5"/>
<line x1="1080.5" y1="1378.7" x2="1499.6" y2="1514.2" stroke="#000" stroke-width="1.5"/>
<line x1="656.9" y1="1459.9" x2="1080.5" y2="1330.3" stroke="#000" stroke-width="1.5"/>
<line x1="1080.5" y1="1330.3" x2="1502.3" y2="1460.6" stroke="#000" stroke-width="1.5"/>
<line x1="654.4" y1="1406.3" x2="1080.4" y2="1281.9" stroke="#000" stroke-width="1.5"/>
<line x1="1080.4" y1="1281.9" x2="1504.9" y2="1406.9" stroke="#000" stroke-width="1.5"/>
<line x1="651.8" y1="1352.7" x2="1080.4" y2="1233.5" stroke="#000" stroke-width="1.5"/>
<line x1="1080.4" y1="1233.5" x2="1507.6" y2="1353.3" stroke="#000" stroke-width="1.5"/>
<line x1="649.2" y1="1299" x2="1080.4" y2="1185.1" stroke="#000" stroke-width="1.5"/>
<line x1="1080.4" y1="1185.1" x2="1510.2" y2="1299.7" stroke="#000" stroke-width="1.5"/>
<line x1="646.6" y1="1245.4" x2="1080.4" y2="1136.6" stroke="#000" stroke-width="1.5"/>
<line x1="1080.4" y1="1136.6" x2="1512.9" y2="1246.1" stroke="#000" stroke-width="1.5"/>
<line x1="644" y1="1191.7" x2="1080.4" y2="1088.2" stroke="#000" stroke-width="1.5"/>
<line x1="1080.4" y1="1088.2" x2="1515.5" y2="1192.5" stroke="#000" stroke-width="1.5"/>
<line x1="766.7" y1="1532.2" x2="751.1" y2="1113.5" stroke="#000" stroke-width="1.5"/>
<line x1="1184.6" y1="1462.3" x2="1189.9" y2="1064.6" stroke="#000" stroke-width="1.5"/>
<line x1="871.3" y1="1497.2" x2="860.9" y2="1088.9" stroke="#000" stroke-width="1.5"/>
<line x1="1288.7" y1="1497.5" x2="1299.3" y2="1089.3" stroke="#000" stroke-width="1.5"/>
<line x1="975.9" y1="1462.2" x2="970.7" y2="1064.4" stroke="#000" stroke-width="1.5"/>
<line x1="1392.8" y1="1532.6" x2="1408.8" y2="1114.1" stroke="#000" stroke-width="1.5"/>
<line x1="668.6" y1="1701.3" x2="641.4" y2="1138.1" stroke="#000" stroke-width="1.6"/>
<line x1="1080.5" y1="1548.2" x2="1080.4" y2="1039.8" stroke="#000" stroke-width="1.6"/>
<line x1="1490.3" y1="1701.8" x2="1518.2" y2="1138.9" stroke="#000" stroke-width="1.6"/>
<polyline points="641.4,1138.1 1080.4,1039.8 1518.2,1138.9" fill="none" stroke="#000" stroke-width="2.1" stroke-linejoin="miter"/>
<polygon points="668.6,1701.3 1079.2,1898.9 1490.3,1701.8 1080.5,1548.2" fill="#ffff00" stroke="#000" stroke-width="1.6" stroke-linejoin="round"/>
<polyline points="751.8,1670.7 749.5,1672.8 746.3,1676 745.4,1676.8 743,1679.1 739.8,1682.3 739.2,1683 736.6,1685.5 733.5,1688.8 733.2,1689 730.3,1692.1 727.4,1695.1 727.2,1695.4 724,1698.7 721.8,1701.1 720.9,1702.1 717.8,1705.5 716.4,1707 714.8,1708.9 711.7,1712.4 711.2,1713 708.7,1715.9 706.1,1718.9 705.7,1719.4" fill="none" stroke="#0042ff" stroke-width="1.6"/>
<polyline points="1002.1,1577.1 1001.1,1577.9 998.1,1580.4 995.1,1582.9 994.5,1583.4 992.1,1585.5 989.1,1588 987.1,1589.8 986.1,1590.6 983.2,1593.2 980.2,1595.8 980,1596 977.2,1598.5 974.3,1601.1 973,1602.3 971.3,1603.8 968.4,1606.5 966.2,1608.5 965.4,1609.2 962.5,1611.9 959.6,1614.6 959.6,1614.6 956.7,1617.4 953.8,1620.2 953.2,1620.7 950.9,1623 948,1625.8 947,1626.8 945.1,1628.7 942.3,1631.6 941,1632.9 939.4,1634.4 936.6,1637.4 935.1,1638.9 933.7,1640.3 930.9,1643.3 929.4,1644.9 928.1,1646.2 925.3,1649.3 923.9,1650.8 922.6,1652.3 919.8,1655.3 918.6,1656.7 917,1658.4 914.3,1661.5 913.4,1662.6 911.6,1664.7 908.9,1667.8 908.3,1668.5 906.2,1671 903.5,1674.2 903.5,1674.3 900.9,1677.5 898.7,1680.1 898.2,1680.7 895.6,1684 894.2,1685.9 893,1687.4 890.4,1690.7 889.7,1691.7 887.9,1694.1 885.5,1697.4 885.3,1697.5 882.8,1701 881.3,1703.1 880.3,1704.5 877.9,1708 877.3,1708.8 875.4,1711.6 873.5,1714.4 873,1715.1 870.6,1718.8 869.7,1720.1 868.2,1722.4 866.1,1725.7 865.9,1726.1 863.6,1729.8 862.7,1731.3 861.3,1733.6 859.3,1736.9 859,1737.4 856.8,1741.3 856.1,1742.5 854.6,1745.2 853,1748 852.4,1749.1 850.3,1753.1 850,1753.5 848.2,1757.1 847.2,1759.1 846.1,1761.2 844.5,1764.6 844.1,1765.3 842.1,1769.4 841.8,1770.1 840.2,1773.6 839.3,1775.5 838.3,1777.9 836.9,1781 836.4,1782.2" fill="none" stroke="#00deff" stroke-width="1.6"/>
<polyline points="1133.6,1567.9 1131,1570.4 1130.3,1571 1128.4,1572.9 1125.8,1575.5 1124.1,1577 1123.2,1578 1120.6,1580.6 1118.2,1583 1118,1583.2 1115.4,1585.8 1112.8,1588.4 1112.3,1589 1110.3,1591.1 1107.7,1593.8 1106.7,1594.9 1105.2,1596.5 1102.7,1599.2 1101.2,1600.8 1100.1,1601.9 1097.6,1604.6 1095.8,1606.6 1095.1,1607.4 1092.6,1610.2 1090.6,1612.4 1090.2,1613 1087.7,1615.8 1085.6,1618.3 1085.2,1618.7 1082.8,1621.5 1080.7,1624 1080.4,1624.4 1077.9,1627.3 1075.9,1629.8 1075.5,1630.3 1073.2,1633.2 1071.3,1635.5 1070.8,1636.2 1068.4,1639.2 1066.8,1641.3 1066.1,1642.2 1063.7,1645.3 1062.5,1646.9 1061.4,1648.3 1059.1,1651.4 1058.2,1652.6 1056.8,1654.6 1054.6,1657.7 1054.2,1658.3 1052.3,1660.9 1050.2,1663.9 1050.1,1664.1 1047.9,1667.3 1046.4,1669.5 1045.7,1670.6 1043.5,1673.9 1042.7,1675.1 1041.3,1677.2 1039.2,1680.5 1039.1,1680.7 1037.1,1683.9 1035.6,1686.3 1035,1687.3 1032.9,1690.7 1032.3,1691.8 1030.9,1694.2 1029,1697.4 1028.9,1697.7 1026.9,1701.2 1025.9,1702.9 1024.9,1704.8 1023,1708.3 1022.9,1708.4 1021.1,1712 1020.1,1713.9 1019.2,1715.6 1017.3,1719.3 1017.3,1719.4 1015.5,1723.1 1014.6,1724.8 1013.7,1726.8 1012.1,1730.3 1011.9,1730.6 1010.2,1734.5 1009.6,1735.7 1008.5,1738.4 1007.3,1741.2 1006.8,1742.3 1005.2,1746.3 1005,1746.6 1003.6,1750.3 1002.9,1752 1002,1754.3 1000.8,1757.4 1000.5,1758.4 999,1762.6 998.9,1762.8 997.5,1766.7 997.1,1768.2 996.1,1771 995.3,1773.6 994.8,1775.2 993.6,1779 993.5,1779.6 992.2,1783.9 992.1,1784.3 991,1788.4 990.6,1789.7 989.8,1792.8 989.2,1795 988.7,1797.4 988,1800.4 987.6,1802 986.8,1805.7 986.6,1806.6 985.7,1811.1 985.6,1811.3 984.7,1816 984.6,1816.4 983.8,1820.9 983.7,1821.7 983,1825.7 982.8,1827.1 982.3,1830.7 982.1,1832.4 981.6,1835.7 981.4,1837.7 981,1840.7 980.8,1843 980.5,1845.9 980.3,1848.3 980,1851.1" fill="none" stroke="#00ff84" stroke-width="1.6"/>
<polyline points="1131,1873.8 1131,1873.8 1130.6,1868.5 1130.6,1868.3 1130.3,1863.2 1130.3,1862.8 1130.1,1857.9 1130,1857.5 1129.9,1852.6 1129.9,1852.2 1129.8,1847.3 1129.8,1846.9 1129.8,1842 1129.8,1841.8 1129.8,1836.7 1129.8,1836.7 1130,1831.6 1130,1831.4 1130.2,1826.7 1130.2,1826.1 1130.4,1821.8 1130.5,1820.9 1130.7,1816.9 1130.8,1815.6 1131.1,1812.1 1131.3,1810.3 1131.6,1807.4 1131.8,1805 1132,1802.7 1132.4,1799.7 1132.6,1798.1 1133.1,1794.4 1133.2,1793.5 1133.8,1789.1 1133.8,1789 1134.5,1784.5 1134.7,1783.8 1135.3,1780.1 1135.6,1778.5 1136.1,1775.7 1136.6,1773.2 1136.9,1771.4 1137.7,1767.9 1137.8,1767.1 1138.8,1762.9 1138.8,1762.6 1139.8,1758.7 1140.1,1757.2 1140.8,1754.5 1141.4,1751.9 1141.8,1750.4 1142.9,1746.6 1142.9,1746.4 1144.1,1742.3 1144.4,1741.3 1145.3,1738.4 1146,1735.9 1146.5,1734.4 1147.7,1730.6 1147.7,1730.5 1149,1726.7 1149.5,1725.2 1150.3,1722.8 1151.4,1719.9 1151.7,1719.1 1153.1,1715.3 1153.3,1714.5 1154.5,1711.6 1155.4,1709.2 1155.9,1707.9 1157.4,1704.3 1157.6,1703.8 1158.9,1700.7 1159.9,1698.4 1160.4,1697.1 1162,1693.5 1162.2,1693 1163.6,1690 1164.7,1687.6 1165.2,1686.5 1166.8,1683.1 1167.2,1682.2 1168.5,1679.7 1169.9,1676.8 1170.2,1676.3 1171.9,1672.9 1172.7,1671.3 1173.6,1669.6 1175.4,1666.3 1175.6,1665.9 1177.1,1663 1178.5,1660.4 1178.9,1659.7 1180.8,1656.5 1181.6,1655 1182.6,1653.3 1184.4,1650.1 1184.8,1649.5 1186.3,1647 1188.1,1644 1188.2,1643.9 1190.1,1640.8 1191.6,1638.5 1192.1,1637.7 1194,1634.7 1195.1,1633 1196,1631.6 1198,1628.6 1198.7,1627.5 1200,1625.7 1202,1622.7 1202.5,1621.9 1204,1619.8 1206,1616.9 1206.4,1616.3 1208.1,1614 1210.2,1611.1 1210.4,1610.8 1212.2,1608.2 1214.3,1605.4 1214.5,1605.2 1216.5,1602.6 1218.6,1599.8" fill="none" stroke="#18ff00" stroke-width="1.6"/>
<polyline points="1265.6,1809.5 1265.6,1808.1 1265.6,1804.3 1265.6,1803.4 1265.6,1799 1265.6,1798.7 1265.8,1794.1 1265.8,1793.7 1265.9,1789.6 1266,1788.5 1266.1,1785 1266.3,1783.2 1266.4,1780.6 1266.6,1778 1266.8,1776.2 1267,1772.7 1267.1,1771.8 1267.6,1767.5 1267.6,1767.5 1268,1763.2 1268.1,1762.2 1268.5,1759 1268.8,1757 1269.1,1754.8 1269.5,1751.7 1269.7,1750.7 1270.4,1746.6 1270.4,1746.5 1271,1742.5 1271.3,1741.2 1271.8,1738.5 1272.2,1735.9 1272.5,1734.5 1273.3,1730.7 1273.3,1730.6 1274.2,1726.6 1274.5,1725.4 1275.1,1722.8 1275.7,1720.2 1276,1719 1276.9,1715.2 1277,1714.9 1277.9,1711.4 1278.4,1709.6 1278.9,1707.7 1279.9,1704.3 1280,1704 1281,1700.3 1281.4,1699.1 1282.1,1696.7 1283.1,1693.8 1283.3,1693.1 1284.4,1689.6 1284.8,1688.5 1285.6,1686 1286.6,1683.2 1286.9,1682.5 1288.1,1679.1 1288.6,1677.9 1289.4,1675.6 1290.6,1672.6 1290.7,1672.2 1292,1668.9 1292.7,1667.3 1293.4,1665.5 1294.7,1662.2 1294.9,1661.9 1296.1,1658.9 1297.1,1656.6 1297.6,1655.6 1299,1652.4 1299.5,1651.3 1300.5,1649.2 1302,1646 1302,1645.9 1303.5,1642.8 1304.6,1640.6 1305,1639.7 1306.5,1636.6 1307.2,1635.2 1308.1,1633.5" fill="none" stroke="#b4ff00" stroke-width="1.6"/>
<polyline points="1389.3,1750.4 1389.4,1747.6 1389.6,1745.2 1389.7,1743.5 1389.9,1740 1390,1739.5 1390.3,1735.4 1390.4,1734.8 1390.7,1731.5 1390.9,1729.6 1391.1,1727.5 1391.5,1724.4 1391.6,1723.6 1392.1,1719.7 1392.2,1719.2 1392.6,1715.9 1392.9,1714 1393.2,1712.1 1393.7,1708.8 1393.8,1708.3 1394.4,1704.6 1394.6,1703.6 1395.1,1700.9 1395.6,1698.4 1395.8,1697.2 1396.6,1693.6 1396.6,1693.2 1397.3,1690 1397.8,1688 1398.1,1686.4 1399,1682.9 1399,1682.8 1399.8,1679.4 1400.3,1677.6 1400.7,1675.9 1401.6,1672.5 1401.7,1672.4 1402.6,1669" fill="none" stroke="#ffae00" stroke-width="1.6"/>
<polygon points="668.6,1701.3 1079.2,1898.9 1490.3,1701.8 1080.5,1548.2" fill="none" stroke="#000" stroke-width="1.6" stroke-linejoin="round"/>
<circle cx="662.1" cy="1567.2" r="3" fill="#000"/>
<circle cx="659.5" cy="1513.6" r="3" fill="#000"/>
<circle cx="656.9" cy="1459.9" r="3" fill="#000"/>
<circle cx="654.4" cy="1406.3" r="3" fill="#000"/>
<circle cx="651.8" cy="1352.7" r="3" fill="#000"/>
<circle cx="649.2" cy="1299" r="3" fill="#000"/>
<circle cx="646.6" cy="1245.4" r="3" fill="#000"/>
<circle cx="644" cy="1191.7" r="3" fill="#000"/>
<circle cx="641.4" cy="1138.1" r="3" fill="#000"/>
<circle cx="668.6" cy="1701.3" r="3" fill="#000"/>
<circle cx="1079.2" cy="1898.9" r="3" fill="#000"/>
<circle cx="771.2" cy="1750.7" r="3" fill="#000"/>
<circle cx="1182" cy="1849.6" r="3" fill="#000"/>
<circle cx="873.9" cy="1800.1" r="3" fill="#000"/>
<circle cx="1284.8" cy="1800.3" r="3" fill="#000"/>
<circle cx="976.6" cy="1849.5" r="3" fill="#000"/>
<circle cx="1387.5" cy="1751.1" r="3" fill="#000"/>
<circle cx="1079.2" cy="1898.9" r="3" fill="#000"/>
<circle cx="1490.3" cy="1701.8" r="3" fill="#000"/>
<line x1="1309.1" y1="1380.9" x2="1309.7" y2="1359.7" stroke="#000" stroke-width="1.6"/>
<circle cx="1309.1" cy="1380.9" r="8.0" fill="#d98080" stroke="#000" stroke-width="1.7"/>
<line x1="881.8" y1="1417.6" x2="881.9" y2="1418.8" stroke="#000" stroke-width="1.6"/>
<circle cx="881.8" cy="1417.6" r="8.0" fill="#d98080" stroke="#000" stroke-width="1.7"/>
<line x1="660.8" y1="1538.2" x2="660.5" y2="1532" stroke="#000" stroke-width="1.6"/>
<circle cx="660.8" cy="1538.2" r="8.0" fill="#d98080" stroke="#000" stroke-width="1.7"/>
<polygon points="1080.4,1321.7 1099.3,1311.7 1080.4,1316.8 1061.5,1326.5" fill="#00ffdf" stroke="#000" stroke-width="1.8" stroke-linejoin="round"/>
<polygon points="1061.2,1331.8 1080.4,1321.7 1061.5,1326.5 1042.3,1336.4" fill="#00ffec" stroke="#000" stroke-width="1.8" stroke-linejoin="round"/>
<polygon points="1099.5,1316.8 1118.5,1306.6 1099.3,1311.7 1080.4,1321.7" fill="#00ffbc" stroke="#000" stroke-width="1.8" stroke-linejoin="round"/>
<polygon points="1041.8,1341.9 1061.2,1331.8 1042.3,1336.4 1023,1346.3" fill="#00fffa" stroke="#000" stroke-width="1.8" stroke-linejoin="round"/>
<polygon points="1080.3,1327.1 1099.5,1316.8 1080.4,1321.7 1061.2,1331.8" fill="#00ffca" stroke="#000" stroke-width="1.8" stroke-linejoin="round"/>
<polygon points="1118.9,1311.8 1137.9,1301.3 1118.5,1306.6 1099.5,1316.8" fill="#00ff99" stroke="#000" stroke-width="1.8" stroke-linejoin="round"/>
<polygon points="1022.3,1352.2 1041.8,1341.9 1023,1346.3 1003.5,1356.3" fill="#00f7ff" stroke="#000" stroke-width="1.8" stroke-linejoin="round"/>
<polygon points="1060.9,1337.5 1080.3,1327.1 1061.2,1331.8 1041.8,1341.9" fill="#00ffd8" stroke="#000" stroke-width="1.8" stroke-linejoin="round"/>
<polygon points="1099.7,1322.4 1118.9,1311.8 1099.5,1316.8 1080.3,1327.1" fill="#00ffa7" stroke="#000" stroke-width="1.8" stroke-linejoin="round"/>
<polygon points="1138.6,1306.8 1157.7,1296.1 1137.9,1301.3 1118.9,1311.8" fill="#00ff75" stroke="#000" stroke-width="1.8" stroke-linejoin="round"/>
<polygon points="1002.5,1362.6 1022.3,1352.2 1003.5,1356.3 983.7,1366.5" fill="#00eaff" stroke="#000" stroke-width="1.8" stroke-linejoin="round"/>
<polygon points="1041.3,1348 1060.9,1337.5 1041.8,1341.9 1022.3,1352.2" fill="#00ffe6" stroke="#000" stroke-width="1.8" stroke-linejoin="round"/>
<polygon points="1080.3,1333 1099.7,1322.4 1080.3,1327.1 1060.9,1337.5" fill="#00ffb6" stroke="#000" stroke-width="1.8" stroke-linejoin="round"/>
<polygon points="1119.3,1317.6 1138.6,1306.8 1118.9,1311.8 1099.7,1322.4" fill="#00ff85" stroke="#000" stroke-width="1.8" stroke-linejoin="round"/>
<polygon points="982.5,1373.1 1002.5,1362.6 983.7,1366.5 963.8,1376.7" fill="#00ddff" stroke="#000" stroke-width="1.8" stroke-linejoin="round"/>
<polygon points="1158.6,1301.7 1177.6,1290.7 1157.7,1296.1 1138.6,1306.8" fill="#00ff52" stroke="#000" stroke-width="1.8" stroke-linejoin="round"/>
<polygon points="1021.5,1358.7 1041.3,1348 1022.3,1352.2 1002.5,1362.6" fill="#00fff3" stroke="#000" stroke-width="1.8" stroke-linejoin="round"/>
<polygon points="1060.6,1343.8 1080.3,1333 1060.9,1337.5 1041.3,1348" fill="#00ffc4" stroke="#000" stroke-width="1.8" stroke-linejoin="round"/>
<polygon points="1099.9,1328.5 1119.3,1317.6 1099.7,1322.4 1080.3,1333" fill="#00ff94" stroke="#000" stroke-width="1.8" stroke-linejoin="round"/>
<polygon points="962.3,1383.7 982.5,1373.1 963.8,1376.7 943.6,1387.1" fill="#00cfff" stroke="#000" stroke-width="1.8" stroke-linejoin="round"/>
<polygon points="1139.3,1312.7 1158.6,1301.7 1138.6,1306.8 1119.3,1317.6" fill="#00ff62" stroke="#000" stroke-width="1.8" stroke-linejoin="round"/>
<polygon points="1001.5,1369.4 1021.5,1358.7 1002.5,1362.6 982.5,1373.1" fill="#00fdff" stroke="#000" stroke-width="1.8" stroke-linejoin="round"/>
<polygon points="1178.8,1296.5 1197.9,1285.3 1177.6,1290.7 1158.6,1301.7" fill="#00ff2f" stroke="#000" stroke-width="1.8" stroke-linejoin="round"/>
<polygon points="1040.8,1354.7 1060.6,1343.8 1041.3,1348 1021.5,1358.7" fill="#00ffd3" stroke="#000" stroke-width="1.8" stroke-linejoin="round"/>
<polygon points="1080.2,1339.5 1099.9,1328.5 1080.3,1333 1060.6,1343.8" fill="#00ffa3" stroke="#000" stroke-width="1.8" stroke-linejoin="round"/>
<polygon points="941.9,1394.4 962.3,1383.7 943.6,1387.1 923.3,1397.5" fill="#00c2ff" stroke="#000" stroke-width="1.8" stroke-linejoin="round"/>
<polygon points="1119.8,1323.9 1139.3,1312.7 1119.3,1317.6 1099.9,1328.5" fill="#00ff72" stroke="#000" stroke-width="1.8" stroke-linejoin="round"/>
<polygon points="981.3,1380.3 1001.5,1369.4 982.5,1373.1 962.3,1383.7" fill="#00efff" stroke="#000" stroke-width="1.8" stroke-linejoin="round"/>
<polygon points="1159.5,1307.8 1178.8,1296.5 1158.6,1301.7 1139.3,1312.7" fill="#00ff3f" stroke="#000" stroke-width="1.8" stroke-linejoin="round"/>
<polygon points="1020.7,1365.7 1040.8,1354.7 1021.5,1358.7 1001.5,1369.4" fill="#00ffe1" stroke="#000" stroke-width="1.8" stroke-linejoin="round"/>
<polygon points="1060.3,1350.6 1080.2,1339.5 1060.6,1343.8 1040.8,1354.7" fill="#00ffb2" stroke="#000" stroke-width="1.8" stroke-linejoin="round"/>
<polygon points="1199.3,1291.3 1218.5,1279.8 1197.9,1285.3 1178.8,1296.5" fill="#00ff0c" stroke="#000" stroke-width="1.8" stroke-linejoin="round"/>
<polygon points="921.3,1405.2 941.9,1394.4 923.3,1397.5 902.7,1408.1" fill="#00b5ff" stroke="#000" stroke-width="1.8" stroke-linejoin="round"/>
<polygon points="1100.1,1335.2 1119.8,1323.9 1099.9,1328.5 1080.2,1339.5" fill="#00ff81" stroke="#000" stroke-width="1.8" stroke-linejoin="round"/>
<polygon points="960.8,1391.2 981.3,1380.3 962.3,1383.7 941.9,1394.4" fill="#00e1ff" stroke="#000" stroke-width="1.8" stroke-linejoin="round"/>
<polygon points="1139.9,1319.2 1159.5,1307.8 1139.3,1312.7 1119.8,1323.9" fill="#00ff50" stroke="#000" stroke-width="1.8" stroke-linejoin="round"/>
<polygon points="1000.5,1376.8 1020.7,1365.7 1001.5,1369.4 981.3,1380.3" fill="#00fff0" stroke="#000" stroke-width="1.8" stroke-linejoin="round"/>
<polygon points="1180,1302.8 1199.3,1291.3 1178.8,1296.5 1159.5,1307.8" fill="#00ff1d" stroke="#000" stroke-width="1.8" stroke-linejoin="round"/>
<polygon points="1040.2,1361.9 1060.3,1350.6 1040.8,1354.7 1020.7,1365.7" fill="#00ffc1" stroke="#000" stroke-width="1.8" stroke-linejoin="round"/>
<polygon points="900.4,1416.1 921.3,1405.2 902.7,1408.1 881.9,1418.8" fill="#00a8ff" stroke="#000" stroke-width="1.8" stroke-linejoin="round"/>
<polygon points="1080.2,1346.5 1100.1,1335.2 1080.2,1339.5 1060.3,1350.6" fill="#00ff91" stroke="#000" stroke-width="1.8" stroke-linejoin="round"/>
<polygon points="1220.1,1286 1239.3,1274.3 1218.5,1279.8 1199.3,1291.3" fill="#17ff00" stroke="#000" stroke-width="1.8" stroke-linejoin="round"/>
<polygon points="940.1,1402.3 960.8,1391.2 941.9,1394.4 921.3,1405.2" fill="#00d3ff" stroke="#000" stroke-width="1.8" stroke-linejoin="round"/>
<polygon points="1120.2,1330.8 1139.9,1319.2 1119.8,1323.9 1100.1,1335.2" fill="#00ff60" stroke="#000" stroke-width="1.8" stroke-linejoin="round"/>
<polygon points="980,1388 1000.5,1376.8 981.3,1380.3 960.8,1391.2" fill="#00fffe" stroke="#000" stroke-width="1.8" stroke-linejoin="round"/>
<polygon points="1160.4,1314.5 1180,1302.8 1159.5,1307.8 1139.9,1319.2" fill="#00ff2e" stroke="#000" stroke-width="1.8" stroke-linejoin="round"/>
<polygon points="1019.9,1373.3 1040.2,1361.9 1020.7,1365.7 1000.5,1376.8" fill="#00ffd0" stroke="#000" stroke-width="1.8" stroke-linejoin="round"/>
<polygon points="879.3,1427.2 900.4,1416.1 881.9,1418.8 860.8,1429.6" fill="#009bff" stroke="#000" stroke-width="1.8" stroke-linejoin="round"/>
<polygon points="1060,1358.1 1080.2,1346.5 1060.3,1350.6 1040.2,1361.9" fill="#00ffa1" stroke="#000" stroke-width="1.8" stroke-linejoin="round"/>
<polygon points="1200.8,1297.8 1220.1,1286 1199.3,1291.3 1180,1302.8" fill="#06ff00" stroke="#000" stroke-width="1.8" stroke-linejoin="round"/>
<polygon points="919.2,1413.5 940.1,1402.3 921.3,1405.2 900.4,1416.1" fill="#00c5ff" stroke="#000" stroke-width="1.8" stroke-linejoin="round"/>
<polygon points="1100.3,1342.4 1120.2,1330.8 1100.1,1335.2 1080.2,1346.5" fill="#00ff70" stroke="#000" stroke-width="1.8" stroke-linejoin="round"/>
<polygon points="1241.3,1280.6 1260.5,1268.7 1239.3,1274.3 1220.1,1286" fill="#3bff00" stroke="#000" stroke-width="1.8" stroke-linejoin="round"/>
<polygon points="959.3,1399.3 980,1388 960.8,1391.2 940.1,1402.3" fill="#00f1ff" stroke="#000" stroke-width="1.8" stroke-linejoin="round"/>
<polygon points="1140.6,1326.3 1160.4,1314.5 1139.9,1319.2 1120.2,1330.8" fill="#00ff3f" stroke="#000" stroke-width="1.8" stroke-linejoin="round"/>
<polygon points="999.4,1384.7 1019.9,1373.3 1000.5,1376.8 980,1388" fill="#00ffdf" stroke="#000" stroke-width="1.8" stroke-linejoin="round"/>
<polygon points="858,1438.4 879.3,1427.2 860.8,1429.6 839.5,1440.5" fill="#008dff" stroke="#000" stroke-width="1.8" stroke-linejoin="round"/>
<polygon points="1181.2,1309.7 1200.8,1297.8 1180,1302.8 1160.4,1314.5" fill="#00ff0c" stroke="#000" stroke-width="1.8" stroke-linejoin="round"/>
<polygon points="1039.7,1369.7 1060,1358.1 1040.2,1361.9 1019.9,1373.3" fill="#00ffb1" stroke="#000" stroke-width="1.8" stroke-linejoin="round"/>
<polygon points="898.1,1424.8 919.2,1413.5 900.4,1416.1 879.3,1427.2" fill="#00b8ff" stroke="#000" stroke-width="1.8" stroke-linejoin="round"/>
<polygon points="1080.1,1354.2 1100.3,1342.4 1080.2,1346.5 1060,1358.1" fill="#00ff81" stroke="#000" stroke-width="1.8" stroke-linejoin="round"/>
<polygon points="1221.9,1292.7 1241.3,1280.6 1220.1,1286 1200.8,1297.8" fill="#28ff00" stroke="#000" stroke-width="1.8" stroke-linejoin="round"/>
<polygon points="938.3,1410.8 959.3,1399.3 940.1,1402.3 919.2,1413.5" fill="#00e3ff" stroke="#000" stroke-width="1.8" stroke-linejoin="round"/>
<polygon points="1120.7,1338.2 1140.6,1326.3 1120.2,1330.8 1100.3,1342.4" fill="#00ff50" stroke="#000" stroke-width="1.8" stroke-linejoin="round"/>
<polygon points="978.7,1396.3 999.4,1384.7 980,1388 959.3,1399.3" fill="#00ffee" stroke="#000" stroke-width="1.8" stroke-linejoin="round"/>
<polygon points="1262.7,1275.2 1282,1263 1260.5,1268.7 1241.3,1280.6" fill="#5eff00" stroke="#000" stroke-width="1.8" stroke-linejoin="round"/>
<polygon points="836.4,1449.6 858,1438.4 839.5,1440.5 818,1451.5" fill="#0080ff" stroke="#000" stroke-width="1.8" stroke-linejoin="round"/>
<polygon points="1161.4,1321.8 1181.2,1309.7 1160.4,1314.5 1140.6,1326.3" fill="#00ff1e" stroke="#000" stroke-width="1.8" stroke-linejoin="round"/>
<polygon points="1019.1,1381.4 1039.7,1369.7 1019.9,1373.3 999.4,1384.7" fill="#00ffc0" stroke="#000" stroke-width="1.8" stroke-linejoin="round"/>
<polygon points="876.7,1436.2 898.1,1424.8 879.3,1427.2 858,1438.4" fill="#00aaff" stroke="#000" stroke-width="1.8" stroke-linejoin="round"/>
<polygon points="1059.7,1366.1 1080.1,1354.2 1060,1358.1 1039.7,1369.7" fill="#00ff91" stroke="#000" stroke-width="1.8" stroke-linejoin="round"/>
<polygon points="1202.2,1304.9 1221.9,1292.7 1200.8,1297.8 1181.2,1309.7" fill="#16ff00" stroke="#000" stroke-width="1.8" stroke-linejoin="round"/>
<polygon points="917.1,1422.4 938.3,1410.8 919.2,1413.5 898.1,1424.8" fill="#00d5ff" stroke="#000" stroke-width="1.8" stroke-linejoin="round"/>
<polygon points="1100.5,1350.3 1120.7,1338.2 1100.3,1342.4 1080.1,1354.2" fill="#00ff61" stroke="#000" stroke-width="1.8" stroke-linejoin="round"/>
<polygon points="1243.3,1287.5 1262.7,1275.2 1241.3,1280.6 1221.9,1292.7" fill="#4bff00" stroke="#000" stroke-width="1.8" stroke-linejoin="round"/>
<polygon points="957.7,1408.1 978.7,1396.3 959.3,1399.3 938.3,1410.8" fill="#00fffd" stroke="#000" stroke-width="1.8" stroke-linejoin="round"/>
<polygon points="814.7,1461.1 836.4,1449.6 818,1451.5 796.3,1462.6" fill="#0073ff" stroke="#000" stroke-width="1.8" stroke-linejoin="round"/>
<polygon points="1141.4,1334 1161.4,1321.8 1140.6,1326.3 1120.7,1338.2" fill="#00ff2f" stroke="#000" stroke-width="1.8" stroke-linejoin="round"/>
<polygon points="998.3,1393.3 1019.1,1381.4 999.4,1384.7 978.7,1396.3" fill="#00ffd0" stroke="#000" stroke-width="1.8" stroke-linejoin="round"/>
<polygon points="1284.5,1269.7 1303.7,1257.2 1282,1263 1262.7,1275.2" fill="#81ff00" stroke="#000" stroke-width="1.8" stroke-linejoin="round"/>
<polygon points="855.1,1447.8 876.7,1436.2 858,1438.4 836.4,1449.6" fill="#009cff" stroke="#000" stroke-width="1.8" stroke-linejoin="round"/>
<polygon points="1039.1,1378.1 1059.7,1366.1 1039.7,1369.7 1019.1,1381.4" fill="#00ffa1" stroke="#000" stroke-width="1.8" stroke-linejoin="round"/>
<polygon points="1182.4,1317.2 1202.2,1304.9 1181.2,1309.7 1161.4,1321.8" fill="#04ff00" stroke="#000" stroke-width="1.8" stroke-linejoin="round"/>
<polygon points="895.7,1434.1 917.1,1422.4 898.1,1424.8 876.7,1436.2" fill="#00c6ff" stroke="#000" stroke-width="1.8" stroke-linejoin="round"/>
<polygon points="1080.1,1362.4 1100.5,1350.3 1080.1,1354.2 1059.7,1366.1" fill="#00ff72" stroke="#000" stroke-width="1.8" stroke-linejoin="round"/>
<polygon points="1223.6,1300 1243.3,1287.5 1221.9,1292.7 1202.2,1304.9" fill="#38ff00" stroke="#000" stroke-width="1.8" stroke-linejoin="round"/>
<polygon points="936.5,1419.9 957.7,1408.1 938.3,1410.8 917.1,1422.4" fill="#00f2ff" stroke="#000" stroke-width="1.8" stroke-linejoin="round"/>
<polygon points="792.6,1472.6 814.7,1461.1 796.3,1462.6 774.3,1473.9" fill="#0066ff" stroke="#000" stroke-width="1.8" stroke-linejoin="round"/>
<polygon points="1121.1,1346.3 1141.4,1334 1120.7,1338.2 1100.5,1350.3" fill="#00ff41" stroke="#000" stroke-width="1.8" stroke-linejoin="round"/>
<polygon points="977.3,1405.3 998.3,1393.3 978.7,1396.3 957.7,1408.1" fill="#00ffe0" stroke="#000" stroke-width="1.8" stroke-linejoin="round"/>
<polygon points="1265,1282.3 1284.5,1269.7 1262.7,1275.2 1243.3,1287.5" fill="#6dff00" stroke="#000" stroke-width="1.8" stroke-linejoin="round"/>
<polygon points="833.3,1459.5 855.1,1447.8 836.4,1449.6 814.7,1461.1" fill="#008eff" stroke="#000" stroke-width="1.8" stroke-linejoin="round"/>
<polygon points="1162.4,1329.7 1182.4,1317.2 1161.4,1321.8 1141.4,1334" fill="#00ff0e" stroke="#000" stroke-width="1.8" stroke-linejoin="round"/>
<polygon points="1018.3,1390.3 1039.1,1378.1 1019.1,1381.4 998.3,1393.3" fill="#00ffb2" stroke="#000" stroke-width="1.8" stroke-linejoin="round"/>
<polygon points="1306.5,1264.1 1325.8,1251.3 1303.7,1257.2 1284.5,1269.7" fill="#a4ff00" stroke="#000" stroke-width="1.8" stroke-linejoin="round"/>
<polygon points="874.1,1445.9 895.7,1434.1 876.7,1436.2 855.1,1447.8" fill="#00b8ff" stroke="#000" stroke-width="1.8" stroke-linejoin="round"/>
<polygon points="1059.4,1374.7 1080.1,1362.4 1059.7,1366.1 1039.1,1378.1" fill="#00ff83" stroke="#000" stroke-width="1.8" stroke-linejoin="round"/>
<polygon points="1203.7,1312.6 1223.6,1300 1202.2,1304.9 1182.4,1317.2" fill="#25ff00" stroke="#000" stroke-width="1.8" stroke-linejoin="round"/>
<polygon points="915,1431.9 936.5,1419.9 917.1,1422.4 895.7,1434.1" fill="#00e3ff" stroke="#000" stroke-width="1.8" stroke-linejoin="round"/>
<polygon points="770.3,1484.2 792.6,1472.6 774.3,1473.9 752,1485.2" fill="#0059ff" stroke="#000" stroke-width="1.8" stroke-linejoin="round"/>
<polygon points="1100.7,1358.7 1121.1,1346.3 1100.5,1350.3 1080.1,1362.4" fill="#00ff52" stroke="#000" stroke-width="1.8" stroke-linejoin="round"/>
<polygon points="1245.3,1295 1265,1282.3 1243.3,1287.5 1223.6,1300" fill="#5aff00" stroke="#000" stroke-width="1.8" stroke-linejoin="round"/>
<polygon points="956.1,1417.4 977.3,1405.3 957.7,1408.1 936.5,1419.9" fill="#00ffef" stroke="#000" stroke-width="1.8" stroke-linejoin="round"/>
<polygon points="811.2,1471.3 833.3,1459.5 814.7,1461.1 792.6,1472.6" fill="#0081ff" stroke="#000" stroke-width="1.8" stroke-linejoin="round"/>
<polygon points="1142.1,1342.3 1162.4,1329.7 1141.4,1334 1121.1,1346.3" fill="#00ff21" stroke="#000" stroke-width="1.8" stroke-linejoin="round"/>
<polygon points="997.2,1402.5 1018.3,1390.3 998.3,1393.3 977.3,1405.3" fill="#00ffc2" stroke="#000" stroke-width="1.8" stroke-linejoin="round"/>
<polygon points="1287,1277 1306.5,1264.1 1284.5,1269.7 1265,1282.3" fill="#90ff00" stroke="#000" stroke-width="1.8" stroke-linejoin="round"/>
<polygon points="852.2,1457.9 874.1,1445.9 855.1,1447.8 833.3,1459.5" fill="#00aaff" stroke="#000" stroke-width="1.8" stroke-linejoin="round"/>
<polygon points="1038.5,1387.2 1059.4,1374.7 1039.1,1378.1 1018.3,1390.3" fill="#00ff94" stroke="#000" stroke-width="1.8" stroke-linejoin="round"/>
<polygon points="1183.7,1325.3 1203.7,1312.6 1182.4,1317.2 1162.4,1329.7" fill="#12ff00" stroke="#000" stroke-width="1.8" stroke-linejoin="round"/>
<polygon points="893.3,1444 915,1431.9 895.7,1434.1 874.1,1445.9" fill="#00d4ff" stroke="#000" stroke-width="1.8" stroke-linejoin="round"/>
<polygon points="1328.9,1258.4 1348.3,1245.4 1325.8,1251.3 1306.5,1264.1" fill="#c7ff00" stroke="#000" stroke-width="1.8" stroke-linejoin="round"/>
<polygon points="747.8,1496 770.3,1484.2 752,1485.2 729.5,1496.7" fill="#004cff" stroke="#000" stroke-width="1.8" stroke-linejoin="round"/>
<polygon points="1080,1371.3 1100.7,1358.7 1080.1,1362.4 1059.4,1374.7" fill="#00ff64" stroke="#000" stroke-width="1.8" stroke-linejoin="round"/>
<polygon points="1225.4,1307.9 1245.3,1295 1223.6,1300 1203.7,1312.6" fill="#46ff00" stroke="#000" stroke-width="1.8" stroke-linejoin="round"/>
<polygon points="934.6,1429.7 956.1,1417.4 936.5,1419.9 915,1431.9" fill="#00ffff" stroke="#000" stroke-width="1.8" stroke-linejoin="round"/>
<polygon points="788.9,1483.2 811.2,1471.3 792.6,1472.6 770.3,1484.2" fill="#0073ff" stroke="#000" stroke-width="1.8" stroke-linejoin="round"/>
<polygon points="1121.6,1355 1142.1,1342.3 1121.1,1346.3 1100.7,1358.7" fill="#00ff33" stroke="#000" stroke-width="1.8" stroke-linejoin="round"/>
<polygon points="975.9,1414.9 997.2,1402.5 977.3,1405.3 956.1,1417.4" fill="#00ffd2" stroke="#000" stroke-width="1.8" stroke-linejoin="round"/>
<polygon points="1267.3,1290 1287,1277 1265,1282.3 1245.3,1295" fill="#7cff00" stroke="#000" stroke-width="1.8" stroke-linejoin="round"/>
<polygon points="830.1,1470 852.2,1457.9 833.3,1459.5 811.2,1471.3" fill="#009bff" stroke="#000" stroke-width="1.8" stroke-linejoin="round"/>
<polygon points="1163.4,1338.2 1183.7,1325.3 1162.4,1329.7 1142.1,1342.3" fill="#00ff01" stroke="#000" stroke-width="1.8" stroke-linejoin="round"/>
<polygon points="1017.4,1399.7 1038.5,1387.2 1018.3,1390.3 997.2,1402.5" fill="#00ffa5" stroke="#000" stroke-width="1.8" stroke-linejoin="round"/>
<polygon points="1309.4,1271.6 1328.9,1258.4 1306.5,1264.1 1287,1277" fill="#b2ff00" stroke="#000" stroke-width="1.8" stroke-linejoin="round"/>
<polygon points="871.4,1456.3 893.3,1444 874.1,1445.9 852.2,1457.9" fill="#00c5ff" stroke="#000" stroke-width="1.8" stroke-linejoin="round"/>
<polygon points="1059.1,1384 1080,1371.3 1059.4,1374.7 1038.5,1387.2" fill="#00ff75" stroke="#000" stroke-width="1.8" stroke-linejoin="round"/>
<polygon points="725,1507.9 747.8,1496 729.5,1496.7 706.8,1508.4" fill="#003fff" stroke="#000" stroke-width="1.8" stroke-linejoin="round"/>
<polygon points="1205.3,1320.9 1225.4,1307.9 1203.7,1312.6 1183.7,1325.3" fill="#33ff00" stroke="#000" stroke-width="1.8" stroke-linejoin="round"/>
<polygon points="912.8,1442.1 934.6,1429.7 915,1431.9 893.3,1444" fill="#00efff" stroke="#000" stroke-width="1.8" stroke-linejoin="round"/>
<polygon points="1351.7,1252.7 1371,1239.4 1348.3,1245.4 1328.9,1258.4" fill="#eaff00" stroke="#000" stroke-width="1.8" stroke-linejoin="round"/>
<polygon points="766.3,1495.3 788.9,1483.2 770.3,1484.2 747.8,1496" fill="#0065ff" stroke="#000" stroke-width="1.8" stroke-linejoin="round"/>
<polygon points="1100.9,1367.8 1121.6,1355 1100.7,1358.7 1080,1371.3" fill="#00ff45" stroke="#000" stroke-width="1.8" stroke-linejoin="round"/>
<polygon points="954.4,1427.5 975.9,1414.9 956.1,1417.4 934.6,1429.7" fill="#00ffe3" stroke="#000" stroke-width="1.8" stroke-linejoin="round"/>
<polygon points="1247.4,1303.2 1267.3,1290 1245.3,1295 1225.4,1307.9" fill="#67ff00" stroke="#000" stroke-width="1.8" stroke-linejoin="round"/>
<polygon points="807.7,1482.2 830.1,1470 811.2,1471.3 788.9,1483.2" fill="#008dff" stroke="#000" stroke-width="1.8" stroke-linejoin="round"/>
<polygon points="1142.8,1351.2 1163.4,1338.2 1142.1,1342.3 1121.6,1355" fill="#00ff14" stroke="#000" stroke-width="1.8" stroke-linejoin="round"/>
<polygon points="996.1,1412.4 1017.4,1399.7 997.2,1402.5 975.9,1414.9" fill="#00ffb5" stroke="#000" stroke-width="1.8" stroke-linejoin="round"/>
<polygon points="1289.6,1284.9 1309.4,1271.6 1287,1277 1267.3,1290" fill="#9dff00" stroke="#000" stroke-width="1.8" stroke-linejoin="round"/>
<polygon points="849.2,1468.6 871.4,1456.3 852.2,1457.9 830.1,1470" fill="#00b6ff" stroke="#000" stroke-width="1.8" stroke-linejoin="round"/>
<polygon points="1037.9,1396.9 1059.1,1384 1038.5,1387.2 1017.4,1399.7" fill="#00ff87" stroke="#000" stroke-width="1.8" stroke-linejoin="round"/>
<polygon points="1184.9,1334.1 1205.3,1320.9 1183.7,1325.3 1163.4,1338.2" fill="#1fff00" stroke="#000" stroke-width="1.8" stroke-linejoin="round"/>
<polygon points="701.9,1520 725,1507.9 706.8,1508.4 683.8,1520.1" fill="#0032ff" stroke="#000" stroke-width="1.8" stroke-linejoin="round"/>
<polygon points="890.9,1454.6 912.8,1442.1 893.3,1444 871.4,1456.3" fill="#00e0ff" stroke="#000" stroke-width="1.8" stroke-linejoin="round"/>
<polygon points="1332.1,1266.1 1351.7,1252.7 1328.9,1258.4 1309.4,1271.6" fill="#d5ff00" stroke="#000" stroke-width="1.8" stroke-linejoin="round"/>
<polygon points="743.4,1507.5 766.3,1495.3 747.8,1496 725,1507.9" fill="#0058ff" stroke="#000" stroke-width="1.8" stroke-linejoin="round"/>
<polygon points="1079.9,1380.8 1100.9,1367.8 1080,1371.3 1059.1,1384" fill="#00ff57" stroke="#000" stroke-width="1.8" stroke-linejoin="round"/>
<polygon points="1227.2,1316.5 1247.4,1303.2 1225.4,1307.9 1205.3,1320.9" fill="#53ff00" stroke="#000" stroke-width="1.8" stroke-linejoin="round"/>
<polygon points="932.6,1440.2 954.4,1427.5 934.6,1429.7 912.8,1442.1" fill="#00fff3" stroke="#000" stroke-width="1.8" stroke-linejoin="round"/>
<polygon points="1374.7,1246.9 1394.1,1233.3 1371,1239.4 1351.7,1252.7" fill="#fff100" stroke="#000" stroke-width="1.8" stroke-linejoin="round"/>
<polygon points="785.1,1494.5 807.7,1482.2 788.9,1483.2 766.3,1495.3" fill="#007fff" stroke="#000" stroke-width="1.8" stroke-linejoin="round"/>
<polygon points="1122.1,1364.3 1142.8,1351.2 1121.6,1355 1100.9,1367.8" fill="#00ff26" stroke="#000" stroke-width="1.8" stroke-linejoin="round"/>
<polygon points="974.5,1425.2 996.1,1412.4 975.9,1414.9 954.4,1427.5" fill="#00ffc6" stroke="#000" stroke-width="1.8" stroke-linejoin="round"/>
<polygon points="1269.7,1298.3 1289.6,1284.9 1267.3,1290 1247.4,1303.2" fill="#89ff00" stroke="#000" stroke-width="1.8" stroke-linejoin="round"/>
<polygon points="826.8,1481.1 849.2,1468.6 830.1,1470 807.7,1482.2" fill="#00a7ff" stroke="#000" stroke-width="1.8" stroke-linejoin="round"/>
<polygon points="1164.4,1347.4 1184.9,1334.1 1163.4,1338.2 1142.8,1351.2" fill="#0cff00" stroke="#000" stroke-width="1.8" stroke-linejoin="round"/>
<polygon points="1016.6,1409.8 1037.9,1396.9 1017.4,1399.7 996.1,1412.4" fill="#00ff99" stroke="#000" stroke-width="1.8" stroke-linejoin="round"/>
<polygon points="678.6,1532.1 701.9,1520 683.8,1520.1 660.5,1532" fill="#0025ff" stroke="#000" stroke-width="1.8" stroke-linejoin="round"/>
<polygon points="1312.3,1279.7 1332.1,1266.1 1309.4,1271.6 1289.6,1284.9" fill="#bfff00" stroke="#000" stroke-width="1.8" stroke-linejoin="round"/>
<polygon points="868.6,1467.3 890.9,1454.6 871.4,1456.3 849.2,1468.6" fill="#00d0ff" stroke="#000" stroke-width="1.8" stroke-linejoin="round"/>
<polygon points="1058.8,1394 1079.9,1380.8 1059.1,1384 1037.9,1396.9" fill="#00ff69" stroke="#000" stroke-width="1.8" stroke-linejoin="round"/>
<polygon points="720.3,1519.8 743.4,1507.5 725,1507.9 701.9,1520" fill="#004aff" stroke="#000" stroke-width="1.8" stroke-linejoin="round"/>
<polygon points="1206.8,1329.9 1227.2,1316.5 1205.3,1320.9 1184.9,1334.1" fill="#3fff00" stroke="#000" stroke-width="1.8" stroke-linejoin="round"/>
<polygon points="910.6,1453 932.6,1440.2 912.8,1442.1 890.9,1454.6" fill="#00fbff" stroke="#000" stroke-width="1.8" stroke-linejoin="round"/>
<polygon points="1355.1,1260.6 1374.7,1246.9 1351.7,1252.7 1332.1,1266.1" fill="#f7ff00" stroke="#000" stroke-width="1.8" stroke-linejoin="round"/>
<polygon points="762.2,1507 785.1,1494.5 766.3,1495.3 743.4,1507.5" fill="#0070ff" stroke="#000" stroke-width="1.8" stroke-linejoin="round"/>
<polygon points="1101.1,1377.6 1122.1,1364.3 1100.9,1367.8 1079.9,1380.8" fill="#00ff39" stroke="#000" stroke-width="1.8" stroke-linejoin="round"/>
<polygon points="952.7,1438.2 974.5,1425.2 954.4,1427.5 932.6,1440.2" fill="#00ffd7" stroke="#000" stroke-width="1.8" stroke-linejoin="round"/>
<polygon points="1249.5,1311.9 1269.7,1298.3 1247.4,1303.2 1227.2,1316.5" fill="#74ff00" stroke="#000" stroke-width="1.8" stroke-linejoin="round"/>
<polygon points="804.1,1493.8 826.8,1481.1 807.7,1482.2 785.1,1494.5" fill="#0098ff" stroke="#000" stroke-width="1.8" stroke-linejoin="round"/>
<polygon points="1398.2,1241 1417.6,1227.1 1394.1,1233.3 1374.7,1246.9" fill="#ffce00" stroke="#000" stroke-width="1.8" stroke-linejoin="round"/>
<polygon points="1143.6,1360.8 1164.4,1347.4 1142.8,1351.2 1122.1,1364.3" fill="#00ff08" stroke="#000" stroke-width="1.8" stroke-linejoin="round"/>
<polygon points="995,1423 1016.6,1409.8 996.1,1412.4 974.5,1425.2" fill="#00ffaa" stroke="#000" stroke-width="1.8" stroke-linejoin="round"/>
<polygon points="1292.3,1293.5 1312.3,1279.7 1289.6,1284.9 1269.7,1298.3" fill="#aaff00" stroke="#000" stroke-width="1.8" stroke-linejoin="round"/>
<polygon points="846.2,1480.1 868.6,1467.3 849.2,1468.6 826.8,1481.1" fill="#00c1ff" stroke="#000" stroke-width="1.8" stroke-linejoin="round"/>
<polygon points="1037.3,1407.2 1058.8,1394 1037.9,1396.9 1016.6,1409.8" fill="#00ff7c" stroke="#000" stroke-width="1.8" stroke-linejoin="round"/>
<polygon points="1186.2,1343.5 1206.8,1329.9 1184.9,1334.1 1164.4,1347.4" fill="#2bff00" stroke="#000" stroke-width="1.8" stroke-linejoin="round"/>
<polygon points="697,1532.3 720.3,1519.8 701.9,1520 678.6,1532.1" fill="#003cff" stroke="#000" stroke-width="1.8" stroke-linejoin="round"/>
<polygon points="888.4,1465.9 910.6,1453 890.9,1454.6 868.6,1467.3" fill="#00ebff" stroke="#000" stroke-width="1.8" stroke-linejoin="round"/>
<polygon points="1335.3,1274.5 1355.1,1260.6 1332.1,1266.1 1312.3,1279.7" fill="#e1ff00" stroke="#000" stroke-width="1.8" stroke-linejoin="round"/>
<polygon points="739,1519.7 762.2,1507 743.4,1507.5 720.3,1519.8" fill="#0062ff" stroke="#000" stroke-width="1.8" stroke-linejoin="round"/>
<polygon points="1079.9,1391 1101.1,1377.6 1079.9,1380.8 1058.8,1394" fill="#00ff4c" stroke="#000" stroke-width="1.8" stroke-linejoin="round"/>
<polygon points="1229.1,1325.7 1249.5,1311.9 1227.2,1316.5 1206.8,1329.9" fill="#5fff00" stroke="#000" stroke-width="1.8" stroke-linejoin="round"/>
<polygon points="930.7,1451.3 952.7,1438.2 932.6,1440.2 910.6,1453" fill="#00ffe8" stroke="#000" stroke-width="1.8" stroke-linejoin="round"/>
<polygon points="1378.5,1255 1398.2,1241 1374.7,1246.9 1355.1,1260.6" fill="#ffe500" stroke="#000" stroke-width="1.8" stroke-linejoin="round"/>
<polygon points="781.2,1506.6 804.1,1493.8 785.1,1494.5 762.2,1507" fill="#0089ff" stroke="#000" stroke-width="1.8" stroke-linejoin="round"/>
<polygon points="1122.6,1374.4 1143.6,1360.8 1122.1,1364.3 1101.1,1377.6" fill="#00ff1b" stroke="#000" stroke-width="1.8" stroke-linejoin="round"/>
<polygon points="973.1,1436.2 995,1423 974.5,1425.2 952.7,1438.2" fill="#00ffbc" stroke="#000" stroke-width="1.8" stroke-linejoin="round"/>
<polygon points="1272.1,1307.3 1292.3,1293.5 1269.7,1298.3 1249.5,1311.9" fill="#94ff00" stroke="#000" stroke-width="1.8" stroke-linejoin="round"/>
<polygon points="823.4,1493 846.2,1480.1 826.8,1481.1 804.1,1493.8" fill="#00b1ff" stroke="#000" stroke-width="1.8" stroke-linejoin="round"/>
<polygon points="1422,1235 1441.4,1220.9 1417.6,1227.1 1398.2,1241" fill="#ffab00" stroke="#000" stroke-width="1.8" stroke-linejoin="round"/>
<polygon points="1165.4,1357.2 1186.2,1343.5 1164.4,1347.4 1143.6,1360.8" fill="#17ff00" stroke="#000" stroke-width="1.8" stroke-linejoin="round"/>
<polygon points="1015.7,1420.7 1037.3,1407.2 1016.6,1409.8 995,1423" fill="#00ff8e" stroke="#000" stroke-width="1.8" stroke-linejoin="round"/>
<polygon points="1315.3,1288.5 1335.3,1274.5 1312.3,1279.7 1292.3,1293.5" fill="#cbff00" stroke="#000" stroke-width="1.8" stroke-linejoin="round"/>
<polygon points="865.8,1479 888.4,1465.9 868.6,1467.3 846.2,1480.1" fill="#00daff" stroke="#000" stroke-width="1.8" stroke-linejoin="round"/>
<polygon points="715.6,1532.4 739,1519.7 720.3,1519.8 697,1532.3" fill="#0054ff" stroke="#000" stroke-width="1.8" stroke-linejoin="round"/>
<polygon points="1058.4,1404.6 1079.9,1391 1058.8,1394 1037.3,1407.2" fill="#00ff5f" stroke="#000" stroke-width="1.8" stroke-linejoin="round"/>
<polygon points="1208.4,1339.5 1229.1,1325.7 1206.8,1329.9 1186.2,1343.5" fill="#4aff00" stroke="#000" stroke-width="1.8" stroke-linejoin="round"/>
<polygon points="908.3,1464.6 930.7,1451.3 910.6,1453 888.4,1465.9" fill="#00fff9" stroke="#000" stroke-width="1.8" stroke-linejoin="round"/>
<polygon points="1358.7,1269.2 1378.5,1255 1355.1,1260.6 1335.3,1274.5" fill="#fffb00" stroke="#000" stroke-width="1.8" stroke-linejoin="round"/>
<polygon points="758,1519.5 781.2,1506.6 762.2,1507 739,1519.7" fill="#007aff" stroke="#000" stroke-width="1.8" stroke-linejoin="round"/>
<polygon points="1101.3,1388.1 1122.6,1374.4 1101.1,1377.6 1079.9,1391" fill="#00ff2e" stroke="#000" stroke-width="1.8" stroke-linejoin="round"/>
<polygon points="951,1449.6 973.1,1436.2 952.7,1438.2 930.7,1451.3" fill="#00ffcd" stroke="#000" stroke-width="1.8" stroke-linejoin="round"/>
<polygon points="1251.7,1321.4 1272.1,1307.3 1249.5,1311.9 1229.1,1325.7" fill="#7fff00" stroke="#000" stroke-width="1.8" stroke-linejoin="round"/>
<polygon points="800.4,1506.1 823.4,1493 804.1,1493.8 781.2,1506.6" fill="#00a1ff" stroke="#000" stroke-width="1.8" stroke-linejoin="round"/>
<polygon points="1402.3,1249.3 1422,1235 1398.2,1241 1378.5,1255" fill="#ffc200" stroke="#000" stroke-width="1.8" stroke-linejoin="round"/>
<polygon points="1144.4,1371.1 1165.4,1357.2 1143.6,1360.8 1122.6,1374.4" fill="#03ff00" stroke="#000" stroke-width="1.8" stroke-linejoin="round"/>
<polygon points="993.8,1434.2 1015.7,1420.7 995,1423 973.1,1436.2" fill="#00ffa0" stroke="#000" stroke-width="1.8" stroke-linejoin="round"/>
<polygon points="1295,1302.7 1315.3,1288.5 1292.3,1293.5 1272.1,1307.3" fill="#b5ff00" stroke="#000" stroke-width="1.8" stroke-linejoin="round"/>
<polygon points="843.1,1492.3 865.8,1479 846.2,1480.1 823.4,1493" fill="#00caff" stroke="#000" stroke-width="1.8" stroke-linejoin="round"/>
<polygon points="1446.1,1229 1465.6,1214.5 1441.4,1220.9 1422,1235" fill="#ff8800" stroke="#000" stroke-width="1.8" stroke-linejoin="round"/>
<polygon points="1036.7,1418.3 1058.4,1404.6 1037.3,1407.2 1015.7,1420.7" fill="#00ff71" stroke="#000" stroke-width="1.8" stroke-linejoin="round"/>
<polygon points="1187.6,1353.6 1208.4,1339.5 1186.2,1343.5 1165.4,1357.2" fill="#36ff00" stroke="#000" stroke-width="1.8" stroke-linejoin="round"/>
<polygon points="885.8,1478 908.3,1464.6 888.4,1465.9 865.8,1479" fill="#00f4ff" stroke="#000" stroke-width="1.8" stroke-linejoin="round"/>
<polygon points="1338.6,1283.5 1358.7,1269.2 1335.3,1274.5 1315.3,1288.5" fill="#ecff00" stroke="#000" stroke-width="1.8" stroke-linejoin="round"/>
<polygon points="734.5,1532.6 758,1519.5 739,1519.7 715.6,1532.4" fill="#006bff" stroke="#000" stroke-width="1.8" stroke-linejoin="round"/>
<polygon points="1079.8,1402 1101.3,1388.1 1079.9,1391 1058.4,1404.6" fill="#00ff42" stroke="#000" stroke-width="1.8" stroke-linejoin="round"/>
<polygon points="1231,1335.5 1251.7,1321.4 1229.1,1325.7 1208.4,1339.5" fill="#6aff00" stroke="#000" stroke-width="1.8" stroke-linejoin="round"/>
<polygon points="928.6,1463.2 951,1449.6 930.7,1451.3 908.3,1464.6" fill="#00ffde" stroke="#000" stroke-width="1.8" stroke-linejoin="round"/>
<polygon points="1382.4,1263.8 1402.3,1249.3 1378.5,1255 1358.7,1269.2" fill="#ffda00" stroke="#000" stroke-width="1.8" stroke-linejoin="round"/>
<polygon points="777.2,1519.4 800.4,1506.1 781.2,1506.6 758,1519.5" fill="#0092ff" stroke="#000" stroke-width="1.8" stroke-linejoin="round"/>
<polygon points="1123.1,1385.1 1144.4,1371.1 1122.6,1374.4 1101.3,1388.1" fill="#00ff11" stroke="#000" stroke-width="1.8" stroke-linejoin="round"/>
<polygon points="971.6,1448 993.8,1434.2 973.1,1436.2 951,1449.6" fill="#00ffb2" stroke="#000" stroke-width="1.8" stroke-linejoin="round"/>
<polygon points="1274.6,1317 1295,1302.7 1272.1,1307.3 1251.7,1321.4" fill="#9fff00" stroke="#000" stroke-width="1.8" stroke-linejoin="round"/>
<polygon points="820,1505.7 843.1,1492.3 823.4,1493 800.4,1506.1" fill="#00baff" stroke="#000" stroke-width="1.8" stroke-linejoin="round"/>
<polygon points="1426.4,1243.6 1446.1,1229 1422,1235 1402.3,1249.3" fill="#ffa000" stroke="#000" stroke-width="1.8" stroke-linejoin="round"/>
<polygon points="1014.8,1432.2 1036.7,1418.3 1015.7,1420.7 993.8,1434.2" fill="#00ff84" stroke="#000" stroke-width="1.8" stroke-linejoin="round"/>
<polygon points="1166.5,1367.7 1187.6,1353.6 1165.4,1357.2 1144.4,1371.1" fill="#21ff00" stroke="#000" stroke-width="1.8" stroke-linejoin="round"/>
<polygon points="862.9,1491.5 885.8,1478 865.8,1479 843.1,1492.3" fill="#00e3ff" stroke="#000" stroke-width="1.8" stroke-linejoin="round"/>
<polygon points="1318.3,1298 1338.6,1283.5 1315.3,1288.5 1295,1302.7" fill="#d5ff00" stroke="#000" stroke-width="1.8" stroke-linejoin="round"/>
<polygon points="1058.1,1416 1079.8,1402 1058.4,1404.6 1036.7,1418.3" fill="#00ff55" stroke="#000" stroke-width="1.8" stroke-linejoin="round"/>
<polygon points="1470.6,1222.8 1490.1,1208 1465.6,1214.5 1446.1,1229" fill="#ff6500" stroke="#000" stroke-width="1.8" stroke-linejoin="round"/>
<polygon points="1210.1,1349.9 1231,1335.5 1208.4,1339.5 1187.6,1353.6" fill="#54ff00" stroke="#000" stroke-width="1.8" stroke-linejoin="round"/>
<polygon points="906,1476.9 928.6,1463.2 908.3,1464.6 885.8,1478" fill="#00fff0" stroke="#000" stroke-width="1.8" stroke-linejoin="round"/>
<polygon points="1362.3,1278.4 1382.4,1263.8 1358.7,1269.2 1338.6,1283.5" fill="#fff100" stroke="#000" stroke-width="1.8" stroke-linejoin="round"/>
<polygon points="753.7,1532.8 777.2,1519.4 758,1519.5 734.5,1532.6" fill="#0082ff" stroke="#000" stroke-width="1.8" stroke-linejoin="round"/>
<polygon points="1101.5,1399.3 1123.1,1385.1 1101.3,1388.1 1079.8,1402" fill="#00ff25" stroke="#000" stroke-width="1.8" stroke-linejoin="round"/>
<polygon points="949.2,1461.8 971.6,1448 951,1449.6 928.6,1463.2" fill="#00ffc4" stroke="#000" stroke-width="1.8" stroke-linejoin="round"/>
<polygon points="1253.9,1331.5 1274.6,1317 1251.7,1321.4 1231,1335.5" fill="#89ff00" stroke="#000" stroke-width="1.8" stroke-linejoin="round"/>
<polygon points="796.7,1519.2 820,1505.7 800.4,1506.1 777.2,1519.4" fill="#00aaff" stroke="#000" stroke-width="1.8" stroke-linejoin="round"/>
<polygon points="1406.5,1258.3 1426.4,1243.6 1402.3,1249.3 1382.4,1263.8" fill="#ffb800" stroke="#000" stroke-width="1.8" stroke-linejoin="round"/>
<polygon points="1145.2,1382.1 1166.5,1367.7 1144.4,1371.1 1123.1,1385.1" fill="#0cff00" stroke="#000" stroke-width="1.8" stroke-linejoin="round"/>
<polygon points="992.6,1446.2 1014.8,1432.2 993.8,1434.2 971.6,1448" fill="#00ff97" stroke="#000" stroke-width="1.8" stroke-linejoin="round"/>
<polygon points="1297.8,1312.6 1318.3,1298 1295,1302.7 1274.6,1317" fill="#bfff00" stroke="#000" stroke-width="1.8" stroke-linejoin="round"/>
<polygon points="839.9,1505.3 862.9,1491.5 843.1,1492.3 820,1505.7" fill="#00d3ff" stroke="#000" stroke-width="1.8" stroke-linejoin="round"/>
<polygon points="1450.9,1237.7 1470.6,1222.8 1446.1,1229 1426.4,1243.6" fill="#ff7e00" stroke="#000" stroke-width="1.8" stroke-linejoin="round"/>
<polygon points="1036.1,1430.2 1058.1,1416 1036.7,1418.3 1014.8,1432.2" fill="#00ff69" stroke="#000" stroke-width="1.8" stroke-linejoin="round"/>
<polygon points="1189,1364.3 1210.1,1349.9 1187.6,1353.6 1166.5,1367.7" fill="#3fff00" stroke="#000" stroke-width="1.8" stroke-linejoin="round"/>
<polygon points="883.1,1490.8 906,1476.9 885.8,1478 862.9,1491.5" fill="#00fdff" stroke="#000" stroke-width="1.8" stroke-linejoin="round"/>
<polygon points="1342,1293.2 1362.3,1278.4 1338.6,1283.5 1318.3,1298" fill="#f6ff00" stroke="#000" stroke-width="1.8" stroke-linejoin="round"/>
<polygon points="1079.8,1413.6 1101.5,1399.3 1079.8,1402 1058.1,1416" fill="#00ff39" stroke="#000" stroke-width="1.8" stroke-linejoin="round"/>
<polygon points="1495.6,1216.6 1515.1,1201.5 1490.1,1208 1470.6,1222.8" fill="#ff4200" stroke="#000" stroke-width="1.8" stroke-linejoin="round"/>
<polygon points="1232.9,1346.1 1253.9,1331.5 1231,1335.5 1210.1,1349.9" fill="#73ff00" stroke="#000" stroke-width="1.8" stroke-linejoin="round"/>
<polygon points="926.6,1475.8 949.2,1461.8 928.6,1463.2 906,1476.9" fill="#00ffd6" stroke="#000" stroke-width="1.8" stroke-linejoin="round"/>
<polygon points="1386.4,1273.3 1406.5,1258.3 1382.4,1263.8 1362.3,1278.4" fill="#ffd000" stroke="#000" stroke-width="1.8" stroke-linejoin="round"/>
<polygon points="773.1,1532.9 796.7,1519.2 777.2,1519.4 753.7,1532.8" fill="#009aff" stroke="#000" stroke-width="1.8" stroke-linejoin="round"/>
<polygon points="1123.6,1396.5 1145.2,1382.1 1123.1,1385.1 1101.5,1399.3" fill="#00ff08" stroke="#000" stroke-width="1.8" stroke-linejoin="round"/>
<polygon points="970.1,1460.4 992.6,1446.2 971.6,1448 949.2,1461.8" fill="#00ffaa" stroke="#000" stroke-width="1.8" stroke-linejoin="round"/>
<polygon points="1277.1,1327.4 1297.8,1312.6 1274.6,1317 1253.9,1331.5" fill="#a8ff00" stroke="#000" stroke-width="1.8" stroke-linejoin="round"/>
<polygon points="816.5,1519.1 839.9,1505.3 820,1505.7 796.7,1519.2" fill="#00c2ff" stroke="#000" stroke-width="1.8" stroke-linejoin="round"/>
<polygon points="1431,1252.8 1450.9,1237.7 1426.4,1243.6 1406.5,1258.3" fill="#ff9600" stroke="#000" stroke-width="1.8" stroke-linejoin="round"/>
<polygon points="1013.9,1444.5 1036.1,1430.2 1014.8,1432.2 992.6,1446.2" fill="#00ff7c" stroke="#000" stroke-width="1.8" stroke-linejoin="round"/>
<polygon points="1167.6,1379 1189,1364.3 1166.5,1367.7 1145.2,1382.1" fill="#2aff00" stroke="#000" stroke-width="1.8" stroke-linejoin="round"/>
<polygon points="860,1504.8 883.1,1490.8 862.9,1491.5 839.9,1505.3" fill="#00ebff" stroke="#000" stroke-width="1.8" stroke-linejoin="round"/>
<polygon points="1321.5,1308.1 1342,1293.2 1318.3,1298 1297.8,1312.6" fill="#dfff00" stroke="#000" stroke-width="1.8" stroke-linejoin="round"/>
<polygon points="1057.7,1428.1 1079.8,1413.6 1058.1,1416 1036.1,1430.2" fill="#00ff4d" stroke="#000" stroke-width="1.8" stroke-linejoin="round"/>
<polygon points="1475.8,1231.8 1495.6,1216.6 1470.6,1222.8 1450.9,1237.7" fill="#ff5c00" stroke="#000" stroke-width="1.8" stroke-linejoin="round"/>
<polygon points="1211.8,1360.9 1232.9,1346.1 1210.1,1349.9 1189,1364.3" fill="#5dff00" stroke="#000" stroke-width="1.8" stroke-linejoin="round"/>
<polygon points="903.6,1490 926.6,1475.8 906,1476.9 883.1,1490.8" fill="#00ffe8" stroke="#000" stroke-width="1.8" stroke-linejoin="round"/>
<polygon points="1366,1288.3 1386.4,1273.3 1362.3,1278.4 1342,1293.2" fill="#ffe800" stroke="#000" stroke-width="1.8" stroke-linejoin="round"/>
<polygon points="1101.8,1411.2 1123.6,1396.5 1101.5,1399.3 1079.8,1413.6" fill="#00ff1d" stroke="#000" stroke-width="1.8" stroke-linejoin="round"/>
<polygon points="947.4,1474.8 970.1,1460.4 949.2,1461.8 926.6,1475.8" fill="#00ffbc" stroke="#000" stroke-width="1.8" stroke-linejoin="round"/>
<polygon points="1256.1,1342.3 1277.1,1327.4 1253.9,1331.5 1232.9,1346.1" fill="#92ff00" stroke="#000" stroke-width="1.8" stroke-linejoin="round"/>
<polygon points="792.9,1533.1 816.5,1519.1 796.7,1519.2 773.1,1532.9" fill="#00b1ff" stroke="#000" stroke-width="1.8" stroke-linejoin="round"/>
<polygon points="1410.8,1268 1431,1252.8 1406.5,1258.3 1386.4,1273.3" fill="#ffaf00" stroke="#000" stroke-width="1.8" stroke-linejoin="round"/>
<polygon points="1146,1393.8 1167.6,1379 1145.2,1382.1 1123.6,1396.5" fill="#15ff00" stroke="#000" stroke-width="1.8" stroke-linejoin="round"/>
<polygon points="991.4,1459 1013.9,1444.5 992.6,1446.2 970.1,1460.4" fill="#00ff8f" stroke="#000" stroke-width="1.8" stroke-linejoin="round"/>
<polygon points="1300.7,1323.2 1321.5,1308.1 1297.8,1312.6 1277.1,1327.4" fill="#c7ff00" stroke="#000" stroke-width="1.8" stroke-linejoin="round"/>
<polygon points="836.6,1519 860,1504.8 839.9,1505.3 816.5,1519.1" fill="#00daff" stroke="#000" stroke-width="1.8" stroke-linejoin="round"/>
<polygon points="1455.8,1247.2 1475.8,1231.8 1450.9,1237.7 1431,1252.8" fill="#ff7500" stroke="#000" stroke-width="1.8" stroke-linejoin="round"/>
<polygon points="1035.4,1442.8 1057.7,1428.1 1036.1,1430.2 1013.9,1444.5" fill="#00ff61" stroke="#000" stroke-width="1.8" stroke-linejoin="round"/>
<polygon points="1190.4,1375.9 1211.8,1360.9 1189,1364.3 1167.6,1379" fill="#47ff00" stroke="#000" stroke-width="1.8" stroke-linejoin="round"/>
<polygon points="880.5,1504.4 903.6,1490 883.1,1490.8 860,1504.8" fill="#00fffa" stroke="#000" stroke-width="1.8" stroke-linejoin="round"/>
<polygon points="1345.5,1303.6 1366,1288.3 1342,1293.2 1321.5,1308.1" fill="#feff00" stroke="#000" stroke-width="1.8" stroke-linejoin="round"/>
<polygon points="1079.7,1426 1101.8,1411.2 1079.8,1413.6 1057.7,1428.1" fill="#00ff31" stroke="#000" stroke-width="1.8" stroke-linejoin="round"/>
<polygon points="924.5,1489.3 947.4,1474.8 926.6,1475.8 903.6,1490" fill="#00ffcf" stroke="#000" stroke-width="1.8" stroke-linejoin="round"/>
<polygon points="1234.9,1357.4 1256.1,1342.3 1232.9,1346.1 1211.8,1360.9" fill="#7bff00" stroke="#000" stroke-width="1.8" stroke-linejoin="round"/>
<polygon points="1390.5,1283.4 1410.8,1268 1386.4,1273.3 1366,1288.3" fill="#ffc700" stroke="#000" stroke-width="1.8" stroke-linejoin="round"/>
<polygon points="1124.1,1408.8 1146,1393.8 1123.6,1396.5 1101.8,1411.2" fill="#00ff01" stroke="#000" stroke-width="1.8" stroke-linejoin="round"/>
<polygon points="968.6,1473.7 991.4,1459 970.1,1460.4 947.4,1474.8" fill="#00ffa3" stroke="#000" stroke-width="1.8" stroke-linejoin="round"/>
<polygon points="1279.7,1338.5 1300.7,1323.2 1277.1,1327.4 1256.1,1342.3" fill="#b0ff00" stroke="#000" stroke-width="1.8" stroke-linejoin="round"/>
<polygon points="812.9,1533.3 836.6,1519 816.5,1519.1 792.9,1533.1" fill="#00c8ff" stroke="#000" stroke-width="1.8" stroke-linejoin="round"/>
<polygon points="1435.7,1262.7 1455.8,1247.2 1431,1252.8 1410.8,1268" fill="#ff8e00" stroke="#000" stroke-width="1.8" stroke-linejoin="round"/>
<polygon points="1012.9,1457.6 1035.4,1442.8 1013.9,1444.5 991.4,1459" fill="#00ff75" stroke="#000" stroke-width="1.8" stroke-linejoin="round"/>
<polygon points="1168.7,1391 1190.4,1375.9 1167.6,1379 1146,1393.8" fill="#31ff00" stroke="#000" stroke-width="1.8" stroke-linejoin="round"/>
<polygon points="857,1518.9 880.5,1504.4 860,1504.8 836.6,1519" fill="#00f2ff" stroke="#000" stroke-width="1.8" stroke-linejoin="round"/>
<polygon points="1324.7,1319 1345.5,1303.6 1321.5,1308.1 1300.7,1323.2" fill="#e7ff00" stroke="#000" stroke-width="1.8" stroke-linejoin="round"/>
<polygon points="1057.4,1441 1079.7,1426 1057.7,1428.1 1035.4,1442.8" fill="#00ff46" stroke="#000" stroke-width="1.8" stroke-linejoin="round"/>
<polygon points="1213.5,1372.7 1234.9,1357.4 1211.8,1360.9 1190.4,1375.9" fill="#65ff00" stroke="#000" stroke-width="1.8" stroke-linejoin="round"/>
<polygon points="901.2,1503.9 924.5,1489.3 903.6,1490 880.5,1504.4" fill="#00ffe2" stroke="#000" stroke-width="1.8" stroke-linejoin="round"/>
<polygon points="1369.9,1299 1390.5,1283.4 1366,1288.3 1345.5,1303.6" fill="#ffe000" stroke="#000" stroke-width="1.8" stroke-linejoin="round"/>
<polygon points="1102,1423.9 1124.1,1408.8 1101.8,1411.2 1079.7,1426" fill="#00ff16" stroke="#000" stroke-width="1.8" stroke-linejoin="round"/>
<polygon points="945.6,1488.5 968.6,1473.7 947.4,1474.8 924.5,1489.3" fill="#00ffb6" stroke="#000" stroke-width="1.8" stroke-linejoin="round"/>
<polygon points="1258.5,1353.9 1279.7,1338.5 1256.1,1342.3 1234.9,1357.4" fill="#99ff00" stroke="#000" stroke-width="1.8" stroke-linejoin="round"/>
<polygon points="1415.3,1278.4 1435.7,1262.7 1410.8,1268 1390.5,1283.4" fill="#ffa700" stroke="#000" stroke-width="1.8" stroke-linejoin="round"/>
<polygon points="1146.8,1406.3 1168.7,1391 1146,1393.8 1124.1,1408.8" fill="#1bff00" stroke="#000" stroke-width="1.8" stroke-linejoin="round"/>
<polygon points="990.1,1472.6 1012.9,1457.6 991.4,1459 968.6,1473.7" fill="#00ff89" stroke="#000" stroke-width="1.8" stroke-linejoin="round"/>
<polygon points="1303.6,1334.6 1324.7,1319 1300.7,1323.2 1279.7,1338.5" fill="#cfff00" stroke="#000" stroke-width="1.8" stroke-linejoin="round"/>
<polygon points="833.2,1533.5 857,1518.9 836.6,1519 812.9,1533.3" fill="#00e0ff" stroke="#000" stroke-width="1.8" stroke-linejoin="round"/>
<polygon points="1034.8,1456.1 1057.4,1441 1035.4,1442.8 1012.9,1457.6" fill="#00ff5b" stroke="#000" stroke-width="1.8" stroke-linejoin="round"/>
<polygon points="1191.8,1388.2 1213.5,1372.7 1190.4,1375.9 1168.7,1391" fill="#4eff00" stroke="#000" stroke-width="1.8" stroke-linejoin="round"/>
<polygon points="877.7,1518.8 901.2,1503.9 880.5,1504.4 857,1518.9" fill="#00fff4" stroke="#000" stroke-width="1.8" stroke-linejoin="round"/>
<polygon points="1349,1314.7 1369.9,1299 1345.5,1303.6 1324.7,1319" fill="#fff800" stroke="#000" stroke-width="1.8" stroke-linejoin="round"/>
<polygon points="1079.6,1439.2 1102,1423.9 1079.7,1426 1057.4,1441" fill="#00ff2b" stroke="#000" stroke-width="1.8" stroke-linejoin="round"/>
<polygon points="922.3,1503.5 945.6,1488.5 924.5,1489.3 901.2,1503.9" fill="#00ffc9" stroke="#000" stroke-width="1.8" stroke-linejoin="round"/>
<polygon points="1237,1369.5 1258.5,1353.9 1234.9,1357.4 1213.5,1372.7" fill="#82ff00" stroke="#000" stroke-width="1.8" stroke-linejoin="round"/>
<polygon points="1394.6,1294.3 1415.3,1278.4 1390.5,1283.4 1369.9,1299" fill="#ffc000" stroke="#000" stroke-width="1.8" stroke-linejoin="round"/>
<polygon points="1124.6,1421.8 1146.8,1406.3 1124.1,1408.8 1102,1423.9" fill="#06ff00" stroke="#000" stroke-width="1.8" stroke-linejoin="round"/>
<polygon points="967,1487.7 990.1,1472.6 968.6,1473.7 945.6,1488.5" fill="#00ff9d" stroke="#000" stroke-width="1.8" stroke-linejoin="round"/>
<polygon points="1282.3,1350.4 1303.6,1334.6 1279.7,1338.5 1258.5,1353.9" fill="#b7ff00" stroke="#000" stroke-width="1.8" stroke-linejoin="round"/>
<polygon points="1011.9,1471.5 1034.8,1456.1 1012.9,1457.6 990.1,1472.6" fill="#00ff6f" stroke="#000" stroke-width="1.8" stroke-linejoin="round"/>
<polygon points="1169.8,1403.8 1191.8,1388.2 1168.7,1391 1146.8,1406.3" fill="#38ff00" stroke="#000" stroke-width="1.8" stroke-linejoin="round"/>
<polygon points="853.9,1533.8 877.7,1518.8 857,1518.9 833.2,1533.5" fill="#00f7ff" stroke="#000" stroke-width="1.8" stroke-linejoin="round"/>
<polygon points="1327.9,1330.7 1349,1314.7 1324.7,1319 1303.6,1334.6" fill="#edff00" stroke="#000" stroke-width="1.8" stroke-linejoin="round"/>
<polygon points="1057,1454.7 1079.6,1439.2 1057.4,1441 1034.8,1456.1" fill="#00ff40" stroke="#000" stroke-width="1.8" stroke-linejoin="round"/>
<polygon points="1215.2,1385.3 1237,1369.5 1213.5,1372.7 1191.8,1388.2" fill="#6bff00" stroke="#000" stroke-width="1.8" stroke-linejoin="round"/>
<polygon points="898.7,1518.7 922.3,1503.5 901.2,1503.9 877.7,1518.8" fill="#00ffdd" stroke="#000" stroke-width="1.8" stroke-linejoin="round"/>
<polygon points="1373.7,1310.4 1394.6,1294.3 1369.9,1299 1349,1314.7" fill="#ffd900" stroke="#000" stroke-width="1.8" stroke-linejoin="round"/>
<polygon points="1102.2,1437.4 1124.6,1421.8 1102,1423.9 1079.6,1439.2" fill="#00ff10" stroke="#000" stroke-width="1.8" stroke-linejoin="round"/>
<polygon points="943.7,1503.1 967,1487.7 945.6,1488.5 922.3,1503.5" fill="#00ffb1" stroke="#000" stroke-width="1.8" stroke-linejoin="round"/>
<polygon points="1260.8,1366.3 1282.3,1350.4 1258.5,1353.9 1237,1369.5" fill="#9fff00" stroke="#000" stroke-width="1.8" stroke-linejoin="round"/>
<polygon points="1147.6,1419.6 1169.8,1403.8 1146.8,1406.3 1124.6,1421.8" fill="#21ff00" stroke="#000" stroke-width="1.8" stroke-linejoin="round"/>
<polygon points="988.8,1486.9 1011.9,1471.5 990.1,1472.6 967,1487.7" fill="#00ff84" stroke="#000" stroke-width="1.8" stroke-linejoin="round"/>
<polygon points="1306.6,1346.7 1327.9,1330.7 1303.6,1334.6 1282.3,1350.4" fill="#d5ff00" stroke="#000" stroke-width="1.8" stroke-linejoin="round"/>
<polygon points="1034.1,1470.3 1057,1454.7 1034.8,1456.1 1011.9,1471.5" fill="#00ff56" stroke="#000" stroke-width="1.8" stroke-linejoin="round"/>
<polygon points="1193.3,1401.3 1215.2,1385.3 1191.8,1388.2 1169.8,1403.8" fill="#54ff00" stroke="#000" stroke-width="1.8" stroke-linejoin="round"/>
<polygon points="874.9,1534 898.7,1518.7 877.7,1518.8 853.9,1533.8" fill="#00fff0" stroke="#000" stroke-width="1.8" stroke-linejoin="round"/>
<polygon points="1352.6,1326.7 1373.7,1310.4 1349,1314.7 1327.9,1330.7" fill="#fff200" stroke="#000" stroke-width="1.8" stroke-linejoin="round"/>
<polygon points="1079.6,1453.2 1102.2,1437.4 1079.6,1439.2 1057,1454.7" fill="#00ff26" stroke="#000" stroke-width="1.8" stroke-linejoin="round"/>
<polygon points="920.1,1518.6 943.7,1503.1 922.3,1503.5 898.7,1518.7" fill="#00ffc5" stroke="#000" stroke-width="1.8" stroke-linejoin="round"/>
<polygon points="1239.1,1382.4 1260.8,1366.3 1237,1369.5 1215.2,1385.3" fill="#87ff00" stroke="#000" stroke-width="1.8" stroke-linejoin="round"/>
<polygon points="1125.2,1435.6 1147.6,1419.6 1124.6,1421.8 1102.2,1437.4" fill="#0bff00" stroke="#000" stroke-width="1.8" stroke-linejoin="round"/>
<polygon points="965.4,1502.6 988.8,1486.9 967,1487.7 943.7,1503.1" fill="#00ff98" stroke="#000" stroke-width="1.8" stroke-linejoin="round"/>
<polygon points="1285.1,1363 1306.6,1346.7 1282.3,1350.4 1260.8,1366.3" fill="#bdff00" stroke="#000" stroke-width="1.8" stroke-linejoin="round"/>
<polygon points="1010.9,1486.2 1034.1,1470.3 1011.9,1471.5 988.8,1486.9" fill="#00ff6b" stroke="#000" stroke-width="1.8" stroke-linejoin="round"/>
<polygon points="1171,1417.4 1193.3,1401.3 1169.8,1403.8 1147.6,1419.6" fill="#3dff00" stroke="#000" stroke-width="1.8" stroke-linejoin="round"/>
<polygon points="1331.3,1343.1 1352.6,1326.7 1327.9,1330.7 1306.6,1346.7" fill="#f3ff00" stroke="#000" stroke-width="1.8" stroke-linejoin="round"/>
<polygon points="1056.6,1469.2 1079.6,1453.2 1057,1454.7 1034.1,1470.3" fill="#00ff3c" stroke="#000" stroke-width="1.8" stroke-linejoin="round"/>
<polygon points="1217,1398.7 1239.1,1382.4 1215.2,1385.3 1193.3,1401.3" fill="#70ff00" stroke="#000" stroke-width="1.8" stroke-linejoin="round"/>
<polygon points="896.2,1534.3 920.1,1518.6 898.7,1518.7 874.9,1534" fill="#00ffd9" stroke="#000" stroke-width="1.8" stroke-linejoin="round"/>
<polygon points="1102.5,1451.7 1125.2,1435.6 1102.2,1437.4 1079.6,1453.2" fill="#00ff0c" stroke="#000" stroke-width="1.8" stroke-linejoin="round"/>
<polygon points="941.8,1518.5 965.4,1502.6 943.7,1503.1 920.1,1518.6" fill="#00ffad" stroke="#000" stroke-width="1.8" stroke-linejoin="round"/>
<polygon points="1263.3,1379.5 1285.1,1363 1260.8,1366.3 1239.1,1382.4" fill="#a4ff00" stroke="#000" stroke-width="1.8" stroke-linejoin="round"/>
<polygon points="987.5,1502.2 1010.9,1486.2 988.8,1486.9 965.4,1502.6" fill="#00ff80" stroke="#000" stroke-width="1.8" stroke-linejoin="round"/>
<polygon points="1148.5,1433.7 1171,1417.4 1147.6,1419.6 1125.2,1435.6" fill="#25ff00" stroke="#000" stroke-width="1.8" stroke-linejoin="round"/>
<polygon points="1309.7,1359.7 1331.3,1343.1 1306.6,1346.7 1285.1,1363" fill="#daff00" stroke="#000" stroke-width="1.8" stroke-linejoin="round"/>
<polygon points="1033.4,1485.4 1056.6,1469.2 1034.1,1470.3 1010.9,1486.2" fill="#00ff52" stroke="#000" stroke-width="1.8" stroke-linejoin="round"/>
<polygon points="1194.8,1415.2 1217,1398.7 1193.3,1401.3 1171,1417.4" fill="#58ff00" stroke="#000" stroke-width="1.8" stroke-linejoin="round"/>
<polygon points="1079.5,1468.1 1102.5,1451.7 1079.6,1453.2 1056.6,1469.2" fill="#00ff22" stroke="#000" stroke-width="1.8" stroke-linejoin="round"/>
<polygon points="917.8,1534.5 941.8,1518.5 920.1,1518.6 896.2,1534.3" fill="#00ffc1" stroke="#000" stroke-width="1.8" stroke-linejoin="round"/>
<polygon points="1241.2,1396.1 1263.3,1379.5 1239.1,1382.4 1217,1398.7" fill="#8cff00" stroke="#000" stroke-width="1.8" stroke-linejoin="round"/>
<polygon points="1125.7,1450.2 1148.5,1433.7 1125.2,1435.6 1102.5,1451.7" fill="#0eff00" stroke="#000" stroke-width="1.8" stroke-linejoin="round"/>
<polygon points="963.8,1518.4 987.5,1502.2 965.4,1502.6 941.8,1518.5" fill="#00ff95" stroke="#000" stroke-width="1.8" stroke-linejoin="round"/>
<polygon points="1287.8,1376.5 1309.7,1359.7 1285.1,1363 1263.3,1379.5" fill="#c1ff00" stroke="#000" stroke-width="1.8" stroke-linejoin="round"/>
<polygon points="1009.9,1501.8 1033.4,1485.4 1010.9,1486.2 987.5,1502.2" fill="#00ff68" stroke="#000" stroke-width="1.8" stroke-linejoin="round"/>
<polygon points="1172.2,1431.8 1194.8,1415.2 1171,1417.4 1148.5,1433.7" fill="#40ff00" stroke="#000" stroke-width="1.8" stroke-linejoin="round"/>
<polygon points="1056.2,1484.6 1079.5,1468.1 1056.6,1469.2 1033.4,1485.4" fill="#00ff39" stroke="#000" stroke-width="1.8" stroke-linejoin="round"/>
<polygon points="1218.9,1412.9 1241.2,1396.1 1217,1398.7 1194.8,1415.2" fill="#73ff00" stroke="#000" stroke-width="1.8" stroke-linejoin="round"/>
<polygon points="1102.7,1466.9 1125.7,1450.2 1102.5,1451.7 1079.5,1468.1" fill="#00ff09" stroke="#000" stroke-width="1.8" stroke-linejoin="round"/>
<polygon points="939.8,1534.8 963.8,1518.4 941.8,1518.5 917.8,1534.5" fill="#00ffaa" stroke="#000" stroke-width="1.8" stroke-linejoin="round"/>
<polygon points="1265.7,1393.5 1287.8,1376.5 1263.3,1379.5 1241.2,1396.1" fill="#a8ff00" stroke="#000" stroke-width="1.8" stroke-linejoin="round"/>
<polygon points="986.1,1518.3 1009.9,1501.8 987.5,1502.2 963.8,1518.4" fill="#00ff7d" stroke="#000" stroke-width="1.8" stroke-linejoin="round"/>
<polygon points="1149.4,1448.7 1172.2,1431.8 1148.5,1433.7 1125.7,1450.2" fill="#29ff00" stroke="#000" stroke-width="1.8" stroke-linejoin="round"/>
<polygon points="1032.7,1501.3 1056.2,1484.6 1033.4,1485.4 1009.9,1501.8" fill="#00ff4f" stroke="#000" stroke-width="1.8" stroke-linejoin="round"/>
<polygon points="1196.3,1430 1218.9,1412.9 1194.8,1415.2 1172.2,1431.8" fill="#5bff00" stroke="#000" stroke-width="1.8" stroke-linejoin="round"/>
<polygon points="1079.4,1483.8 1102.7,1466.9 1079.5,1468.1 1056.2,1484.6" fill="#00ff20" stroke="#000" stroke-width="1.8" stroke-linejoin="round"/>
<polygon points="1243.4,1410.7 1265.7,1393.5 1241.2,1396.1 1218.9,1412.9" fill="#8fff00" stroke="#000" stroke-width="1.8" stroke-linejoin="round"/>
<polygon points="1126.3,1465.8 1149.4,1448.7 1125.7,1450.2 1102.7,1466.9" fill="#11ff00" stroke="#000" stroke-width="1.8" stroke-linejoin="round"/>
<polygon points="962.1,1535.1 986.1,1518.3 963.8,1518.4 939.8,1534.8" fill="#00ff93" stroke="#000" stroke-width="1.8" stroke-linejoin="round"/>
<polygon points="1008.9,1518.2 1032.7,1501.3 1009.9,1501.8 986.1,1518.3" fill="#00ff66" stroke="#000" stroke-width="1.8" stroke-linejoin="round"/>
<polygon points="1173.4,1447.2 1196.3,1430 1172.2,1431.8 1149.4,1448.7" fill="#43ff00" stroke="#000" stroke-width="1.8" stroke-linejoin="round"/>
<polygon points="1055.8,1500.9 1079.4,1483.8 1056.2,1484.6 1032.7,1501.3" fill="#00ff37" stroke="#000" stroke-width="1.8" stroke-linejoin="round"/>
<polygon points="1220.8,1428 1243.4,1410.7 1218.9,1412.9 1196.3,1430" fill="#76ff00" stroke="#000" stroke-width="1.8" stroke-linejoin="round"/>
<polygon points="1103,1483 1126.3,1465.8 1102.7,1466.9 1079.4,1483.8" fill="#00ff07" stroke="#000" stroke-width="1.8" stroke-linejoin="round"/>
<polygon points="984.8,1535.4 1008.9,1518.2 986.1,1518.3 962.1,1535.1" fill="#00ff7c" stroke="#000" stroke-width="1.8" stroke-linejoin="round"/>
<polygon points="1150.3,1464.6 1173.4,1447.2 1149.4,1448.7 1126.3,1465.8" fill="#2aff00" stroke="#000" stroke-width="1.8" stroke-linejoin="round"/>
<polygon points="1032,1518.2 1055.8,1500.9 1032.7,1501.3 1008.9,1518.2" fill="#00ff4e" stroke="#000" stroke-width="1.8" stroke-linejoin="round"/>
<polygon points="1197.9,1445.6 1220.8,1428 1196.3,1430 1173.4,1447.2" fill="#5dff00" stroke="#000" stroke-width="1.8" stroke-linejoin="round"/>
<polygon points="1079.3,1500.5 1103,1483 1079.4,1483.8 1055.8,1500.9" fill="#00ff1f" stroke="#000" stroke-width="1.8" stroke-linejoin="round"/>
<polygon points="1126.9,1482.2 1150.3,1464.6 1126.3,1465.8 1103,1483" fill="#12ff00" stroke="#000" stroke-width="1.8" stroke-linejoin="round"/>
<polygon points="1007.8,1535.7 1032,1518.2 1008.9,1518.2 984.8,1535.4" fill="#00ff65" stroke="#000" stroke-width="1.8" stroke-linejoin="round"/>
<polygon points="1174.7,1463.4 1197.9,1445.6 1173.4,1447.2 1150.3,1464.6" fill="#44ff00" stroke="#000" stroke-width="1.8" stroke-linejoin="round"/>
<polygon points="1055.4,1518.1 1079.3,1500.5 1055.8,1500.9 1032,1518.2" fill="#00ff36" stroke="#000" stroke-width="1.8" stroke-linejoin="round"/>
<polygon points="1103.2,1500 1126.9,1482.2 1103,1483 1079.3,1500.5" fill="#00ff06" stroke="#000" stroke-width="1.8" stroke-linejoin="round"/>
<polygon points="1151.2,1481.4 1174.7,1463.4 1150.3,1464.6 1126.9,1482.2" fill="#2bff00" stroke="#000" stroke-width="1.8" stroke-linejoin="round"/>
<polygon points="1031.2,1536 1055.4,1518.1 1032,1518.2 1007.8,1535.7" fill="#00ff4e" stroke="#000" stroke-width="1.8" stroke-linejoin="round"/>
<polygon points="1079.3,1518.1 1103.2,1500 1079.3,1500.5 1055.4,1518.1" fill="#00ff1f" stroke="#000" stroke-width="1.8" stroke-linejoin="round"/>
<polygon points="1127.5,1499.6 1151.2,1481.4 1126.9,1482.2 1103.2,1500" fill="#12ff00" stroke="#000" stroke-width="1.8" stroke-linejoin="round"/>
<polygon points="1055,1536.3 1079.3,1518.1 1055.4,1518.1 1031.2,1536" fill="#00ff37" stroke="#000" stroke-width="1.8" stroke-linejoin="round"/>
<polygon points="1103.5,1518 1127.5,1499.6 1103.2,1500 1079.3,1518.1" fill="#00ff07" stroke="#000" stroke-width="1.8" stroke-linejoin="round"/>
<polygon points="1079.2,1536.7 1103.5,1518 1079.3,1518.1 1055,1536.3" fill="#00ff20" stroke="#000" stroke-width="1.8" stroke-linejoin="round"/>
<line x1="1080.4" y1="1313.3" x2="1080.4" y2="1316.8" stroke="#000" stroke-width="1.6"/>
<circle cx="1080.4" cy="1313.3" r="8.0" fill="#b30000" stroke="#000" stroke-width="1.7"/>
<line x1="853.3" y1="1509.8" x2="853.9" y2="1533.8" stroke="#000" stroke-width="1.6"/>
<circle cx="853.3" cy="1509.8" r="8.0" fill="#b30000" stroke="#000" stroke-width="1.7"/>
<line x1="1079.2" y1="1534" x2="1079.2" y2="1536.7" stroke="#000" stroke-width="1.6"/>
<circle cx="1079.2" cy="1534" r="8.0" fill="#b30000" stroke="#000" stroke-width="1.7"/>
<line x1="1282.1" y1="1257.3" x2="1282" y2="1263" stroke="#000" stroke-width="1.6"/>
<circle cx="1282.1" cy="1257.3" r="8.0" fill="#b30000" stroke="#000" stroke-width="1.7"/>
<line x1="1515.7" y1="1188.6" x2="1515.1" y2="1201.5" stroke="#000" stroke-width="1.6"/>
<circle cx="1515.7" cy="1188.6" r="8.0" fill="#b30000" stroke="#000" stroke-width="1.7"/>
<text x="647.3" y="1562.4" font-size="28" text-anchor="end">2</text>
<text x="644.7" y="1508.8" font-size="28" text-anchor="end">4</text>
<text x="642.1" y="1455.1" font-size="28" text-anchor="end">6</text>
<text x="639.6" y="1401.5" font-size="28" text-anchor="end">8</text>
<text x="637" y="1347.9" font-size="28" text-anchor="end">10</text>
<text x="634.4" y="1294.2" font-size="28" text-anchor="end">12</text>
<text x="631.8" y="1240.6" font-size="28" text-anchor="end">14</text>
<text x="629.2" y="1186.9" font-size="28" text-anchor="end">16</text>
<text x="626.6" y="1133.3" font-size="28" text-anchor="end">18</text>
<text x="653.3" y="1727.6" font-size="28" text-anchor="end">300</text>
<text x="1095.4" y="1924.9" font-size="28" text-anchor="start">2</text>
<text x="756" y="1777" font-size="28" text-anchor="end">250</text>
<text x="1198.2" y="1875.6" font-size="28" text-anchor="start">3</text>
<text x="858.6" y="1826.4" font-size="28" text-anchor="end">200</text>
<text x="1301" y="1826.3" font-size="28" text-anchor="start">4</text>
<text x="961.3" y="1875.8" font-size="28" text-anchor="end">150</text>
<text x="1403.7" y="1777.1" font-size="28" text-anchor="start">5</text>
<text x="1063.9" y="1925.2" font-size="28" text-anchor="end">100</text>
<text x="1506.5" y="1727.8" font-size="28" text-anchor="start">6</text>
<text x="529.3" y="1889.4" font-size="36.4" text-anchor="start">B: Microwave power (W)</text>
<text x="1303.8" y="1890.1" font-size="36.4" text-anchor="start">A: Thickness (mm)</text>
<text x="0" y="0" font-size="40.6" text-anchor="middle" transform="translate(522.9 1436.1) rotate(-90)">SEC (MJ/kg)</text>
<text x="553.75" y="961.3" font-size="59" text-anchor="middle">a) Control sample</text>
<text x="1600.35" y="960.9" font-size="58.4" text-anchor="middle">b) Ultrasonication pretreatment</text>
<text x="1075.75" y="2047.9" font-size="58.8" text-anchor="middle">c) Blanching pretreatment</text>
</svg>
</body></html>
